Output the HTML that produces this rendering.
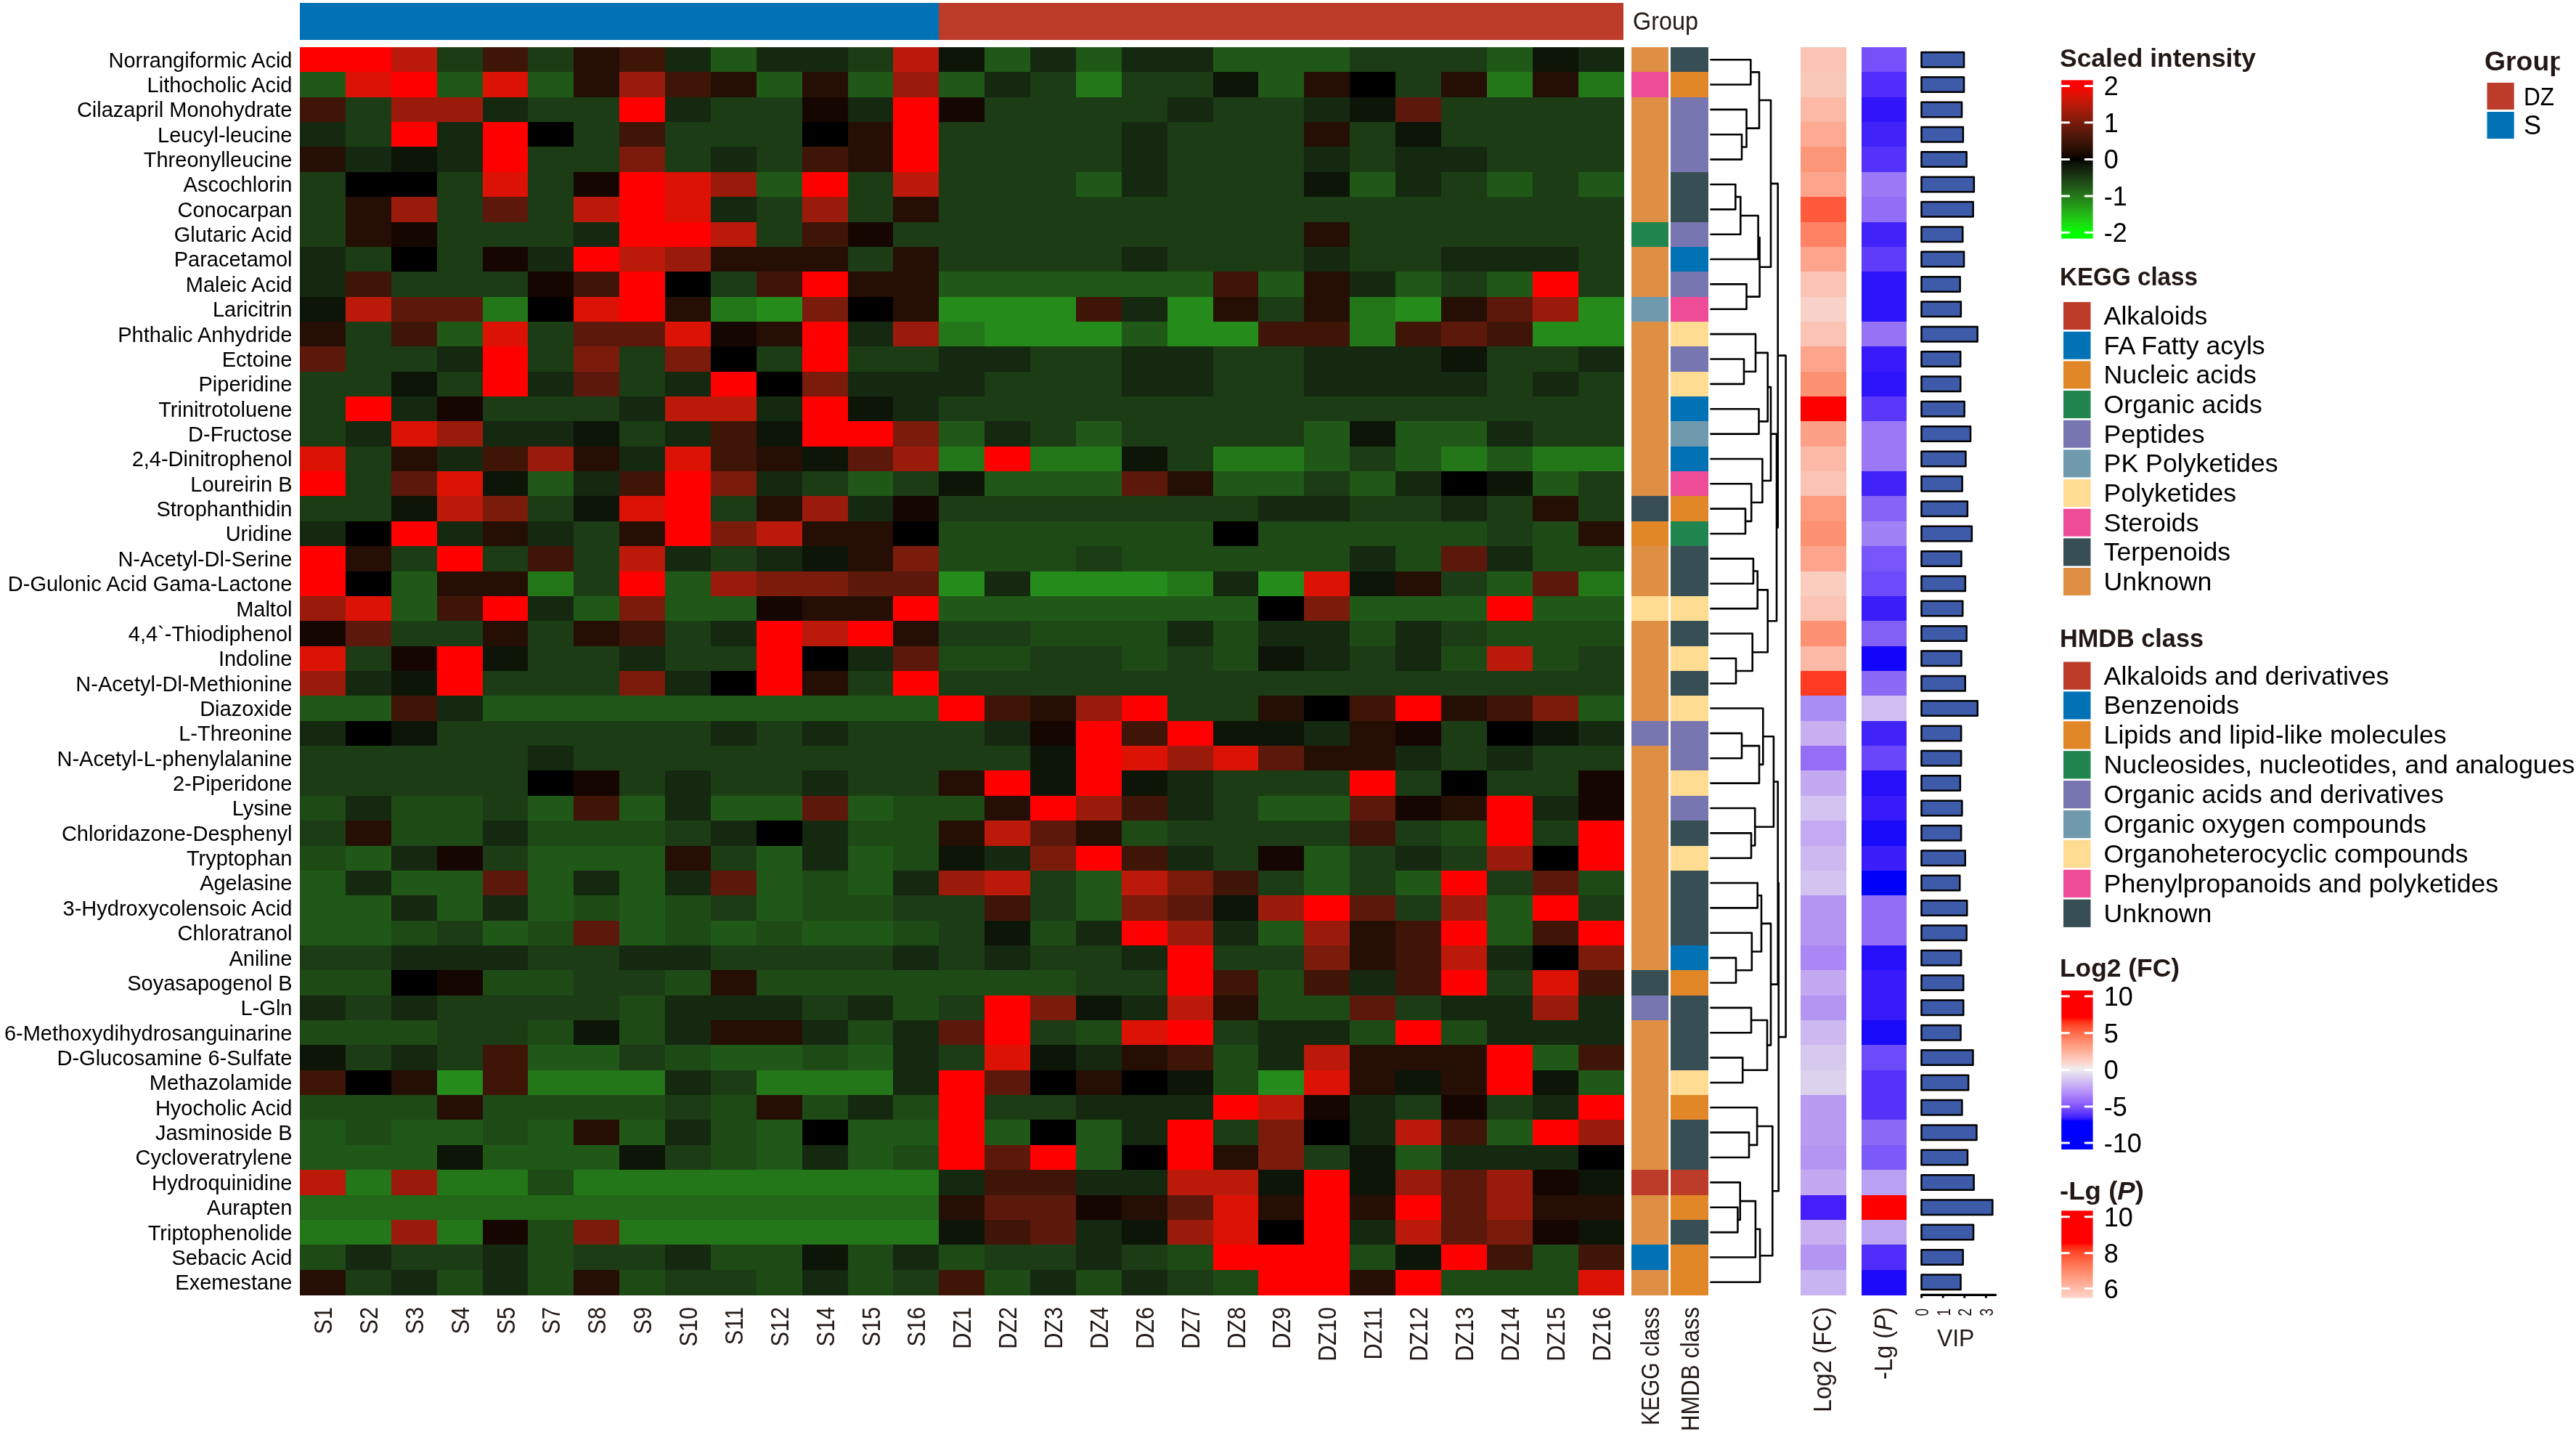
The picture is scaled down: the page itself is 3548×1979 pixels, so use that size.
<!DOCTYPE html>
<html><head><meta charset="utf-8"><style>
html,body{margin:0;padding:0;background:#fff;}
#wrap{position:relative;width:3548px;height:1979px;overflow:hidden;}
svg text{font-family:"Liberation Sans",sans-serif;}
</style></head><body><div id="wrap">
<svg width="3548" height="1979" viewBox="0 0 3548 1979" shape-rendering="crispEdges">
<rect x="0" y="0" width="3548" height="1979" fill="#ffffff"/>
<rect x="413.0" y="4" width="880.26" height="50.8" fill="#0072B5"/>
<rect x="1293.26" y="4" width="943.14" height="50.8" fill="#BC3C29"/>
<rect x="413.00" y="65.00" width="63.48" height="34.96" fill="#ff0000"/>
<rect x="475.88" y="65.00" width="63.48" height="34.96" fill="#ff0000"/>
<rect x="538.75" y="65.00" width="63.48" height="34.96" fill="#bb1909"/>
<rect x="601.63" y="65.00" width="63.48" height="34.96" fill="#1b3c14"/>
<rect x="664.50" y="65.00" width="63.48" height="34.96" fill="#3f1508"/>
<rect x="727.38" y="65.00" width="63.48" height="34.96" fill="#1b3c14"/>
<rect x="790.26" y="65.00" width="63.48" height="34.96" fill="#250f04"/>
<rect x="853.13" y="65.00" width="63.48" height="34.96" fill="#3f1508"/>
<rect x="916.01" y="65.00" width="63.48" height="34.96" fill="#152810"/>
<rect x="978.88" y="65.00" width="63.48" height="34.96" fill="#205917"/>
<rect x="1041.76" y="65.00" width="63.48" height="34.96" fill="#152810"/>
<rect x="1104.63" y="65.00" width="63.48" height="34.96" fill="#152810"/>
<rect x="1167.51" y="65.00" width="63.48" height="34.96" fill="#1b3c14"/>
<rect x="1230.39" y="65.00" width="63.48" height="34.96" fill="#bb1909"/>
<rect x="1293.26" y="65.00" width="63.48" height="34.96" fill="#0c1507"/>
<rect x="1356.14" y="65.00" width="63.48" height="34.96" fill="#205917"/>
<rect x="1419.01" y="65.00" width="63.48" height="34.96" fill="#152810"/>
<rect x="1481.89" y="65.00" width="63.48" height="34.96" fill="#205917"/>
<rect x="1544.77" y="65.00" width="63.48" height="34.96" fill="#152810"/>
<rect x="1607.64" y="65.00" width="63.48" height="34.96" fill="#152810"/>
<rect x="1670.52" y="65.00" width="63.48" height="34.96" fill="#205917"/>
<rect x="1733.39" y="65.00" width="63.48" height="34.96" fill="#205917"/>
<rect x="1796.27" y="65.00" width="63.48" height="34.96" fill="#205917"/>
<rect x="1859.14" y="65.00" width="63.48" height="34.96" fill="#1b3c14"/>
<rect x="1922.02" y="65.00" width="63.48" height="34.96" fill="#1b3c14"/>
<rect x="1984.90" y="65.00" width="63.48" height="34.96" fill="#1b3c14"/>
<rect x="2047.77" y="65.00" width="63.48" height="34.96" fill="#205917"/>
<rect x="2110.65" y="65.00" width="63.48" height="34.96" fill="#0c1507"/>
<rect x="2173.52" y="65.00" width="63.48" height="34.96" fill="#152810"/>
<rect x="413.00" y="99.36" width="63.48" height="34.96" fill="#205917"/>
<rect x="475.88" y="99.36" width="63.48" height="34.96" fill="#dc1205"/>
<rect x="538.75" y="99.36" width="63.48" height="34.96" fill="#ff0000"/>
<rect x="601.63" y="99.36" width="63.48" height="34.96" fill="#205917"/>
<rect x="664.50" y="99.36" width="63.48" height="34.96" fill="#dc1205"/>
<rect x="727.38" y="99.36" width="63.48" height="34.96" fill="#205917"/>
<rect x="790.26" y="99.36" width="63.48" height="34.96" fill="#250f04"/>
<rect x="853.13" y="99.36" width="63.48" height="34.96" fill="#9a1b0b"/>
<rect x="916.01" y="99.36" width="63.48" height="34.96" fill="#3f1508"/>
<rect x="978.88" y="99.36" width="63.48" height="34.96" fill="#250f04"/>
<rect x="1041.76" y="99.36" width="63.48" height="34.96" fill="#205917"/>
<rect x="1104.63" y="99.36" width="63.48" height="34.96" fill="#250f04"/>
<rect x="1167.51" y="99.36" width="63.48" height="34.96" fill="#205917"/>
<rect x="1230.39" y="99.36" width="63.48" height="34.96" fill="#9a1b0b"/>
<rect x="1293.26" y="99.36" width="63.48" height="34.96" fill="#205917"/>
<rect x="1356.14" y="99.36" width="63.48" height="34.96" fill="#152810"/>
<rect x="1419.01" y="99.36" width="63.48" height="34.96" fill="#1b3c14"/>
<rect x="1481.89" y="99.36" width="63.48" height="34.96" fill="#247719"/>
<rect x="1544.77" y="99.36" width="63.48" height="34.96" fill="#1b3c14"/>
<rect x="1607.64" y="99.36" width="63.48" height="34.96" fill="#1b3c14"/>
<rect x="1670.52" y="99.36" width="63.48" height="34.96" fill="#0c1507"/>
<rect x="1733.39" y="99.36" width="63.48" height="34.96" fill="#205917"/>
<rect x="1796.27" y="99.36" width="63.48" height="34.96" fill="#250f04"/>
<rect x="1859.14" y="99.36" width="63.48" height="34.96" fill="#000000"/>
<rect x="1922.02" y="99.36" width="63.48" height="34.96" fill="#1b3c14"/>
<rect x="1984.90" y="99.36" width="63.48" height="34.96" fill="#250f04"/>
<rect x="2047.77" y="99.36" width="63.48" height="34.96" fill="#247719"/>
<rect x="2110.65" y="99.36" width="63.48" height="34.96" fill="#250f04"/>
<rect x="2173.52" y="99.36" width="63.48" height="34.96" fill="#247719"/>
<rect x="413.00" y="133.72" width="63.48" height="34.96" fill="#3f1508"/>
<rect x="475.88" y="133.72" width="63.48" height="34.96" fill="#1b3c14"/>
<rect x="538.75" y="133.72" width="63.48" height="34.96" fill="#9a1b0b"/>
<rect x="601.63" y="133.72" width="63.48" height="34.96" fill="#9a1b0b"/>
<rect x="664.50" y="133.72" width="63.48" height="34.96" fill="#152810"/>
<rect x="727.38" y="133.72" width="63.48" height="34.96" fill="#1b3c14"/>
<rect x="790.26" y="133.72" width="63.48" height="34.96" fill="#1b3c14"/>
<rect x="853.13" y="133.72" width="63.48" height="34.96" fill="#ff0000"/>
<rect x="916.01" y="133.72" width="63.48" height="34.96" fill="#152810"/>
<rect x="978.88" y="133.72" width="63.48" height="34.96" fill="#1b3c14"/>
<rect x="1041.76" y="133.72" width="63.48" height="34.96" fill="#1b3c14"/>
<rect x="1104.63" y="133.72" width="63.48" height="34.96" fill="#150602"/>
<rect x="1167.51" y="133.72" width="63.48" height="34.96" fill="#152810"/>
<rect x="1230.39" y="133.72" width="63.48" height="34.96" fill="#ff0000"/>
<rect x="1293.26" y="133.72" width="63.48" height="34.96" fill="#150602"/>
<rect x="1356.14" y="133.72" width="63.48" height="34.96" fill="#1b3c14"/>
<rect x="1419.01" y="133.72" width="63.48" height="34.96" fill="#1b3c14"/>
<rect x="1481.89" y="133.72" width="63.48" height="34.96" fill="#1b3c14"/>
<rect x="1544.77" y="133.72" width="63.48" height="34.96" fill="#1b3c14"/>
<rect x="1607.64" y="133.72" width="63.48" height="34.96" fill="#152810"/>
<rect x="1670.52" y="133.72" width="63.48" height="34.96" fill="#1b3c14"/>
<rect x="1733.39" y="133.72" width="63.48" height="34.96" fill="#1b3c14"/>
<rect x="1796.27" y="133.72" width="63.48" height="34.96" fill="#152810"/>
<rect x="1859.14" y="133.72" width="63.48" height="34.96" fill="#0c1507"/>
<rect x="1922.02" y="133.72" width="63.48" height="34.96" fill="#5c190b"/>
<rect x="1984.90" y="133.72" width="63.48" height="34.96" fill="#1b3c14"/>
<rect x="2047.77" y="133.72" width="63.48" height="34.96" fill="#1b3c14"/>
<rect x="2110.65" y="133.72" width="63.48" height="34.96" fill="#1b3c14"/>
<rect x="2173.52" y="133.72" width="63.48" height="34.96" fill="#1b3c14"/>
<rect x="413.00" y="168.08" width="63.48" height="34.96" fill="#152810"/>
<rect x="475.88" y="168.08" width="63.48" height="34.96" fill="#1b3c14"/>
<rect x="538.75" y="168.08" width="63.48" height="34.96" fill="#ff0000"/>
<rect x="601.63" y="168.08" width="63.48" height="34.96" fill="#152810"/>
<rect x="664.50" y="168.08" width="63.48" height="34.96" fill="#ff0000"/>
<rect x="727.38" y="168.08" width="63.48" height="34.96" fill="#000000"/>
<rect x="790.26" y="168.08" width="63.48" height="34.96" fill="#1b3c14"/>
<rect x="853.13" y="168.08" width="63.48" height="34.96" fill="#3f1508"/>
<rect x="916.01" y="168.08" width="63.48" height="34.96" fill="#1b3c14"/>
<rect x="978.88" y="168.08" width="63.48" height="34.96" fill="#1b3c14"/>
<rect x="1041.76" y="168.08" width="63.48" height="34.96" fill="#1b3c14"/>
<rect x="1104.63" y="168.08" width="63.48" height="34.96" fill="#000000"/>
<rect x="1167.51" y="168.08" width="63.48" height="34.96" fill="#250f04"/>
<rect x="1230.39" y="168.08" width="63.48" height="34.96" fill="#ff0000"/>
<rect x="1293.26" y="168.08" width="63.48" height="34.96" fill="#1b3c14"/>
<rect x="1356.14" y="168.08" width="63.48" height="34.96" fill="#1b3c14"/>
<rect x="1419.01" y="168.08" width="63.48" height="34.96" fill="#1b3c14"/>
<rect x="1481.89" y="168.08" width="63.48" height="34.96" fill="#1b3c14"/>
<rect x="1544.77" y="168.08" width="63.48" height="34.96" fill="#152810"/>
<rect x="1607.64" y="168.08" width="63.48" height="34.96" fill="#1b3c14"/>
<rect x="1670.52" y="168.08" width="63.48" height="34.96" fill="#1b3c14"/>
<rect x="1733.39" y="168.08" width="63.48" height="34.96" fill="#1b3c14"/>
<rect x="1796.27" y="168.08" width="63.48" height="34.96" fill="#250f04"/>
<rect x="1859.14" y="168.08" width="63.48" height="34.96" fill="#1b3c14"/>
<rect x="1922.02" y="168.08" width="63.48" height="34.96" fill="#0c1507"/>
<rect x="1984.90" y="168.08" width="63.48" height="34.96" fill="#1b3c14"/>
<rect x="2047.77" y="168.08" width="63.48" height="34.96" fill="#1b3c14"/>
<rect x="2110.65" y="168.08" width="63.48" height="34.96" fill="#1b3c14"/>
<rect x="2173.52" y="168.08" width="63.48" height="34.96" fill="#1b3c14"/>
<rect x="413.00" y="202.44" width="63.48" height="34.96" fill="#250f04"/>
<rect x="475.88" y="202.44" width="63.48" height="34.96" fill="#152810"/>
<rect x="538.75" y="202.44" width="63.48" height="34.96" fill="#0c1507"/>
<rect x="601.63" y="202.44" width="63.48" height="34.96" fill="#152810"/>
<rect x="664.50" y="202.44" width="63.48" height="34.96" fill="#ff0000"/>
<rect x="727.38" y="202.44" width="63.48" height="34.96" fill="#1b3c14"/>
<rect x="790.26" y="202.44" width="63.48" height="34.96" fill="#1b3c14"/>
<rect x="853.13" y="202.44" width="63.48" height="34.96" fill="#7a1b0c"/>
<rect x="916.01" y="202.44" width="63.48" height="34.96" fill="#1b3c14"/>
<rect x="978.88" y="202.44" width="63.48" height="34.96" fill="#152810"/>
<rect x="1041.76" y="202.44" width="63.48" height="34.96" fill="#1b3c14"/>
<rect x="1104.63" y="202.44" width="63.48" height="34.96" fill="#3f1508"/>
<rect x="1167.51" y="202.44" width="63.48" height="34.96" fill="#250f04"/>
<rect x="1230.39" y="202.44" width="63.48" height="34.96" fill="#ff0000"/>
<rect x="1293.26" y="202.44" width="63.48" height="34.96" fill="#1b3c14"/>
<rect x="1356.14" y="202.44" width="63.48" height="34.96" fill="#1b3c14"/>
<rect x="1419.01" y="202.44" width="63.48" height="34.96" fill="#1b3c14"/>
<rect x="1481.89" y="202.44" width="63.48" height="34.96" fill="#1b3c14"/>
<rect x="1544.77" y="202.44" width="63.48" height="34.96" fill="#152810"/>
<rect x="1607.64" y="202.44" width="63.48" height="34.96" fill="#1b3c14"/>
<rect x="1670.52" y="202.44" width="63.48" height="34.96" fill="#1b3c14"/>
<rect x="1733.39" y="202.44" width="63.48" height="34.96" fill="#1b3c14"/>
<rect x="1796.27" y="202.44" width="63.48" height="34.96" fill="#152810"/>
<rect x="1859.14" y="202.44" width="63.48" height="34.96" fill="#1b3c14"/>
<rect x="1922.02" y="202.44" width="63.48" height="34.96" fill="#152810"/>
<rect x="1984.90" y="202.44" width="63.48" height="34.96" fill="#152810"/>
<rect x="2047.77" y="202.44" width="63.48" height="34.96" fill="#1b3c14"/>
<rect x="2110.65" y="202.44" width="63.48" height="34.96" fill="#1b3c14"/>
<rect x="2173.52" y="202.44" width="63.48" height="34.96" fill="#1b3c14"/>
<rect x="413.00" y="236.80" width="63.48" height="34.96" fill="#1b3c14"/>
<rect x="475.88" y="236.80" width="63.48" height="34.96" fill="#000000"/>
<rect x="538.75" y="236.80" width="63.48" height="34.96" fill="#000000"/>
<rect x="601.63" y="236.80" width="63.48" height="34.96" fill="#1b3c14"/>
<rect x="664.50" y="236.80" width="63.48" height="34.96" fill="#dc1205"/>
<rect x="727.38" y="236.80" width="63.48" height="34.96" fill="#1b3c14"/>
<rect x="790.26" y="236.80" width="63.48" height="34.96" fill="#150602"/>
<rect x="853.13" y="236.80" width="63.48" height="34.96" fill="#ff0000"/>
<rect x="916.01" y="236.80" width="63.48" height="34.96" fill="#dc1205"/>
<rect x="978.88" y="236.80" width="63.48" height="34.96" fill="#9a1b0b"/>
<rect x="1041.76" y="236.80" width="63.48" height="34.96" fill="#205917"/>
<rect x="1104.63" y="236.80" width="63.48" height="34.96" fill="#ff0000"/>
<rect x="1167.51" y="236.80" width="63.48" height="34.96" fill="#1b3c14"/>
<rect x="1230.39" y="236.80" width="63.48" height="34.96" fill="#bb1909"/>
<rect x="1293.26" y="236.80" width="63.48" height="34.96" fill="#1b3c14"/>
<rect x="1356.14" y="236.80" width="63.48" height="34.96" fill="#1b3c14"/>
<rect x="1419.01" y="236.80" width="63.48" height="34.96" fill="#1b3c14"/>
<rect x="1481.89" y="236.80" width="63.48" height="34.96" fill="#205917"/>
<rect x="1544.77" y="236.80" width="63.48" height="34.96" fill="#152810"/>
<rect x="1607.64" y="236.80" width="63.48" height="34.96" fill="#1b3c14"/>
<rect x="1670.52" y="236.80" width="63.48" height="34.96" fill="#1b3c14"/>
<rect x="1733.39" y="236.80" width="63.48" height="34.96" fill="#1b3c14"/>
<rect x="1796.27" y="236.80" width="63.48" height="34.96" fill="#0c1507"/>
<rect x="1859.14" y="236.80" width="63.48" height="34.96" fill="#205917"/>
<rect x="1922.02" y="236.80" width="63.48" height="34.96" fill="#152810"/>
<rect x="1984.90" y="236.80" width="63.48" height="34.96" fill="#1b3c14"/>
<rect x="2047.77" y="236.80" width="63.48" height="34.96" fill="#205917"/>
<rect x="2110.65" y="236.80" width="63.48" height="34.96" fill="#1b3c14"/>
<rect x="2173.52" y="236.80" width="63.48" height="34.96" fill="#205917"/>
<rect x="413.00" y="271.16" width="63.48" height="34.96" fill="#1b3c14"/>
<rect x="475.88" y="271.16" width="63.48" height="34.96" fill="#250f04"/>
<rect x="538.75" y="271.16" width="63.48" height="34.96" fill="#9a1b0b"/>
<rect x="601.63" y="271.16" width="63.48" height="34.96" fill="#1b3c14"/>
<rect x="664.50" y="271.16" width="63.48" height="34.96" fill="#5c190b"/>
<rect x="727.38" y="271.16" width="63.48" height="34.96" fill="#1b3c14"/>
<rect x="790.26" y="271.16" width="63.48" height="34.96" fill="#bb1909"/>
<rect x="853.13" y="271.16" width="63.48" height="34.96" fill="#ff0000"/>
<rect x="916.01" y="271.16" width="63.48" height="34.96" fill="#dc1205"/>
<rect x="978.88" y="271.16" width="63.48" height="34.96" fill="#152810"/>
<rect x="1041.76" y="271.16" width="63.48" height="34.96" fill="#1b3c14"/>
<rect x="1104.63" y="271.16" width="63.48" height="34.96" fill="#9a1b0b"/>
<rect x="1167.51" y="271.16" width="63.48" height="34.96" fill="#1b3c14"/>
<rect x="1230.39" y="271.16" width="63.48" height="34.96" fill="#250f04"/>
<rect x="1293.26" y="271.16" width="63.48" height="34.96" fill="#1b3c14"/>
<rect x="1356.14" y="271.16" width="63.48" height="34.96" fill="#1b3c14"/>
<rect x="1419.01" y="271.16" width="63.48" height="34.96" fill="#1b3c14"/>
<rect x="1481.89" y="271.16" width="63.48" height="34.96" fill="#1b3c14"/>
<rect x="1544.77" y="271.16" width="63.48" height="34.96" fill="#1b3c14"/>
<rect x="1607.64" y="271.16" width="63.48" height="34.96" fill="#1b3c14"/>
<rect x="1670.52" y="271.16" width="63.48" height="34.96" fill="#1b3c14"/>
<rect x="1733.39" y="271.16" width="63.48" height="34.96" fill="#1b3c14"/>
<rect x="1796.27" y="271.16" width="63.48" height="34.96" fill="#1b3c14"/>
<rect x="1859.14" y="271.16" width="63.48" height="34.96" fill="#1b3c14"/>
<rect x="1922.02" y="271.16" width="63.48" height="34.96" fill="#1b3c14"/>
<rect x="1984.90" y="271.16" width="63.48" height="34.96" fill="#1b3c14"/>
<rect x="2047.77" y="271.16" width="63.48" height="34.96" fill="#1b3c14"/>
<rect x="2110.65" y="271.16" width="63.48" height="34.96" fill="#1b3c14"/>
<rect x="2173.52" y="271.16" width="63.48" height="34.96" fill="#1b3c14"/>
<rect x="413.00" y="305.52" width="63.48" height="34.96" fill="#1b3c14"/>
<rect x="475.88" y="305.52" width="63.48" height="34.96" fill="#250f04"/>
<rect x="538.75" y="305.52" width="63.48" height="34.96" fill="#150602"/>
<rect x="601.63" y="305.52" width="63.48" height="34.96" fill="#1b3c14"/>
<rect x="664.50" y="305.52" width="63.48" height="34.96" fill="#1b3c14"/>
<rect x="727.38" y="305.52" width="63.48" height="34.96" fill="#1b3c14"/>
<rect x="790.26" y="305.52" width="63.48" height="34.96" fill="#152810"/>
<rect x="853.13" y="305.52" width="63.48" height="34.96" fill="#ff0000"/>
<rect x="916.01" y="305.52" width="63.48" height="34.96" fill="#ff0000"/>
<rect x="978.88" y="305.52" width="63.48" height="34.96" fill="#bb1909"/>
<rect x="1041.76" y="305.52" width="63.48" height="34.96" fill="#1b3c14"/>
<rect x="1104.63" y="305.52" width="63.48" height="34.96" fill="#3f1508"/>
<rect x="1167.51" y="305.52" width="63.48" height="34.96" fill="#150602"/>
<rect x="1230.39" y="305.52" width="63.48" height="34.96" fill="#1b3c14"/>
<rect x="1293.26" y="305.52" width="63.48" height="34.96" fill="#1b3c14"/>
<rect x="1356.14" y="305.52" width="63.48" height="34.96" fill="#1b3c14"/>
<rect x="1419.01" y="305.52" width="63.48" height="34.96" fill="#1b3c14"/>
<rect x="1481.89" y="305.52" width="63.48" height="34.96" fill="#1b3c14"/>
<rect x="1544.77" y="305.52" width="63.48" height="34.96" fill="#1b3c14"/>
<rect x="1607.64" y="305.52" width="63.48" height="34.96" fill="#1b3c14"/>
<rect x="1670.52" y="305.52" width="63.48" height="34.96" fill="#1b3c14"/>
<rect x="1733.39" y="305.52" width="63.48" height="34.96" fill="#1b3c14"/>
<rect x="1796.27" y="305.52" width="63.48" height="34.96" fill="#250f04"/>
<rect x="1859.14" y="305.52" width="63.48" height="34.96" fill="#1b3c14"/>
<rect x="1922.02" y="305.52" width="63.48" height="34.96" fill="#1b3c14"/>
<rect x="1984.90" y="305.52" width="63.48" height="34.96" fill="#1b3c14"/>
<rect x="2047.77" y="305.52" width="63.48" height="34.96" fill="#1b3c14"/>
<rect x="2110.65" y="305.52" width="63.48" height="34.96" fill="#1b3c14"/>
<rect x="2173.52" y="305.52" width="63.48" height="34.96" fill="#1b3c14"/>
<rect x="413.00" y="339.88" width="63.48" height="34.96" fill="#152810"/>
<rect x="475.88" y="339.88" width="63.48" height="34.96" fill="#1b3c14"/>
<rect x="538.75" y="339.88" width="63.48" height="34.96" fill="#000000"/>
<rect x="601.63" y="339.88" width="63.48" height="34.96" fill="#1b3c14"/>
<rect x="664.50" y="339.88" width="63.48" height="34.96" fill="#150602"/>
<rect x="727.38" y="339.88" width="63.48" height="34.96" fill="#152810"/>
<rect x="790.26" y="339.88" width="63.48" height="34.96" fill="#ff0000"/>
<rect x="853.13" y="339.88" width="63.48" height="34.96" fill="#bb1909"/>
<rect x="916.01" y="339.88" width="63.48" height="34.96" fill="#9a1b0b"/>
<rect x="978.88" y="339.88" width="63.48" height="34.96" fill="#250f04"/>
<rect x="1041.76" y="339.88" width="63.48" height="34.96" fill="#250f04"/>
<rect x="1104.63" y="339.88" width="63.48" height="34.96" fill="#250f04"/>
<rect x="1167.51" y="339.88" width="63.48" height="34.96" fill="#1b3c14"/>
<rect x="1230.39" y="339.88" width="63.48" height="34.96" fill="#250f04"/>
<rect x="1293.26" y="339.88" width="63.48" height="34.96" fill="#1b3c14"/>
<rect x="1356.14" y="339.88" width="63.48" height="34.96" fill="#1b3c14"/>
<rect x="1419.01" y="339.88" width="63.48" height="34.96" fill="#1b3c14"/>
<rect x="1481.89" y="339.88" width="63.48" height="34.96" fill="#1b3c14"/>
<rect x="1544.77" y="339.88" width="63.48" height="34.96" fill="#152810"/>
<rect x="1607.64" y="339.88" width="63.48" height="34.96" fill="#1b3c14"/>
<rect x="1670.52" y="339.88" width="63.48" height="34.96" fill="#1b3c14"/>
<rect x="1733.39" y="339.88" width="63.48" height="34.96" fill="#1b3c14"/>
<rect x="1796.27" y="339.88" width="63.48" height="34.96" fill="#152810"/>
<rect x="1859.14" y="339.88" width="63.48" height="34.96" fill="#1b3c14"/>
<rect x="1922.02" y="339.88" width="63.48" height="34.96" fill="#1b3c14"/>
<rect x="1984.90" y="339.88" width="63.48" height="34.96" fill="#152810"/>
<rect x="2047.77" y="339.88" width="63.48" height="34.96" fill="#152810"/>
<rect x="2110.65" y="339.88" width="63.48" height="34.96" fill="#152810"/>
<rect x="2173.52" y="339.88" width="63.48" height="34.96" fill="#1b3c14"/>
<rect x="413.00" y="374.24" width="63.48" height="34.96" fill="#152810"/>
<rect x="475.88" y="374.24" width="63.48" height="34.96" fill="#3f1508"/>
<rect x="538.75" y="374.24" width="63.48" height="34.96" fill="#1b3c14"/>
<rect x="601.63" y="374.24" width="63.48" height="34.96" fill="#1b3c14"/>
<rect x="664.50" y="374.24" width="63.48" height="34.96" fill="#1b3c14"/>
<rect x="727.38" y="374.24" width="63.48" height="34.96" fill="#150602"/>
<rect x="790.26" y="374.24" width="63.48" height="34.96" fill="#3f1508"/>
<rect x="853.13" y="374.24" width="63.48" height="34.96" fill="#ff0000"/>
<rect x="916.01" y="374.24" width="63.48" height="34.96" fill="#000000"/>
<rect x="978.88" y="374.24" width="63.48" height="34.96" fill="#1b3c14"/>
<rect x="1041.76" y="374.24" width="63.48" height="34.96" fill="#3f1508"/>
<rect x="1104.63" y="374.24" width="63.48" height="34.96" fill="#ff0000"/>
<rect x="1167.51" y="374.24" width="63.48" height="34.96" fill="#250f04"/>
<rect x="1230.39" y="374.24" width="63.48" height="34.96" fill="#250f04"/>
<rect x="1293.26" y="374.24" width="63.48" height="34.96" fill="#205917"/>
<rect x="1356.14" y="374.24" width="63.48" height="34.96" fill="#205917"/>
<rect x="1419.01" y="374.24" width="63.48" height="34.96" fill="#205917"/>
<rect x="1481.89" y="374.24" width="63.48" height="34.96" fill="#205917"/>
<rect x="1544.77" y="374.24" width="63.48" height="34.96" fill="#205917"/>
<rect x="1607.64" y="374.24" width="63.48" height="34.96" fill="#205917"/>
<rect x="1670.52" y="374.24" width="63.48" height="34.96" fill="#3f1508"/>
<rect x="1733.39" y="374.24" width="63.48" height="34.96" fill="#205917"/>
<rect x="1796.27" y="374.24" width="63.48" height="34.96" fill="#250f04"/>
<rect x="1859.14" y="374.24" width="63.48" height="34.96" fill="#152810"/>
<rect x="1922.02" y="374.24" width="63.48" height="34.96" fill="#205917"/>
<rect x="1984.90" y="374.24" width="63.48" height="34.96" fill="#1b3c14"/>
<rect x="2047.77" y="374.24" width="63.48" height="34.96" fill="#205917"/>
<rect x="2110.65" y="374.24" width="63.48" height="34.96" fill="#ff0000"/>
<rect x="2173.52" y="374.24" width="63.48" height="34.96" fill="#1b3c14"/>
<rect x="413.00" y="408.60" width="63.48" height="34.96" fill="#0c1507"/>
<rect x="475.88" y="408.60" width="63.48" height="34.96" fill="#bb1909"/>
<rect x="538.75" y="408.60" width="63.48" height="34.96" fill="#5c190b"/>
<rect x="601.63" y="408.60" width="63.48" height="34.96" fill="#5c190b"/>
<rect x="664.50" y="408.60" width="63.48" height="34.96" fill="#247719"/>
<rect x="727.38" y="408.60" width="63.48" height="34.96" fill="#000000"/>
<rect x="790.26" y="408.60" width="63.48" height="34.96" fill="#dc1205"/>
<rect x="853.13" y="408.60" width="63.48" height="34.96" fill="#ff0000"/>
<rect x="916.01" y="408.60" width="63.48" height="34.96" fill="#250f04"/>
<rect x="978.88" y="408.60" width="63.48" height="34.96" fill="#247719"/>
<rect x="1041.76" y="408.60" width="63.48" height="34.96" fill="#258b1a"/>
<rect x="1104.63" y="408.60" width="63.48" height="34.96" fill="#7a1b0c"/>
<rect x="1167.51" y="408.60" width="63.48" height="34.96" fill="#000000"/>
<rect x="1230.39" y="408.60" width="63.48" height="34.96" fill="#250f04"/>
<rect x="1293.26" y="408.60" width="63.48" height="34.96" fill="#258b1a"/>
<rect x="1356.14" y="408.60" width="63.48" height="34.96" fill="#258b1a"/>
<rect x="1419.01" y="408.60" width="63.48" height="34.96" fill="#258b1a"/>
<rect x="1481.89" y="408.60" width="63.48" height="34.96" fill="#3f1508"/>
<rect x="1544.77" y="408.60" width="63.48" height="34.96" fill="#152810"/>
<rect x="1607.64" y="408.60" width="63.48" height="34.96" fill="#258b1a"/>
<rect x="1670.52" y="408.60" width="63.48" height="34.96" fill="#250f04"/>
<rect x="1733.39" y="408.60" width="63.48" height="34.96" fill="#1b3c14"/>
<rect x="1796.27" y="408.60" width="63.48" height="34.96" fill="#250f04"/>
<rect x="1859.14" y="408.60" width="63.48" height="34.96" fill="#247719"/>
<rect x="1922.02" y="408.60" width="63.48" height="34.96" fill="#258b1a"/>
<rect x="1984.90" y="408.60" width="63.48" height="34.96" fill="#250f04"/>
<rect x="2047.77" y="408.60" width="63.48" height="34.96" fill="#5c190b"/>
<rect x="2110.65" y="408.60" width="63.48" height="34.96" fill="#9a1b0b"/>
<rect x="2173.52" y="408.60" width="63.48" height="34.96" fill="#258b1a"/>
<rect x="413.00" y="442.96" width="63.48" height="34.96" fill="#250f04"/>
<rect x="475.88" y="442.96" width="63.48" height="34.96" fill="#1b3c14"/>
<rect x="538.75" y="442.96" width="63.48" height="34.96" fill="#3f1508"/>
<rect x="601.63" y="442.96" width="63.48" height="34.96" fill="#205917"/>
<rect x="664.50" y="442.96" width="63.48" height="34.96" fill="#dc1205"/>
<rect x="727.38" y="442.96" width="63.48" height="34.96" fill="#1b3c14"/>
<rect x="790.26" y="442.96" width="63.48" height="34.96" fill="#5c190b"/>
<rect x="853.13" y="442.96" width="63.48" height="34.96" fill="#5c190b"/>
<rect x="916.01" y="442.96" width="63.48" height="34.96" fill="#dc1205"/>
<rect x="978.88" y="442.96" width="63.48" height="34.96" fill="#150602"/>
<rect x="1041.76" y="442.96" width="63.48" height="34.96" fill="#250f04"/>
<rect x="1104.63" y="442.96" width="63.48" height="34.96" fill="#ff0000"/>
<rect x="1167.51" y="442.96" width="63.48" height="34.96" fill="#152810"/>
<rect x="1230.39" y="442.96" width="63.48" height="34.96" fill="#9a1b0b"/>
<rect x="1293.26" y="442.96" width="63.48" height="34.96" fill="#247719"/>
<rect x="1356.14" y="442.96" width="63.48" height="34.96" fill="#258b1a"/>
<rect x="1419.01" y="442.96" width="63.48" height="34.96" fill="#258b1a"/>
<rect x="1481.89" y="442.96" width="63.48" height="34.96" fill="#258b1a"/>
<rect x="1544.77" y="442.96" width="63.48" height="34.96" fill="#205917"/>
<rect x="1607.64" y="442.96" width="63.48" height="34.96" fill="#258b1a"/>
<rect x="1670.52" y="442.96" width="63.48" height="34.96" fill="#258b1a"/>
<rect x="1733.39" y="442.96" width="63.48" height="34.96" fill="#3f1508"/>
<rect x="1796.27" y="442.96" width="63.48" height="34.96" fill="#3f1508"/>
<rect x="1859.14" y="442.96" width="63.48" height="34.96" fill="#247719"/>
<rect x="1922.02" y="442.96" width="63.48" height="34.96" fill="#3f1508"/>
<rect x="1984.90" y="442.96" width="63.48" height="34.96" fill="#5c190b"/>
<rect x="2047.77" y="442.96" width="63.48" height="34.96" fill="#3f1508"/>
<rect x="2110.65" y="442.96" width="63.48" height="34.96" fill="#258b1a"/>
<rect x="2173.52" y="442.96" width="63.48" height="34.96" fill="#258b1a"/>
<rect x="413.00" y="477.32" width="63.48" height="34.96" fill="#5c190b"/>
<rect x="475.88" y="477.32" width="63.48" height="34.96" fill="#1b3c14"/>
<rect x="538.75" y="477.32" width="63.48" height="34.96" fill="#1b3c14"/>
<rect x="601.63" y="477.32" width="63.48" height="34.96" fill="#152810"/>
<rect x="664.50" y="477.32" width="63.48" height="34.96" fill="#ff0000"/>
<rect x="727.38" y="477.32" width="63.48" height="34.96" fill="#1b3c14"/>
<rect x="790.26" y="477.32" width="63.48" height="34.96" fill="#7a1b0c"/>
<rect x="853.13" y="477.32" width="63.48" height="34.96" fill="#1b3c14"/>
<rect x="916.01" y="477.32" width="63.48" height="34.96" fill="#7a1b0c"/>
<rect x="978.88" y="477.32" width="63.48" height="34.96" fill="#000000"/>
<rect x="1041.76" y="477.32" width="63.48" height="34.96" fill="#1b3c14"/>
<rect x="1104.63" y="477.32" width="63.48" height="34.96" fill="#ff0000"/>
<rect x="1167.51" y="477.32" width="63.48" height="34.96" fill="#1b3c14"/>
<rect x="1230.39" y="477.32" width="63.48" height="34.96" fill="#1b3c14"/>
<rect x="1293.26" y="477.32" width="63.48" height="34.96" fill="#152810"/>
<rect x="1356.14" y="477.32" width="63.48" height="34.96" fill="#152810"/>
<rect x="1419.01" y="477.32" width="63.48" height="34.96" fill="#1b3c14"/>
<rect x="1481.89" y="477.32" width="63.48" height="34.96" fill="#1b3c14"/>
<rect x="1544.77" y="477.32" width="63.48" height="34.96" fill="#152810"/>
<rect x="1607.64" y="477.32" width="63.48" height="34.96" fill="#152810"/>
<rect x="1670.52" y="477.32" width="63.48" height="34.96" fill="#1b3c14"/>
<rect x="1733.39" y="477.32" width="63.48" height="34.96" fill="#1b3c14"/>
<rect x="1796.27" y="477.32" width="63.48" height="34.96" fill="#152810"/>
<rect x="1859.14" y="477.32" width="63.48" height="34.96" fill="#152810"/>
<rect x="1922.02" y="477.32" width="63.48" height="34.96" fill="#152810"/>
<rect x="1984.90" y="477.32" width="63.48" height="34.96" fill="#0c1507"/>
<rect x="2047.77" y="477.32" width="63.48" height="34.96" fill="#1b3c14"/>
<rect x="2110.65" y="477.32" width="63.48" height="34.96" fill="#1b3c14"/>
<rect x="2173.52" y="477.32" width="63.48" height="34.96" fill="#152810"/>
<rect x="413.00" y="511.68" width="63.48" height="34.96" fill="#1b3c14"/>
<rect x="475.88" y="511.68" width="63.48" height="34.96" fill="#1b3c14"/>
<rect x="538.75" y="511.68" width="63.48" height="34.96" fill="#0c1507"/>
<rect x="601.63" y="511.68" width="63.48" height="34.96" fill="#1b3c14"/>
<rect x="664.50" y="511.68" width="63.48" height="34.96" fill="#ff0000"/>
<rect x="727.38" y="511.68" width="63.48" height="34.96" fill="#152810"/>
<rect x="790.26" y="511.68" width="63.48" height="34.96" fill="#5c190b"/>
<rect x="853.13" y="511.68" width="63.48" height="34.96" fill="#1b3c14"/>
<rect x="916.01" y="511.68" width="63.48" height="34.96" fill="#152810"/>
<rect x="978.88" y="511.68" width="63.48" height="34.96" fill="#ff0000"/>
<rect x="1041.76" y="511.68" width="63.48" height="34.96" fill="#000000"/>
<rect x="1104.63" y="511.68" width="63.48" height="34.96" fill="#7a1b0c"/>
<rect x="1167.51" y="511.68" width="63.48" height="34.96" fill="#152810"/>
<rect x="1230.39" y="511.68" width="63.48" height="34.96" fill="#152810"/>
<rect x="1293.26" y="511.68" width="63.48" height="34.96" fill="#152810"/>
<rect x="1356.14" y="511.68" width="63.48" height="34.96" fill="#1b3c14"/>
<rect x="1419.01" y="511.68" width="63.48" height="34.96" fill="#1b3c14"/>
<rect x="1481.89" y="511.68" width="63.48" height="34.96" fill="#1b3c14"/>
<rect x="1544.77" y="511.68" width="63.48" height="34.96" fill="#152810"/>
<rect x="1607.64" y="511.68" width="63.48" height="34.96" fill="#152810"/>
<rect x="1670.52" y="511.68" width="63.48" height="34.96" fill="#1b3c14"/>
<rect x="1733.39" y="511.68" width="63.48" height="34.96" fill="#1b3c14"/>
<rect x="1796.27" y="511.68" width="63.48" height="34.96" fill="#152810"/>
<rect x="1859.14" y="511.68" width="63.48" height="34.96" fill="#152810"/>
<rect x="1922.02" y="511.68" width="63.48" height="34.96" fill="#152810"/>
<rect x="1984.90" y="511.68" width="63.48" height="34.96" fill="#152810"/>
<rect x="2047.77" y="511.68" width="63.48" height="34.96" fill="#1b3c14"/>
<rect x="2110.65" y="511.68" width="63.48" height="34.96" fill="#152810"/>
<rect x="2173.52" y="511.68" width="63.48" height="34.96" fill="#1b3c14"/>
<rect x="413.00" y="546.04" width="63.48" height="34.96" fill="#1b3c14"/>
<rect x="475.88" y="546.04" width="63.48" height="34.96" fill="#ff0000"/>
<rect x="538.75" y="546.04" width="63.48" height="34.96" fill="#152810"/>
<rect x="601.63" y="546.04" width="63.48" height="34.96" fill="#150602"/>
<rect x="664.50" y="546.04" width="63.48" height="34.96" fill="#1b3c14"/>
<rect x="727.38" y="546.04" width="63.48" height="34.96" fill="#1b3c14"/>
<rect x="790.26" y="546.04" width="63.48" height="34.96" fill="#1b3c14"/>
<rect x="853.13" y="546.04" width="63.48" height="34.96" fill="#152810"/>
<rect x="916.01" y="546.04" width="63.48" height="34.96" fill="#bb1909"/>
<rect x="978.88" y="546.04" width="63.48" height="34.96" fill="#bb1909"/>
<rect x="1041.76" y="546.04" width="63.48" height="34.96" fill="#152810"/>
<rect x="1104.63" y="546.04" width="63.48" height="34.96" fill="#ff0000"/>
<rect x="1167.51" y="546.04" width="63.48" height="34.96" fill="#0c1507"/>
<rect x="1230.39" y="546.04" width="63.48" height="34.96" fill="#152810"/>
<rect x="1293.26" y="546.04" width="63.48" height="34.96" fill="#1b3c14"/>
<rect x="1356.14" y="546.04" width="63.48" height="34.96" fill="#1b3c14"/>
<rect x="1419.01" y="546.04" width="63.48" height="34.96" fill="#1b3c14"/>
<rect x="1481.89" y="546.04" width="63.48" height="34.96" fill="#1b3c14"/>
<rect x="1544.77" y="546.04" width="63.48" height="34.96" fill="#1b3c14"/>
<rect x="1607.64" y="546.04" width="63.48" height="34.96" fill="#1b3c14"/>
<rect x="1670.52" y="546.04" width="63.48" height="34.96" fill="#1b3c14"/>
<rect x="1733.39" y="546.04" width="63.48" height="34.96" fill="#1b3c14"/>
<rect x="1796.27" y="546.04" width="63.48" height="34.96" fill="#1b3c14"/>
<rect x="1859.14" y="546.04" width="63.48" height="34.96" fill="#1b3c14"/>
<rect x="1922.02" y="546.04" width="63.48" height="34.96" fill="#1b3c14"/>
<rect x="1984.90" y="546.04" width="63.48" height="34.96" fill="#1b3c14"/>
<rect x="2047.77" y="546.04" width="63.48" height="34.96" fill="#1b3c14"/>
<rect x="2110.65" y="546.04" width="63.48" height="34.96" fill="#1b3c14"/>
<rect x="2173.52" y="546.04" width="63.48" height="34.96" fill="#1b3c14"/>
<rect x="413.00" y="580.40" width="63.48" height="34.96" fill="#1b3c14"/>
<rect x="475.88" y="580.40" width="63.48" height="34.96" fill="#152810"/>
<rect x="538.75" y="580.40" width="63.48" height="34.96" fill="#dc1205"/>
<rect x="601.63" y="580.40" width="63.48" height="34.96" fill="#9a1b0b"/>
<rect x="664.50" y="580.40" width="63.48" height="34.96" fill="#152810"/>
<rect x="727.38" y="580.40" width="63.48" height="34.96" fill="#152810"/>
<rect x="790.26" y="580.40" width="63.48" height="34.96" fill="#0c1507"/>
<rect x="853.13" y="580.40" width="63.48" height="34.96" fill="#1b3c14"/>
<rect x="916.01" y="580.40" width="63.48" height="34.96" fill="#152810"/>
<rect x="978.88" y="580.40" width="63.48" height="34.96" fill="#3f1508"/>
<rect x="1041.76" y="580.40" width="63.48" height="34.96" fill="#0c1507"/>
<rect x="1104.63" y="580.40" width="63.48" height="34.96" fill="#ff0000"/>
<rect x="1167.51" y="580.40" width="63.48" height="34.96" fill="#ff0000"/>
<rect x="1230.39" y="580.40" width="63.48" height="34.96" fill="#7a1b0c"/>
<rect x="1293.26" y="580.40" width="63.48" height="34.96" fill="#205917"/>
<rect x="1356.14" y="580.40" width="63.48" height="34.96" fill="#152810"/>
<rect x="1419.01" y="580.40" width="63.48" height="34.96" fill="#1b3c14"/>
<rect x="1481.89" y="580.40" width="63.48" height="34.96" fill="#205917"/>
<rect x="1544.77" y="580.40" width="63.48" height="34.96" fill="#1b3c14"/>
<rect x="1607.64" y="580.40" width="63.48" height="34.96" fill="#1b3c14"/>
<rect x="1670.52" y="580.40" width="63.48" height="34.96" fill="#1b3c14"/>
<rect x="1733.39" y="580.40" width="63.48" height="34.96" fill="#1b3c14"/>
<rect x="1796.27" y="580.40" width="63.48" height="34.96" fill="#205917"/>
<rect x="1859.14" y="580.40" width="63.48" height="34.96" fill="#0c1507"/>
<rect x="1922.02" y="580.40" width="63.48" height="34.96" fill="#205917"/>
<rect x="1984.90" y="580.40" width="63.48" height="34.96" fill="#205917"/>
<rect x="2047.77" y="580.40" width="63.48" height="34.96" fill="#152810"/>
<rect x="2110.65" y="580.40" width="63.48" height="34.96" fill="#1b3c14"/>
<rect x="2173.52" y="580.40" width="63.48" height="34.96" fill="#1b3c14"/>
<rect x="413.00" y="614.76" width="63.48" height="34.96" fill="#dc1205"/>
<rect x="475.88" y="614.76" width="63.48" height="34.96" fill="#1b3c14"/>
<rect x="538.75" y="614.76" width="63.48" height="34.96" fill="#250f04"/>
<rect x="601.63" y="614.76" width="63.48" height="34.96" fill="#152810"/>
<rect x="664.50" y="614.76" width="63.48" height="34.96" fill="#3f1508"/>
<rect x="727.38" y="614.76" width="63.48" height="34.96" fill="#9a1b0b"/>
<rect x="790.26" y="614.76" width="63.48" height="34.96" fill="#250f04"/>
<rect x="853.13" y="614.76" width="63.48" height="34.96" fill="#152810"/>
<rect x="916.01" y="614.76" width="63.48" height="34.96" fill="#dc1205"/>
<rect x="978.88" y="614.76" width="63.48" height="34.96" fill="#3f1508"/>
<rect x="1041.76" y="614.76" width="63.48" height="34.96" fill="#250f04"/>
<rect x="1104.63" y="614.76" width="63.48" height="34.96" fill="#0c1507"/>
<rect x="1167.51" y="614.76" width="63.48" height="34.96" fill="#5c190b"/>
<rect x="1230.39" y="614.76" width="63.48" height="34.96" fill="#9a1b0b"/>
<rect x="1293.26" y="614.76" width="63.48" height="34.96" fill="#247719"/>
<rect x="1356.14" y="614.76" width="63.48" height="34.96" fill="#ff0000"/>
<rect x="1419.01" y="614.76" width="63.48" height="34.96" fill="#247719"/>
<rect x="1481.89" y="614.76" width="63.48" height="34.96" fill="#247719"/>
<rect x="1544.77" y="614.76" width="63.48" height="34.96" fill="#0c1507"/>
<rect x="1607.64" y="614.76" width="63.48" height="34.96" fill="#1b3c14"/>
<rect x="1670.52" y="614.76" width="63.48" height="34.96" fill="#247719"/>
<rect x="1733.39" y="614.76" width="63.48" height="34.96" fill="#247719"/>
<rect x="1796.27" y="614.76" width="63.48" height="34.96" fill="#205917"/>
<rect x="1859.14" y="614.76" width="63.48" height="34.96" fill="#1b3c14"/>
<rect x="1922.02" y="614.76" width="63.48" height="34.96" fill="#205917"/>
<rect x="1984.90" y="614.76" width="63.48" height="34.96" fill="#247719"/>
<rect x="2047.77" y="614.76" width="63.48" height="34.96" fill="#205917"/>
<rect x="2110.65" y="614.76" width="63.48" height="34.96" fill="#247719"/>
<rect x="2173.52" y="614.76" width="63.48" height="34.96" fill="#247719"/>
<rect x="413.00" y="649.12" width="63.48" height="34.96" fill="#ff0000"/>
<rect x="475.88" y="649.12" width="63.48" height="34.96" fill="#1b3c14"/>
<rect x="538.75" y="649.12" width="63.48" height="34.96" fill="#5c190b"/>
<rect x="601.63" y="649.12" width="63.48" height="34.96" fill="#dc1205"/>
<rect x="664.50" y="649.12" width="63.48" height="34.96" fill="#0c1507"/>
<rect x="727.38" y="649.12" width="63.48" height="34.96" fill="#205917"/>
<rect x="790.26" y="649.12" width="63.48" height="34.96" fill="#152810"/>
<rect x="853.13" y="649.12" width="63.48" height="34.96" fill="#3f1508"/>
<rect x="916.01" y="649.12" width="63.48" height="34.96" fill="#ff0000"/>
<rect x="978.88" y="649.12" width="63.48" height="34.96" fill="#7a1b0c"/>
<rect x="1041.76" y="649.12" width="63.48" height="34.96" fill="#152810"/>
<rect x="1104.63" y="649.12" width="63.48" height="34.96" fill="#1b3c14"/>
<rect x="1167.51" y="649.12" width="63.48" height="34.96" fill="#205917"/>
<rect x="1230.39" y="649.12" width="63.48" height="34.96" fill="#1b3c14"/>
<rect x="1293.26" y="649.12" width="63.48" height="34.96" fill="#0c1507"/>
<rect x="1356.14" y="649.12" width="63.48" height="34.96" fill="#205917"/>
<rect x="1419.01" y="649.12" width="63.48" height="34.96" fill="#205917"/>
<rect x="1481.89" y="649.12" width="63.48" height="34.96" fill="#205917"/>
<rect x="1544.77" y="649.12" width="63.48" height="34.96" fill="#5c190b"/>
<rect x="1607.64" y="649.12" width="63.48" height="34.96" fill="#250f04"/>
<rect x="1670.52" y="649.12" width="63.48" height="34.96" fill="#205917"/>
<rect x="1733.39" y="649.12" width="63.48" height="34.96" fill="#205917"/>
<rect x="1796.27" y="649.12" width="63.48" height="34.96" fill="#1b3c14"/>
<rect x="1859.14" y="649.12" width="63.48" height="34.96" fill="#205917"/>
<rect x="1922.02" y="649.12" width="63.48" height="34.96" fill="#152810"/>
<rect x="1984.90" y="649.12" width="63.48" height="34.96" fill="#000000"/>
<rect x="2047.77" y="649.12" width="63.48" height="34.96" fill="#0c1507"/>
<rect x="2110.65" y="649.12" width="63.48" height="34.96" fill="#205917"/>
<rect x="2173.52" y="649.12" width="63.48" height="34.96" fill="#1b3c14"/>
<rect x="413.00" y="683.48" width="63.48" height="34.96" fill="#1b3c14"/>
<rect x="475.88" y="683.48" width="63.48" height="34.96" fill="#1b3c14"/>
<rect x="538.75" y="683.48" width="63.48" height="34.96" fill="#0c1507"/>
<rect x="601.63" y="683.48" width="63.48" height="34.96" fill="#bb1909"/>
<rect x="664.50" y="683.48" width="63.48" height="34.96" fill="#7a1b0c"/>
<rect x="727.38" y="683.48" width="63.48" height="34.96" fill="#1b3c14"/>
<rect x="790.26" y="683.48" width="63.48" height="34.96" fill="#0c1507"/>
<rect x="853.13" y="683.48" width="63.48" height="34.96" fill="#dc1205"/>
<rect x="916.01" y="683.48" width="63.48" height="34.96" fill="#ff0000"/>
<rect x="978.88" y="683.48" width="63.48" height="34.96" fill="#1b3c14"/>
<rect x="1041.76" y="683.48" width="63.48" height="34.96" fill="#250f04"/>
<rect x="1104.63" y="683.48" width="63.48" height="34.96" fill="#9a1b0b"/>
<rect x="1167.51" y="683.48" width="63.48" height="34.96" fill="#152810"/>
<rect x="1230.39" y="683.48" width="63.48" height="34.96" fill="#150602"/>
<rect x="1293.26" y="683.48" width="63.48" height="34.96" fill="#1b3c14"/>
<rect x="1356.14" y="683.48" width="63.48" height="34.96" fill="#1b3c14"/>
<rect x="1419.01" y="683.48" width="63.48" height="34.96" fill="#1b3c14"/>
<rect x="1481.89" y="683.48" width="63.48" height="34.96" fill="#1b3c14"/>
<rect x="1544.77" y="683.48" width="63.48" height="34.96" fill="#1b3c14"/>
<rect x="1607.64" y="683.48" width="63.48" height="34.96" fill="#1b3c14"/>
<rect x="1670.52" y="683.48" width="63.48" height="34.96" fill="#1b3c14"/>
<rect x="1733.39" y="683.48" width="63.48" height="34.96" fill="#152810"/>
<rect x="1796.27" y="683.48" width="63.48" height="34.96" fill="#152810"/>
<rect x="1859.14" y="683.48" width="63.48" height="34.96" fill="#1b3c14"/>
<rect x="1922.02" y="683.48" width="63.48" height="34.96" fill="#1b3c14"/>
<rect x="1984.90" y="683.48" width="63.48" height="34.96" fill="#152810"/>
<rect x="2047.77" y="683.48" width="63.48" height="34.96" fill="#1b3c14"/>
<rect x="2110.65" y="683.48" width="63.48" height="34.96" fill="#250f04"/>
<rect x="2173.52" y="683.48" width="63.48" height="34.96" fill="#1b3c14"/>
<rect x="413.00" y="717.84" width="63.48" height="34.96" fill="#152810"/>
<rect x="475.88" y="717.84" width="63.48" height="34.96" fill="#000000"/>
<rect x="538.75" y="717.84" width="63.48" height="34.96" fill="#ff0000"/>
<rect x="601.63" y="717.84" width="63.48" height="34.96" fill="#152810"/>
<rect x="664.50" y="717.84" width="63.48" height="34.96" fill="#250f04"/>
<rect x="727.38" y="717.84" width="63.48" height="34.96" fill="#152810"/>
<rect x="790.26" y="717.84" width="63.48" height="34.96" fill="#1b3c14"/>
<rect x="853.13" y="717.84" width="63.48" height="34.96" fill="#250f04"/>
<rect x="916.01" y="717.84" width="63.48" height="34.96" fill="#ff0000"/>
<rect x="978.88" y="717.84" width="63.48" height="34.96" fill="#7a1b0c"/>
<rect x="1041.76" y="717.84" width="63.48" height="34.96" fill="#bb1909"/>
<rect x="1104.63" y="717.84" width="63.48" height="34.96" fill="#250f04"/>
<rect x="1167.51" y="717.84" width="63.48" height="34.96" fill="#250f04"/>
<rect x="1230.39" y="717.84" width="63.48" height="34.96" fill="#000000"/>
<rect x="1293.26" y="717.84" width="63.48" height="34.96" fill="#1e4a16"/>
<rect x="1356.14" y="717.84" width="63.48" height="34.96" fill="#1e4a16"/>
<rect x="1419.01" y="717.84" width="63.48" height="34.96" fill="#1e4a16"/>
<rect x="1481.89" y="717.84" width="63.48" height="34.96" fill="#1e4a16"/>
<rect x="1544.77" y="717.84" width="63.48" height="34.96" fill="#1e4a16"/>
<rect x="1607.64" y="717.84" width="63.48" height="34.96" fill="#1e4a16"/>
<rect x="1670.52" y="717.84" width="63.48" height="34.96" fill="#000000"/>
<rect x="1733.39" y="717.84" width="63.48" height="34.96" fill="#1e4a16"/>
<rect x="1796.27" y="717.84" width="63.48" height="34.96" fill="#1e4a16"/>
<rect x="1859.14" y="717.84" width="63.48" height="34.96" fill="#1e4a16"/>
<rect x="1922.02" y="717.84" width="63.48" height="34.96" fill="#1e4a16"/>
<rect x="1984.90" y="717.84" width="63.48" height="34.96" fill="#1e4a16"/>
<rect x="2047.77" y="717.84" width="63.48" height="34.96" fill="#1b3c14"/>
<rect x="2110.65" y="717.84" width="63.48" height="34.96" fill="#1e4a16"/>
<rect x="2173.52" y="717.84" width="63.48" height="34.96" fill="#250f04"/>
<rect x="413.00" y="752.20" width="63.48" height="34.96" fill="#ff0000"/>
<rect x="475.88" y="752.20" width="63.48" height="34.96" fill="#250f04"/>
<rect x="538.75" y="752.20" width="63.48" height="34.96" fill="#1b3c14"/>
<rect x="601.63" y="752.20" width="63.48" height="34.96" fill="#ff0000"/>
<rect x="664.50" y="752.20" width="63.48" height="34.96" fill="#1b3c14"/>
<rect x="727.38" y="752.20" width="63.48" height="34.96" fill="#3f1508"/>
<rect x="790.26" y="752.20" width="63.48" height="34.96" fill="#1b3c14"/>
<rect x="853.13" y="752.20" width="63.48" height="34.96" fill="#bb1909"/>
<rect x="916.01" y="752.20" width="63.48" height="34.96" fill="#152810"/>
<rect x="978.88" y="752.20" width="63.48" height="34.96" fill="#1b3c14"/>
<rect x="1041.76" y="752.20" width="63.48" height="34.96" fill="#152810"/>
<rect x="1104.63" y="752.20" width="63.48" height="34.96" fill="#0c1507"/>
<rect x="1167.51" y="752.20" width="63.48" height="34.96" fill="#250f04"/>
<rect x="1230.39" y="752.20" width="63.48" height="34.96" fill="#7a1b0c"/>
<rect x="1293.26" y="752.20" width="63.48" height="34.96" fill="#1e4a16"/>
<rect x="1356.14" y="752.20" width="63.48" height="34.96" fill="#1e4a16"/>
<rect x="1419.01" y="752.20" width="63.48" height="34.96" fill="#1e4a16"/>
<rect x="1481.89" y="752.20" width="63.48" height="34.96" fill="#1b3c14"/>
<rect x="1544.77" y="752.20" width="63.48" height="34.96" fill="#1e4a16"/>
<rect x="1607.64" y="752.20" width="63.48" height="34.96" fill="#1e4a16"/>
<rect x="1670.52" y="752.20" width="63.48" height="34.96" fill="#1e4a16"/>
<rect x="1733.39" y="752.20" width="63.48" height="34.96" fill="#1e4a16"/>
<rect x="1796.27" y="752.20" width="63.48" height="34.96" fill="#1e4a16"/>
<rect x="1859.14" y="752.20" width="63.48" height="34.96" fill="#152810"/>
<rect x="1922.02" y="752.20" width="63.48" height="34.96" fill="#1e4a16"/>
<rect x="1984.90" y="752.20" width="63.48" height="34.96" fill="#5c190b"/>
<rect x="2047.77" y="752.20" width="63.48" height="34.96" fill="#152810"/>
<rect x="2110.65" y="752.20" width="63.48" height="34.96" fill="#1e4a16"/>
<rect x="2173.52" y="752.20" width="63.48" height="34.96" fill="#1e4a16"/>
<rect x="413.00" y="786.56" width="63.48" height="34.96" fill="#ff0000"/>
<rect x="475.88" y="786.56" width="63.48" height="34.96" fill="#000000"/>
<rect x="538.75" y="786.56" width="63.48" height="34.96" fill="#205917"/>
<rect x="601.63" y="786.56" width="63.48" height="34.96" fill="#250f04"/>
<rect x="664.50" y="786.56" width="63.48" height="34.96" fill="#250f04"/>
<rect x="727.38" y="786.56" width="63.48" height="34.96" fill="#247719"/>
<rect x="790.26" y="786.56" width="63.48" height="34.96" fill="#1b3c14"/>
<rect x="853.13" y="786.56" width="63.48" height="34.96" fill="#ff0000"/>
<rect x="916.01" y="786.56" width="63.48" height="34.96" fill="#205917"/>
<rect x="978.88" y="786.56" width="63.48" height="34.96" fill="#9a1b0b"/>
<rect x="1041.76" y="786.56" width="63.48" height="34.96" fill="#7a1b0c"/>
<rect x="1104.63" y="786.56" width="63.48" height="34.96" fill="#7a1b0c"/>
<rect x="1167.51" y="786.56" width="63.48" height="34.96" fill="#5c190b"/>
<rect x="1230.39" y="786.56" width="63.48" height="34.96" fill="#5c190b"/>
<rect x="1293.26" y="786.56" width="63.48" height="34.96" fill="#258b1a"/>
<rect x="1356.14" y="786.56" width="63.48" height="34.96" fill="#152810"/>
<rect x="1419.01" y="786.56" width="63.48" height="34.96" fill="#258b1a"/>
<rect x="1481.89" y="786.56" width="63.48" height="34.96" fill="#258b1a"/>
<rect x="1544.77" y="786.56" width="63.48" height="34.96" fill="#258b1a"/>
<rect x="1607.64" y="786.56" width="63.48" height="34.96" fill="#247719"/>
<rect x="1670.52" y="786.56" width="63.48" height="34.96" fill="#152810"/>
<rect x="1733.39" y="786.56" width="63.48" height="34.96" fill="#258b1a"/>
<rect x="1796.27" y="786.56" width="63.48" height="34.96" fill="#dc1205"/>
<rect x="1859.14" y="786.56" width="63.48" height="34.96" fill="#0c1507"/>
<rect x="1922.02" y="786.56" width="63.48" height="34.96" fill="#250f04"/>
<rect x="1984.90" y="786.56" width="63.48" height="34.96" fill="#1b3c14"/>
<rect x="2047.77" y="786.56" width="63.48" height="34.96" fill="#205917"/>
<rect x="2110.65" y="786.56" width="63.48" height="34.96" fill="#5c190b"/>
<rect x="2173.52" y="786.56" width="63.48" height="34.96" fill="#247719"/>
<rect x="413.00" y="820.92" width="63.48" height="34.96" fill="#9a1b0b"/>
<rect x="475.88" y="820.92" width="63.48" height="34.96" fill="#dc1205"/>
<rect x="538.75" y="820.92" width="63.48" height="34.96" fill="#205917"/>
<rect x="601.63" y="820.92" width="63.48" height="34.96" fill="#3f1508"/>
<rect x="664.50" y="820.92" width="63.48" height="34.96" fill="#ff0000"/>
<rect x="727.38" y="820.92" width="63.48" height="34.96" fill="#152810"/>
<rect x="790.26" y="820.92" width="63.48" height="34.96" fill="#205917"/>
<rect x="853.13" y="820.92" width="63.48" height="34.96" fill="#7a1b0c"/>
<rect x="916.01" y="820.92" width="63.48" height="34.96" fill="#205917"/>
<rect x="978.88" y="820.92" width="63.48" height="34.96" fill="#205917"/>
<rect x="1041.76" y="820.92" width="63.48" height="34.96" fill="#150602"/>
<rect x="1104.63" y="820.92" width="63.48" height="34.96" fill="#250f04"/>
<rect x="1167.51" y="820.92" width="63.48" height="34.96" fill="#250f04"/>
<rect x="1230.39" y="820.92" width="63.48" height="34.96" fill="#ff0000"/>
<rect x="1293.26" y="820.92" width="63.48" height="34.96" fill="#205917"/>
<rect x="1356.14" y="820.92" width="63.48" height="34.96" fill="#205917"/>
<rect x="1419.01" y="820.92" width="63.48" height="34.96" fill="#205917"/>
<rect x="1481.89" y="820.92" width="63.48" height="34.96" fill="#205917"/>
<rect x="1544.77" y="820.92" width="63.48" height="34.96" fill="#205917"/>
<rect x="1607.64" y="820.92" width="63.48" height="34.96" fill="#205917"/>
<rect x="1670.52" y="820.92" width="63.48" height="34.96" fill="#205917"/>
<rect x="1733.39" y="820.92" width="63.48" height="34.96" fill="#000000"/>
<rect x="1796.27" y="820.92" width="63.48" height="34.96" fill="#7a1b0c"/>
<rect x="1859.14" y="820.92" width="63.48" height="34.96" fill="#205917"/>
<rect x="1922.02" y="820.92" width="63.48" height="34.96" fill="#205917"/>
<rect x="1984.90" y="820.92" width="63.48" height="34.96" fill="#205917"/>
<rect x="2047.77" y="820.92" width="63.48" height="34.96" fill="#ff0000"/>
<rect x="2110.65" y="820.92" width="63.48" height="34.96" fill="#205917"/>
<rect x="2173.52" y="820.92" width="63.48" height="34.96" fill="#205917"/>
<rect x="413.00" y="855.28" width="63.48" height="34.96" fill="#150602"/>
<rect x="475.88" y="855.28" width="63.48" height="34.96" fill="#5c190b"/>
<rect x="538.75" y="855.28" width="63.48" height="34.96" fill="#1b3c14"/>
<rect x="601.63" y="855.28" width="63.48" height="34.96" fill="#1b3c14"/>
<rect x="664.50" y="855.28" width="63.48" height="34.96" fill="#250f04"/>
<rect x="727.38" y="855.28" width="63.48" height="34.96" fill="#1b3c14"/>
<rect x="790.26" y="855.28" width="63.48" height="34.96" fill="#250f04"/>
<rect x="853.13" y="855.28" width="63.48" height="34.96" fill="#3f1508"/>
<rect x="916.01" y="855.28" width="63.48" height="34.96" fill="#1b3c14"/>
<rect x="978.88" y="855.28" width="63.48" height="34.96" fill="#152810"/>
<rect x="1041.76" y="855.28" width="63.48" height="34.96" fill="#ff0000"/>
<rect x="1104.63" y="855.28" width="63.48" height="34.96" fill="#bb1909"/>
<rect x="1167.51" y="855.28" width="63.48" height="34.96" fill="#ff0000"/>
<rect x="1230.39" y="855.28" width="63.48" height="34.96" fill="#250f04"/>
<rect x="1293.26" y="855.28" width="63.48" height="34.96" fill="#1b3c14"/>
<rect x="1356.14" y="855.28" width="63.48" height="34.96" fill="#1b3c14"/>
<rect x="1419.01" y="855.28" width="63.48" height="34.96" fill="#1e4a16"/>
<rect x="1481.89" y="855.28" width="63.48" height="34.96" fill="#1e4a16"/>
<rect x="1544.77" y="855.28" width="63.48" height="34.96" fill="#1e4a16"/>
<rect x="1607.64" y="855.28" width="63.48" height="34.96" fill="#152810"/>
<rect x="1670.52" y="855.28" width="63.48" height="34.96" fill="#1e4a16"/>
<rect x="1733.39" y="855.28" width="63.48" height="34.96" fill="#152810"/>
<rect x="1796.27" y="855.28" width="63.48" height="34.96" fill="#152810"/>
<rect x="1859.14" y="855.28" width="63.48" height="34.96" fill="#1e4a16"/>
<rect x="1922.02" y="855.28" width="63.48" height="34.96" fill="#152810"/>
<rect x="1984.90" y="855.28" width="63.48" height="34.96" fill="#1b3c14"/>
<rect x="2047.77" y="855.28" width="63.48" height="34.96" fill="#1e4a16"/>
<rect x="2110.65" y="855.28" width="63.48" height="34.96" fill="#1e4a16"/>
<rect x="2173.52" y="855.28" width="63.48" height="34.96" fill="#1e4a16"/>
<rect x="413.00" y="889.64" width="63.48" height="34.96" fill="#dc1205"/>
<rect x="475.88" y="889.64" width="63.48" height="34.96" fill="#1b3c14"/>
<rect x="538.75" y="889.64" width="63.48" height="34.96" fill="#150602"/>
<rect x="601.63" y="889.64" width="63.48" height="34.96" fill="#ff0000"/>
<rect x="664.50" y="889.64" width="63.48" height="34.96" fill="#0c1507"/>
<rect x="727.38" y="889.64" width="63.48" height="34.96" fill="#1b3c14"/>
<rect x="790.26" y="889.64" width="63.48" height="34.96" fill="#1b3c14"/>
<rect x="853.13" y="889.64" width="63.48" height="34.96" fill="#152810"/>
<rect x="916.01" y="889.64" width="63.48" height="34.96" fill="#1b3c14"/>
<rect x="978.88" y="889.64" width="63.48" height="34.96" fill="#1b3c14"/>
<rect x="1041.76" y="889.64" width="63.48" height="34.96" fill="#ff0000"/>
<rect x="1104.63" y="889.64" width="63.48" height="34.96" fill="#000000"/>
<rect x="1167.51" y="889.64" width="63.48" height="34.96" fill="#152810"/>
<rect x="1230.39" y="889.64" width="63.48" height="34.96" fill="#5c190b"/>
<rect x="1293.26" y="889.64" width="63.48" height="34.96" fill="#1e4a16"/>
<rect x="1356.14" y="889.64" width="63.48" height="34.96" fill="#1e4a16"/>
<rect x="1419.01" y="889.64" width="63.48" height="34.96" fill="#1b3c14"/>
<rect x="1481.89" y="889.64" width="63.48" height="34.96" fill="#1b3c14"/>
<rect x="1544.77" y="889.64" width="63.48" height="34.96" fill="#1e4a16"/>
<rect x="1607.64" y="889.64" width="63.48" height="34.96" fill="#1b3c14"/>
<rect x="1670.52" y="889.64" width="63.48" height="34.96" fill="#1e4a16"/>
<rect x="1733.39" y="889.64" width="63.48" height="34.96" fill="#0c1507"/>
<rect x="1796.27" y="889.64" width="63.48" height="34.96" fill="#152810"/>
<rect x="1859.14" y="889.64" width="63.48" height="34.96" fill="#1b3c14"/>
<rect x="1922.02" y="889.64" width="63.48" height="34.96" fill="#152810"/>
<rect x="1984.90" y="889.64" width="63.48" height="34.96" fill="#1e4a16"/>
<rect x="2047.77" y="889.64" width="63.48" height="34.96" fill="#bb1909"/>
<rect x="2110.65" y="889.64" width="63.48" height="34.96" fill="#1e4a16"/>
<rect x="2173.52" y="889.64" width="63.48" height="34.96" fill="#1b3c14"/>
<rect x="413.00" y="924.00" width="63.48" height="34.96" fill="#9a1b0b"/>
<rect x="475.88" y="924.00" width="63.48" height="34.96" fill="#152810"/>
<rect x="538.75" y="924.00" width="63.48" height="34.96" fill="#0c1507"/>
<rect x="601.63" y="924.00" width="63.48" height="34.96" fill="#ff0000"/>
<rect x="664.50" y="924.00" width="63.48" height="34.96" fill="#1b3c14"/>
<rect x="727.38" y="924.00" width="63.48" height="34.96" fill="#1b3c14"/>
<rect x="790.26" y="924.00" width="63.48" height="34.96" fill="#1b3c14"/>
<rect x="853.13" y="924.00" width="63.48" height="34.96" fill="#7a1b0c"/>
<rect x="916.01" y="924.00" width="63.48" height="34.96" fill="#152810"/>
<rect x="978.88" y="924.00" width="63.48" height="34.96" fill="#000000"/>
<rect x="1041.76" y="924.00" width="63.48" height="34.96" fill="#ff0000"/>
<rect x="1104.63" y="924.00" width="63.48" height="34.96" fill="#250f04"/>
<rect x="1167.51" y="924.00" width="63.48" height="34.96" fill="#1b3c14"/>
<rect x="1230.39" y="924.00" width="63.48" height="34.96" fill="#ff0000"/>
<rect x="1293.26" y="924.00" width="63.48" height="34.96" fill="#1b3c14"/>
<rect x="1356.14" y="924.00" width="63.48" height="34.96" fill="#1b3c14"/>
<rect x="1419.01" y="924.00" width="63.48" height="34.96" fill="#1b3c14"/>
<rect x="1481.89" y="924.00" width="63.48" height="34.96" fill="#1b3c14"/>
<rect x="1544.77" y="924.00" width="63.48" height="34.96" fill="#1b3c14"/>
<rect x="1607.64" y="924.00" width="63.48" height="34.96" fill="#1b3c14"/>
<rect x="1670.52" y="924.00" width="63.48" height="34.96" fill="#1b3c14"/>
<rect x="1733.39" y="924.00" width="63.48" height="34.96" fill="#1b3c14"/>
<rect x="1796.27" y="924.00" width="63.48" height="34.96" fill="#1b3c14"/>
<rect x="1859.14" y="924.00" width="63.48" height="34.96" fill="#1b3c14"/>
<rect x="1922.02" y="924.00" width="63.48" height="34.96" fill="#1b3c14"/>
<rect x="1984.90" y="924.00" width="63.48" height="34.96" fill="#1b3c14"/>
<rect x="2047.77" y="924.00" width="63.48" height="34.96" fill="#1b3c14"/>
<rect x="2110.65" y="924.00" width="63.48" height="34.96" fill="#1b3c14"/>
<rect x="2173.52" y="924.00" width="63.48" height="34.96" fill="#1b3c14"/>
<rect x="413.00" y="958.36" width="63.48" height="34.96" fill="#205917"/>
<rect x="475.88" y="958.36" width="63.48" height="34.96" fill="#205917"/>
<rect x="538.75" y="958.36" width="63.48" height="34.96" fill="#3f1508"/>
<rect x="601.63" y="958.36" width="63.48" height="34.96" fill="#152810"/>
<rect x="664.50" y="958.36" width="63.48" height="34.96" fill="#205917"/>
<rect x="727.38" y="958.36" width="63.48" height="34.96" fill="#205917"/>
<rect x="790.26" y="958.36" width="63.48" height="34.96" fill="#205917"/>
<rect x="853.13" y="958.36" width="63.48" height="34.96" fill="#205917"/>
<rect x="916.01" y="958.36" width="63.48" height="34.96" fill="#205917"/>
<rect x="978.88" y="958.36" width="63.48" height="34.96" fill="#205917"/>
<rect x="1041.76" y="958.36" width="63.48" height="34.96" fill="#205917"/>
<rect x="1104.63" y="958.36" width="63.48" height="34.96" fill="#205917"/>
<rect x="1167.51" y="958.36" width="63.48" height="34.96" fill="#205917"/>
<rect x="1230.39" y="958.36" width="63.48" height="34.96" fill="#205917"/>
<rect x="1293.26" y="958.36" width="63.48" height="34.96" fill="#ff0000"/>
<rect x="1356.14" y="958.36" width="63.48" height="34.96" fill="#3f1508"/>
<rect x="1419.01" y="958.36" width="63.48" height="34.96" fill="#250f04"/>
<rect x="1481.89" y="958.36" width="63.48" height="34.96" fill="#9a1b0b"/>
<rect x="1544.77" y="958.36" width="63.48" height="34.96" fill="#ff0000"/>
<rect x="1607.64" y="958.36" width="63.48" height="34.96" fill="#1b3c14"/>
<rect x="1670.52" y="958.36" width="63.48" height="34.96" fill="#1b3c14"/>
<rect x="1733.39" y="958.36" width="63.48" height="34.96" fill="#250f04"/>
<rect x="1796.27" y="958.36" width="63.48" height="34.96" fill="#000000"/>
<rect x="1859.14" y="958.36" width="63.48" height="34.96" fill="#3f1508"/>
<rect x="1922.02" y="958.36" width="63.48" height="34.96" fill="#ff0000"/>
<rect x="1984.90" y="958.36" width="63.48" height="34.96" fill="#250f04"/>
<rect x="2047.77" y="958.36" width="63.48" height="34.96" fill="#3f1508"/>
<rect x="2110.65" y="958.36" width="63.48" height="34.96" fill="#7a1b0c"/>
<rect x="2173.52" y="958.36" width="63.48" height="34.96" fill="#205917"/>
<rect x="413.00" y="992.72" width="63.48" height="34.96" fill="#152810"/>
<rect x="475.88" y="992.72" width="63.48" height="34.96" fill="#000000"/>
<rect x="538.75" y="992.72" width="63.48" height="34.96" fill="#0c1507"/>
<rect x="601.63" y="992.72" width="63.48" height="34.96" fill="#1b3c14"/>
<rect x="664.50" y="992.72" width="63.48" height="34.96" fill="#1b3c14"/>
<rect x="727.38" y="992.72" width="63.48" height="34.96" fill="#1b3c14"/>
<rect x="790.26" y="992.72" width="63.48" height="34.96" fill="#1b3c14"/>
<rect x="853.13" y="992.72" width="63.48" height="34.96" fill="#1b3c14"/>
<rect x="916.01" y="992.72" width="63.48" height="34.96" fill="#1b3c14"/>
<rect x="978.88" y="992.72" width="63.48" height="34.96" fill="#152810"/>
<rect x="1041.76" y="992.72" width="63.48" height="34.96" fill="#1b3c14"/>
<rect x="1104.63" y="992.72" width="63.48" height="34.96" fill="#152810"/>
<rect x="1167.51" y="992.72" width="63.48" height="34.96" fill="#1b3c14"/>
<rect x="1230.39" y="992.72" width="63.48" height="34.96" fill="#1b3c14"/>
<rect x="1293.26" y="992.72" width="63.48" height="34.96" fill="#1b3c14"/>
<rect x="1356.14" y="992.72" width="63.48" height="34.96" fill="#152810"/>
<rect x="1419.01" y="992.72" width="63.48" height="34.96" fill="#150602"/>
<rect x="1481.89" y="992.72" width="63.48" height="34.96" fill="#ff0000"/>
<rect x="1544.77" y="992.72" width="63.48" height="34.96" fill="#3f1508"/>
<rect x="1607.64" y="992.72" width="63.48" height="34.96" fill="#ff0000"/>
<rect x="1670.52" y="992.72" width="63.48" height="34.96" fill="#0c1507"/>
<rect x="1733.39" y="992.72" width="63.48" height="34.96" fill="#0c1507"/>
<rect x="1796.27" y="992.72" width="63.48" height="34.96" fill="#152810"/>
<rect x="1859.14" y="992.72" width="63.48" height="34.96" fill="#250f04"/>
<rect x="1922.02" y="992.72" width="63.48" height="34.96" fill="#150602"/>
<rect x="1984.90" y="992.72" width="63.48" height="34.96" fill="#1b3c14"/>
<rect x="2047.77" y="992.72" width="63.48" height="34.96" fill="#000000"/>
<rect x="2110.65" y="992.72" width="63.48" height="34.96" fill="#0c1507"/>
<rect x="2173.52" y="992.72" width="63.48" height="34.96" fill="#152810"/>
<rect x="413.00" y="1027.08" width="63.48" height="34.96" fill="#1b3c14"/>
<rect x="475.88" y="1027.08" width="63.48" height="34.96" fill="#1b3c14"/>
<rect x="538.75" y="1027.08" width="63.48" height="34.96" fill="#1b3c14"/>
<rect x="601.63" y="1027.08" width="63.48" height="34.96" fill="#1b3c14"/>
<rect x="664.50" y="1027.08" width="63.48" height="34.96" fill="#1b3c14"/>
<rect x="727.38" y="1027.08" width="63.48" height="34.96" fill="#152810"/>
<rect x="790.26" y="1027.08" width="63.48" height="34.96" fill="#1b3c14"/>
<rect x="853.13" y="1027.08" width="63.48" height="34.96" fill="#1b3c14"/>
<rect x="916.01" y="1027.08" width="63.48" height="34.96" fill="#1b3c14"/>
<rect x="978.88" y="1027.08" width="63.48" height="34.96" fill="#1b3c14"/>
<rect x="1041.76" y="1027.08" width="63.48" height="34.96" fill="#1b3c14"/>
<rect x="1104.63" y="1027.08" width="63.48" height="34.96" fill="#1b3c14"/>
<rect x="1167.51" y="1027.08" width="63.48" height="34.96" fill="#1b3c14"/>
<rect x="1230.39" y="1027.08" width="63.48" height="34.96" fill="#1b3c14"/>
<rect x="1293.26" y="1027.08" width="63.48" height="34.96" fill="#1b3c14"/>
<rect x="1356.14" y="1027.08" width="63.48" height="34.96" fill="#1b3c14"/>
<rect x="1419.01" y="1027.08" width="63.48" height="34.96" fill="#0c1507"/>
<rect x="1481.89" y="1027.08" width="63.48" height="34.96" fill="#ff0000"/>
<rect x="1544.77" y="1027.08" width="63.48" height="34.96" fill="#dc1205"/>
<rect x="1607.64" y="1027.08" width="63.48" height="34.96" fill="#9a1b0b"/>
<rect x="1670.52" y="1027.08" width="63.48" height="34.96" fill="#dc1205"/>
<rect x="1733.39" y="1027.08" width="63.48" height="34.96" fill="#5c190b"/>
<rect x="1796.27" y="1027.08" width="63.48" height="34.96" fill="#250f04"/>
<rect x="1859.14" y="1027.08" width="63.48" height="34.96" fill="#250f04"/>
<rect x="1922.02" y="1027.08" width="63.48" height="34.96" fill="#152810"/>
<rect x="1984.90" y="1027.08" width="63.48" height="34.96" fill="#1b3c14"/>
<rect x="2047.77" y="1027.08" width="63.48" height="34.96" fill="#152810"/>
<rect x="2110.65" y="1027.08" width="63.48" height="34.96" fill="#1b3c14"/>
<rect x="2173.52" y="1027.08" width="63.48" height="34.96" fill="#1b3c14"/>
<rect x="413.00" y="1061.44" width="63.48" height="34.96" fill="#1b3c14"/>
<rect x="475.88" y="1061.44" width="63.48" height="34.96" fill="#1b3c14"/>
<rect x="538.75" y="1061.44" width="63.48" height="34.96" fill="#1b3c14"/>
<rect x="601.63" y="1061.44" width="63.48" height="34.96" fill="#1b3c14"/>
<rect x="664.50" y="1061.44" width="63.48" height="34.96" fill="#1b3c14"/>
<rect x="727.38" y="1061.44" width="63.48" height="34.96" fill="#000000"/>
<rect x="790.26" y="1061.44" width="63.48" height="34.96" fill="#150602"/>
<rect x="853.13" y="1061.44" width="63.48" height="34.96" fill="#1b3c14"/>
<rect x="916.01" y="1061.44" width="63.48" height="34.96" fill="#152810"/>
<rect x="978.88" y="1061.44" width="63.48" height="34.96" fill="#1b3c14"/>
<rect x="1041.76" y="1061.44" width="63.48" height="34.96" fill="#1b3c14"/>
<rect x="1104.63" y="1061.44" width="63.48" height="34.96" fill="#152810"/>
<rect x="1167.51" y="1061.44" width="63.48" height="34.96" fill="#1b3c14"/>
<rect x="1230.39" y="1061.44" width="63.48" height="34.96" fill="#1b3c14"/>
<rect x="1293.26" y="1061.44" width="63.48" height="34.96" fill="#250f04"/>
<rect x="1356.14" y="1061.44" width="63.48" height="34.96" fill="#ff0000"/>
<rect x="1419.01" y="1061.44" width="63.48" height="34.96" fill="#0c1507"/>
<rect x="1481.89" y="1061.44" width="63.48" height="34.96" fill="#ff0000"/>
<rect x="1544.77" y="1061.44" width="63.48" height="34.96" fill="#0c1507"/>
<rect x="1607.64" y="1061.44" width="63.48" height="34.96" fill="#152810"/>
<rect x="1670.52" y="1061.44" width="63.48" height="34.96" fill="#1b3c14"/>
<rect x="1733.39" y="1061.44" width="63.48" height="34.96" fill="#1b3c14"/>
<rect x="1796.27" y="1061.44" width="63.48" height="34.96" fill="#1b3c14"/>
<rect x="1859.14" y="1061.44" width="63.48" height="34.96" fill="#ff0000"/>
<rect x="1922.02" y="1061.44" width="63.48" height="34.96" fill="#1b3c14"/>
<rect x="1984.90" y="1061.44" width="63.48" height="34.96" fill="#000000"/>
<rect x="2047.77" y="1061.44" width="63.48" height="34.96" fill="#1b3c14"/>
<rect x="2110.65" y="1061.44" width="63.48" height="34.96" fill="#1b3c14"/>
<rect x="2173.52" y="1061.44" width="63.48" height="34.96" fill="#150602"/>
<rect x="413.00" y="1095.80" width="63.48" height="34.96" fill="#1e4a16"/>
<rect x="475.88" y="1095.80" width="63.48" height="34.96" fill="#152810"/>
<rect x="538.75" y="1095.80" width="63.48" height="34.96" fill="#1e4a16"/>
<rect x="601.63" y="1095.80" width="63.48" height="34.96" fill="#1e4a16"/>
<rect x="664.50" y="1095.80" width="63.48" height="34.96" fill="#1b3c14"/>
<rect x="727.38" y="1095.80" width="63.48" height="34.96" fill="#205917"/>
<rect x="790.26" y="1095.80" width="63.48" height="34.96" fill="#3f1508"/>
<rect x="853.13" y="1095.80" width="63.48" height="34.96" fill="#205917"/>
<rect x="916.01" y="1095.80" width="63.48" height="34.96" fill="#152810"/>
<rect x="978.88" y="1095.80" width="63.48" height="34.96" fill="#205917"/>
<rect x="1041.76" y="1095.80" width="63.48" height="34.96" fill="#205917"/>
<rect x="1104.63" y="1095.80" width="63.48" height="34.96" fill="#5c190b"/>
<rect x="1167.51" y="1095.80" width="63.48" height="34.96" fill="#205917"/>
<rect x="1230.39" y="1095.80" width="63.48" height="34.96" fill="#1e4a16"/>
<rect x="1293.26" y="1095.80" width="63.48" height="34.96" fill="#1e4a16"/>
<rect x="1356.14" y="1095.80" width="63.48" height="34.96" fill="#250f04"/>
<rect x="1419.01" y="1095.80" width="63.48" height="34.96" fill="#ff0000"/>
<rect x="1481.89" y="1095.80" width="63.48" height="34.96" fill="#9a1b0b"/>
<rect x="1544.77" y="1095.80" width="63.48" height="34.96" fill="#3f1508"/>
<rect x="1607.64" y="1095.80" width="63.48" height="34.96" fill="#152810"/>
<rect x="1670.52" y="1095.80" width="63.48" height="34.96" fill="#1b3c14"/>
<rect x="1733.39" y="1095.80" width="63.48" height="34.96" fill="#205917"/>
<rect x="1796.27" y="1095.80" width="63.48" height="34.96" fill="#205917"/>
<rect x="1859.14" y="1095.80" width="63.48" height="34.96" fill="#5c190b"/>
<rect x="1922.02" y="1095.80" width="63.48" height="34.96" fill="#150602"/>
<rect x="1984.90" y="1095.80" width="63.48" height="34.96" fill="#250f04"/>
<rect x="2047.77" y="1095.80" width="63.48" height="34.96" fill="#ff0000"/>
<rect x="2110.65" y="1095.80" width="63.48" height="34.96" fill="#152810"/>
<rect x="2173.52" y="1095.80" width="63.48" height="34.96" fill="#150602"/>
<rect x="413.00" y="1130.16" width="63.48" height="34.96" fill="#1b3c14"/>
<rect x="475.88" y="1130.16" width="63.48" height="34.96" fill="#250f04"/>
<rect x="538.75" y="1130.16" width="63.48" height="34.96" fill="#1e4a16"/>
<rect x="601.63" y="1130.16" width="63.48" height="34.96" fill="#1e4a16"/>
<rect x="664.50" y="1130.16" width="63.48" height="34.96" fill="#152810"/>
<rect x="727.38" y="1130.16" width="63.48" height="34.96" fill="#1e4a16"/>
<rect x="790.26" y="1130.16" width="63.48" height="34.96" fill="#1e4a16"/>
<rect x="853.13" y="1130.16" width="63.48" height="34.96" fill="#1e4a16"/>
<rect x="916.01" y="1130.16" width="63.48" height="34.96" fill="#1b3c14"/>
<rect x="978.88" y="1130.16" width="63.48" height="34.96" fill="#152810"/>
<rect x="1041.76" y="1130.16" width="63.48" height="34.96" fill="#000000"/>
<rect x="1104.63" y="1130.16" width="63.48" height="34.96" fill="#152810"/>
<rect x="1167.51" y="1130.16" width="63.48" height="34.96" fill="#1e4a16"/>
<rect x="1230.39" y="1130.16" width="63.48" height="34.96" fill="#1e4a16"/>
<rect x="1293.26" y="1130.16" width="63.48" height="34.96" fill="#250f04"/>
<rect x="1356.14" y="1130.16" width="63.48" height="34.96" fill="#bb1909"/>
<rect x="1419.01" y="1130.16" width="63.48" height="34.96" fill="#5c190b"/>
<rect x="1481.89" y="1130.16" width="63.48" height="34.96" fill="#250f04"/>
<rect x="1544.77" y="1130.16" width="63.48" height="34.96" fill="#1e4a16"/>
<rect x="1607.64" y="1130.16" width="63.48" height="34.96" fill="#1b3c14"/>
<rect x="1670.52" y="1130.16" width="63.48" height="34.96" fill="#1b3c14"/>
<rect x="1733.39" y="1130.16" width="63.48" height="34.96" fill="#1b3c14"/>
<rect x="1796.27" y="1130.16" width="63.48" height="34.96" fill="#1b3c14"/>
<rect x="1859.14" y="1130.16" width="63.48" height="34.96" fill="#3f1508"/>
<rect x="1922.02" y="1130.16" width="63.48" height="34.96" fill="#1b3c14"/>
<rect x="1984.90" y="1130.16" width="63.48" height="34.96" fill="#1e4a16"/>
<rect x="2047.77" y="1130.16" width="63.48" height="34.96" fill="#ff0000"/>
<rect x="2110.65" y="1130.16" width="63.48" height="34.96" fill="#1b3c14"/>
<rect x="2173.52" y="1130.16" width="63.48" height="34.96" fill="#ff0000"/>
<rect x="413.00" y="1164.52" width="63.48" height="34.96" fill="#1e4a16"/>
<rect x="475.88" y="1164.52" width="63.48" height="34.96" fill="#205917"/>
<rect x="538.75" y="1164.52" width="63.48" height="34.96" fill="#152810"/>
<rect x="601.63" y="1164.52" width="63.48" height="34.96" fill="#150602"/>
<rect x="664.50" y="1164.52" width="63.48" height="34.96" fill="#1b3c14"/>
<rect x="727.38" y="1164.52" width="63.48" height="34.96" fill="#205917"/>
<rect x="790.26" y="1164.52" width="63.48" height="34.96" fill="#205917"/>
<rect x="853.13" y="1164.52" width="63.48" height="34.96" fill="#205917"/>
<rect x="916.01" y="1164.52" width="63.48" height="34.96" fill="#250f04"/>
<rect x="978.88" y="1164.52" width="63.48" height="34.96" fill="#1b3c14"/>
<rect x="1041.76" y="1164.52" width="63.48" height="34.96" fill="#205917"/>
<rect x="1104.63" y="1164.52" width="63.48" height="34.96" fill="#152810"/>
<rect x="1167.51" y="1164.52" width="63.48" height="34.96" fill="#205917"/>
<rect x="1230.39" y="1164.52" width="63.48" height="34.96" fill="#1e4a16"/>
<rect x="1293.26" y="1164.52" width="63.48" height="34.96" fill="#0c1507"/>
<rect x="1356.14" y="1164.52" width="63.48" height="34.96" fill="#152810"/>
<rect x="1419.01" y="1164.52" width="63.48" height="34.96" fill="#7a1b0c"/>
<rect x="1481.89" y="1164.52" width="63.48" height="34.96" fill="#ff0000"/>
<rect x="1544.77" y="1164.52" width="63.48" height="34.96" fill="#3f1508"/>
<rect x="1607.64" y="1164.52" width="63.48" height="34.96" fill="#152810"/>
<rect x="1670.52" y="1164.52" width="63.48" height="34.96" fill="#1b3c14"/>
<rect x="1733.39" y="1164.52" width="63.48" height="34.96" fill="#150602"/>
<rect x="1796.27" y="1164.52" width="63.48" height="34.96" fill="#205917"/>
<rect x="1859.14" y="1164.52" width="63.48" height="34.96" fill="#1b3c14"/>
<rect x="1922.02" y="1164.52" width="63.48" height="34.96" fill="#152810"/>
<rect x="1984.90" y="1164.52" width="63.48" height="34.96" fill="#1b3c14"/>
<rect x="2047.77" y="1164.52" width="63.48" height="34.96" fill="#9a1b0b"/>
<rect x="2110.65" y="1164.52" width="63.48" height="34.96" fill="#000000"/>
<rect x="2173.52" y="1164.52" width="63.48" height="34.96" fill="#ff0000"/>
<rect x="413.00" y="1198.88" width="63.48" height="34.96" fill="#205917"/>
<rect x="475.88" y="1198.88" width="63.48" height="34.96" fill="#152810"/>
<rect x="538.75" y="1198.88" width="63.48" height="34.96" fill="#205917"/>
<rect x="601.63" y="1198.88" width="63.48" height="34.96" fill="#205917"/>
<rect x="664.50" y="1198.88" width="63.48" height="34.96" fill="#5c190b"/>
<rect x="727.38" y="1198.88" width="63.48" height="34.96" fill="#205917"/>
<rect x="790.26" y="1198.88" width="63.48" height="34.96" fill="#152810"/>
<rect x="853.13" y="1198.88" width="63.48" height="34.96" fill="#205917"/>
<rect x="916.01" y="1198.88" width="63.48" height="34.96" fill="#152810"/>
<rect x="978.88" y="1198.88" width="63.48" height="34.96" fill="#5c190b"/>
<rect x="1041.76" y="1198.88" width="63.48" height="34.96" fill="#205917"/>
<rect x="1104.63" y="1198.88" width="63.48" height="34.96" fill="#1e4a16"/>
<rect x="1167.51" y="1198.88" width="63.48" height="34.96" fill="#205917"/>
<rect x="1230.39" y="1198.88" width="63.48" height="34.96" fill="#152810"/>
<rect x="1293.26" y="1198.88" width="63.48" height="34.96" fill="#9a1b0b"/>
<rect x="1356.14" y="1198.88" width="63.48" height="34.96" fill="#bb1909"/>
<rect x="1419.01" y="1198.88" width="63.48" height="34.96" fill="#1b3c14"/>
<rect x="1481.89" y="1198.88" width="63.48" height="34.96" fill="#205917"/>
<rect x="1544.77" y="1198.88" width="63.48" height="34.96" fill="#bb1909"/>
<rect x="1607.64" y="1198.88" width="63.48" height="34.96" fill="#7a1b0c"/>
<rect x="1670.52" y="1198.88" width="63.48" height="34.96" fill="#3f1508"/>
<rect x="1733.39" y="1198.88" width="63.48" height="34.96" fill="#1b3c14"/>
<rect x="1796.27" y="1198.88" width="63.48" height="34.96" fill="#205917"/>
<rect x="1859.14" y="1198.88" width="63.48" height="34.96" fill="#1b3c14"/>
<rect x="1922.02" y="1198.88" width="63.48" height="34.96" fill="#205917"/>
<rect x="1984.90" y="1198.88" width="63.48" height="34.96" fill="#ff0000"/>
<rect x="2047.77" y="1198.88" width="63.48" height="34.96" fill="#1b3c14"/>
<rect x="2110.65" y="1198.88" width="63.48" height="34.96" fill="#5c190b"/>
<rect x="2173.52" y="1198.88" width="63.48" height="34.96" fill="#1e4a16"/>
<rect x="413.00" y="1233.24" width="63.48" height="34.96" fill="#205917"/>
<rect x="475.88" y="1233.24" width="63.48" height="34.96" fill="#205917"/>
<rect x="538.75" y="1233.24" width="63.48" height="34.96" fill="#152810"/>
<rect x="601.63" y="1233.24" width="63.48" height="34.96" fill="#205917"/>
<rect x="664.50" y="1233.24" width="63.48" height="34.96" fill="#152810"/>
<rect x="727.38" y="1233.24" width="63.48" height="34.96" fill="#205917"/>
<rect x="790.26" y="1233.24" width="63.48" height="34.96" fill="#1e4a16"/>
<rect x="853.13" y="1233.24" width="63.48" height="34.96" fill="#205917"/>
<rect x="916.01" y="1233.24" width="63.48" height="34.96" fill="#1e4a16"/>
<rect x="978.88" y="1233.24" width="63.48" height="34.96" fill="#1b3c14"/>
<rect x="1041.76" y="1233.24" width="63.48" height="34.96" fill="#205917"/>
<rect x="1104.63" y="1233.24" width="63.48" height="34.96" fill="#1e4a16"/>
<rect x="1167.51" y="1233.24" width="63.48" height="34.96" fill="#1e4a16"/>
<rect x="1230.39" y="1233.24" width="63.48" height="34.96" fill="#1b3c14"/>
<rect x="1293.26" y="1233.24" width="63.48" height="34.96" fill="#1b3c14"/>
<rect x="1356.14" y="1233.24" width="63.48" height="34.96" fill="#3f1508"/>
<rect x="1419.01" y="1233.24" width="63.48" height="34.96" fill="#1b3c14"/>
<rect x="1481.89" y="1233.24" width="63.48" height="34.96" fill="#205917"/>
<rect x="1544.77" y="1233.24" width="63.48" height="34.96" fill="#7a1b0c"/>
<rect x="1607.64" y="1233.24" width="63.48" height="34.96" fill="#5c190b"/>
<rect x="1670.52" y="1233.24" width="63.48" height="34.96" fill="#0c1507"/>
<rect x="1733.39" y="1233.24" width="63.48" height="34.96" fill="#9a1b0b"/>
<rect x="1796.27" y="1233.24" width="63.48" height="34.96" fill="#ff0000"/>
<rect x="1859.14" y="1233.24" width="63.48" height="34.96" fill="#5c190b"/>
<rect x="1922.02" y="1233.24" width="63.48" height="34.96" fill="#1b3c14"/>
<rect x="1984.90" y="1233.24" width="63.48" height="34.96" fill="#9a1b0b"/>
<rect x="2047.77" y="1233.24" width="63.48" height="34.96" fill="#205917"/>
<rect x="2110.65" y="1233.24" width="63.48" height="34.96" fill="#ff0000"/>
<rect x="2173.52" y="1233.24" width="63.48" height="34.96" fill="#1b3c14"/>
<rect x="413.00" y="1267.60" width="63.48" height="34.96" fill="#205917"/>
<rect x="475.88" y="1267.60" width="63.48" height="34.96" fill="#205917"/>
<rect x="538.75" y="1267.60" width="63.48" height="34.96" fill="#1e4a16"/>
<rect x="601.63" y="1267.60" width="63.48" height="34.96" fill="#1b3c14"/>
<rect x="664.50" y="1267.60" width="63.48" height="34.96" fill="#205917"/>
<rect x="727.38" y="1267.60" width="63.48" height="34.96" fill="#1e4a16"/>
<rect x="790.26" y="1267.60" width="63.48" height="34.96" fill="#5c190b"/>
<rect x="853.13" y="1267.60" width="63.48" height="34.96" fill="#205917"/>
<rect x="916.01" y="1267.60" width="63.48" height="34.96" fill="#1e4a16"/>
<rect x="978.88" y="1267.60" width="63.48" height="34.96" fill="#205917"/>
<rect x="1041.76" y="1267.60" width="63.48" height="34.96" fill="#1e4a16"/>
<rect x="1104.63" y="1267.60" width="63.48" height="34.96" fill="#205917"/>
<rect x="1167.51" y="1267.60" width="63.48" height="34.96" fill="#205917"/>
<rect x="1230.39" y="1267.60" width="63.48" height="34.96" fill="#1e4a16"/>
<rect x="1293.26" y="1267.60" width="63.48" height="34.96" fill="#1b3c14"/>
<rect x="1356.14" y="1267.60" width="63.48" height="34.96" fill="#0c1507"/>
<rect x="1419.01" y="1267.60" width="63.48" height="34.96" fill="#1e4a16"/>
<rect x="1481.89" y="1267.60" width="63.48" height="34.96" fill="#152810"/>
<rect x="1544.77" y="1267.60" width="63.48" height="34.96" fill="#ff0000"/>
<rect x="1607.64" y="1267.60" width="63.48" height="34.96" fill="#9a1b0b"/>
<rect x="1670.52" y="1267.60" width="63.48" height="34.96" fill="#152810"/>
<rect x="1733.39" y="1267.60" width="63.48" height="34.96" fill="#205917"/>
<rect x="1796.27" y="1267.60" width="63.48" height="34.96" fill="#9a1b0b"/>
<rect x="1859.14" y="1267.60" width="63.48" height="34.96" fill="#250f04"/>
<rect x="1922.02" y="1267.60" width="63.48" height="34.96" fill="#3f1508"/>
<rect x="1984.90" y="1267.60" width="63.48" height="34.96" fill="#ff0000"/>
<rect x="2047.77" y="1267.60" width="63.48" height="34.96" fill="#205917"/>
<rect x="2110.65" y="1267.60" width="63.48" height="34.96" fill="#3f1508"/>
<rect x="2173.52" y="1267.60" width="63.48" height="34.96" fill="#ff0000"/>
<rect x="413.00" y="1301.96" width="63.48" height="34.96" fill="#1b3c14"/>
<rect x="475.88" y="1301.96" width="63.48" height="34.96" fill="#1b3c14"/>
<rect x="538.75" y="1301.96" width="63.48" height="34.96" fill="#152810"/>
<rect x="601.63" y="1301.96" width="63.48" height="34.96" fill="#152810"/>
<rect x="664.50" y="1301.96" width="63.48" height="34.96" fill="#152810"/>
<rect x="727.38" y="1301.96" width="63.48" height="34.96" fill="#1b3c14"/>
<rect x="790.26" y="1301.96" width="63.48" height="34.96" fill="#1b3c14"/>
<rect x="853.13" y="1301.96" width="63.48" height="34.96" fill="#152810"/>
<rect x="916.01" y="1301.96" width="63.48" height="34.96" fill="#152810"/>
<rect x="978.88" y="1301.96" width="63.48" height="34.96" fill="#1b3c14"/>
<rect x="1041.76" y="1301.96" width="63.48" height="34.96" fill="#1b3c14"/>
<rect x="1104.63" y="1301.96" width="63.48" height="34.96" fill="#1b3c14"/>
<rect x="1167.51" y="1301.96" width="63.48" height="34.96" fill="#1b3c14"/>
<rect x="1230.39" y="1301.96" width="63.48" height="34.96" fill="#152810"/>
<rect x="1293.26" y="1301.96" width="63.48" height="34.96" fill="#1b3c14"/>
<rect x="1356.14" y="1301.96" width="63.48" height="34.96" fill="#152810"/>
<rect x="1419.01" y="1301.96" width="63.48" height="34.96" fill="#1b3c14"/>
<rect x="1481.89" y="1301.96" width="63.48" height="34.96" fill="#1b3c14"/>
<rect x="1544.77" y="1301.96" width="63.48" height="34.96" fill="#152810"/>
<rect x="1607.64" y="1301.96" width="63.48" height="34.96" fill="#ff0000"/>
<rect x="1670.52" y="1301.96" width="63.48" height="34.96" fill="#1b3c14"/>
<rect x="1733.39" y="1301.96" width="63.48" height="34.96" fill="#1b3c14"/>
<rect x="1796.27" y="1301.96" width="63.48" height="34.96" fill="#7a1b0c"/>
<rect x="1859.14" y="1301.96" width="63.48" height="34.96" fill="#250f04"/>
<rect x="1922.02" y="1301.96" width="63.48" height="34.96" fill="#3f1508"/>
<rect x="1984.90" y="1301.96" width="63.48" height="34.96" fill="#bb1909"/>
<rect x="2047.77" y="1301.96" width="63.48" height="34.96" fill="#152810"/>
<rect x="2110.65" y="1301.96" width="63.48" height="34.96" fill="#000000"/>
<rect x="2173.52" y="1301.96" width="63.48" height="34.96" fill="#7a1b0c"/>
<rect x="413.00" y="1336.32" width="63.48" height="34.96" fill="#1e4a16"/>
<rect x="475.88" y="1336.32" width="63.48" height="34.96" fill="#1e4a16"/>
<rect x="538.75" y="1336.32" width="63.48" height="34.96" fill="#000000"/>
<rect x="601.63" y="1336.32" width="63.48" height="34.96" fill="#150602"/>
<rect x="664.50" y="1336.32" width="63.48" height="34.96" fill="#1e4a16"/>
<rect x="727.38" y="1336.32" width="63.48" height="34.96" fill="#1e4a16"/>
<rect x="790.26" y="1336.32" width="63.48" height="34.96" fill="#1b3c14"/>
<rect x="853.13" y="1336.32" width="63.48" height="34.96" fill="#1b3c14"/>
<rect x="916.01" y="1336.32" width="63.48" height="34.96" fill="#1e4a16"/>
<rect x="978.88" y="1336.32" width="63.48" height="34.96" fill="#250f04"/>
<rect x="1041.76" y="1336.32" width="63.48" height="34.96" fill="#1e4a16"/>
<rect x="1104.63" y="1336.32" width="63.48" height="34.96" fill="#1e4a16"/>
<rect x="1167.51" y="1336.32" width="63.48" height="34.96" fill="#1e4a16"/>
<rect x="1230.39" y="1336.32" width="63.48" height="34.96" fill="#1e4a16"/>
<rect x="1293.26" y="1336.32" width="63.48" height="34.96" fill="#1e4a16"/>
<rect x="1356.14" y="1336.32" width="63.48" height="34.96" fill="#1e4a16"/>
<rect x="1419.01" y="1336.32" width="63.48" height="34.96" fill="#1e4a16"/>
<rect x="1481.89" y="1336.32" width="63.48" height="34.96" fill="#1b3c14"/>
<rect x="1544.77" y="1336.32" width="63.48" height="34.96" fill="#1b3c14"/>
<rect x="1607.64" y="1336.32" width="63.48" height="34.96" fill="#ff0000"/>
<rect x="1670.52" y="1336.32" width="63.48" height="34.96" fill="#3f1508"/>
<rect x="1733.39" y="1336.32" width="63.48" height="34.96" fill="#1e4a16"/>
<rect x="1796.27" y="1336.32" width="63.48" height="34.96" fill="#3f1508"/>
<rect x="1859.14" y="1336.32" width="63.48" height="34.96" fill="#152810"/>
<rect x="1922.02" y="1336.32" width="63.48" height="34.96" fill="#3f1508"/>
<rect x="1984.90" y="1336.32" width="63.48" height="34.96" fill="#ff0000"/>
<rect x="2047.77" y="1336.32" width="63.48" height="34.96" fill="#1b3c14"/>
<rect x="2110.65" y="1336.32" width="63.48" height="34.96" fill="#dc1205"/>
<rect x="2173.52" y="1336.32" width="63.48" height="34.96" fill="#3f1508"/>
<rect x="413.00" y="1370.68" width="63.48" height="34.96" fill="#152810"/>
<rect x="475.88" y="1370.68" width="63.48" height="34.96" fill="#1b3c14"/>
<rect x="538.75" y="1370.68" width="63.48" height="34.96" fill="#152810"/>
<rect x="601.63" y="1370.68" width="63.48" height="34.96" fill="#1b3c14"/>
<rect x="664.50" y="1370.68" width="63.48" height="34.96" fill="#1b3c14"/>
<rect x="727.38" y="1370.68" width="63.48" height="34.96" fill="#1b3c14"/>
<rect x="790.26" y="1370.68" width="63.48" height="34.96" fill="#1b3c14"/>
<rect x="853.13" y="1370.68" width="63.48" height="34.96" fill="#1e4a16"/>
<rect x="916.01" y="1370.68" width="63.48" height="34.96" fill="#152810"/>
<rect x="978.88" y="1370.68" width="63.48" height="34.96" fill="#152810"/>
<rect x="1041.76" y="1370.68" width="63.48" height="34.96" fill="#152810"/>
<rect x="1104.63" y="1370.68" width="63.48" height="34.96" fill="#1b3c14"/>
<rect x="1167.51" y="1370.68" width="63.48" height="34.96" fill="#152810"/>
<rect x="1230.39" y="1370.68" width="63.48" height="34.96" fill="#1e4a16"/>
<rect x="1293.26" y="1370.68" width="63.48" height="34.96" fill="#1b3c14"/>
<rect x="1356.14" y="1370.68" width="63.48" height="34.96" fill="#ff0000"/>
<rect x="1419.01" y="1370.68" width="63.48" height="34.96" fill="#7a1b0c"/>
<rect x="1481.89" y="1370.68" width="63.48" height="34.96" fill="#0c1507"/>
<rect x="1544.77" y="1370.68" width="63.48" height="34.96" fill="#152810"/>
<rect x="1607.64" y="1370.68" width="63.48" height="34.96" fill="#bb1909"/>
<rect x="1670.52" y="1370.68" width="63.48" height="34.96" fill="#250f04"/>
<rect x="1733.39" y="1370.68" width="63.48" height="34.96" fill="#1e4a16"/>
<rect x="1796.27" y="1370.68" width="63.48" height="34.96" fill="#1e4a16"/>
<rect x="1859.14" y="1370.68" width="63.48" height="34.96" fill="#5c190b"/>
<rect x="1922.02" y="1370.68" width="63.48" height="34.96" fill="#1b3c14"/>
<rect x="1984.90" y="1370.68" width="63.48" height="34.96" fill="#152810"/>
<rect x="2047.77" y="1370.68" width="63.48" height="34.96" fill="#152810"/>
<rect x="2110.65" y="1370.68" width="63.48" height="34.96" fill="#9a1b0b"/>
<rect x="2173.52" y="1370.68" width="63.48" height="34.96" fill="#152810"/>
<rect x="413.00" y="1405.04" width="63.48" height="34.96" fill="#1e4a16"/>
<rect x="475.88" y="1405.04" width="63.48" height="34.96" fill="#1e4a16"/>
<rect x="538.75" y="1405.04" width="63.48" height="34.96" fill="#1e4a16"/>
<rect x="601.63" y="1405.04" width="63.48" height="34.96" fill="#1b3c14"/>
<rect x="664.50" y="1405.04" width="63.48" height="34.96" fill="#1b3c14"/>
<rect x="727.38" y="1405.04" width="63.48" height="34.96" fill="#1e4a16"/>
<rect x="790.26" y="1405.04" width="63.48" height="34.96" fill="#0c1507"/>
<rect x="853.13" y="1405.04" width="63.48" height="34.96" fill="#1e4a16"/>
<rect x="916.01" y="1405.04" width="63.48" height="34.96" fill="#152810"/>
<rect x="978.88" y="1405.04" width="63.48" height="34.96" fill="#250f04"/>
<rect x="1041.76" y="1405.04" width="63.48" height="34.96" fill="#250f04"/>
<rect x="1104.63" y="1405.04" width="63.48" height="34.96" fill="#152810"/>
<rect x="1167.51" y="1405.04" width="63.48" height="34.96" fill="#1e4a16"/>
<rect x="1230.39" y="1405.04" width="63.48" height="34.96" fill="#152810"/>
<rect x="1293.26" y="1405.04" width="63.48" height="34.96" fill="#5c190b"/>
<rect x="1356.14" y="1405.04" width="63.48" height="34.96" fill="#ff0000"/>
<rect x="1419.01" y="1405.04" width="63.48" height="34.96" fill="#1b3c14"/>
<rect x="1481.89" y="1405.04" width="63.48" height="34.96" fill="#1e4a16"/>
<rect x="1544.77" y="1405.04" width="63.48" height="34.96" fill="#dc1205"/>
<rect x="1607.64" y="1405.04" width="63.48" height="34.96" fill="#ff0000"/>
<rect x="1670.52" y="1405.04" width="63.48" height="34.96" fill="#1b3c14"/>
<rect x="1733.39" y="1405.04" width="63.48" height="34.96" fill="#152810"/>
<rect x="1796.27" y="1405.04" width="63.48" height="34.96" fill="#152810"/>
<rect x="1859.14" y="1405.04" width="63.48" height="34.96" fill="#1e4a16"/>
<rect x="1922.02" y="1405.04" width="63.48" height="34.96" fill="#ff0000"/>
<rect x="1984.90" y="1405.04" width="63.48" height="34.96" fill="#1e4a16"/>
<rect x="2047.77" y="1405.04" width="63.48" height="34.96" fill="#152810"/>
<rect x="2110.65" y="1405.04" width="63.48" height="34.96" fill="#152810"/>
<rect x="2173.52" y="1405.04" width="63.48" height="34.96" fill="#152810"/>
<rect x="413.00" y="1439.40" width="63.48" height="34.96" fill="#0c1507"/>
<rect x="475.88" y="1439.40" width="63.48" height="34.96" fill="#1b3c14"/>
<rect x="538.75" y="1439.40" width="63.48" height="34.96" fill="#152810"/>
<rect x="601.63" y="1439.40" width="63.48" height="34.96" fill="#1b3c14"/>
<rect x="664.50" y="1439.40" width="63.48" height="34.96" fill="#3f1508"/>
<rect x="727.38" y="1439.40" width="63.48" height="34.96" fill="#205917"/>
<rect x="790.26" y="1439.40" width="63.48" height="34.96" fill="#205917"/>
<rect x="853.13" y="1439.40" width="63.48" height="34.96" fill="#1b3c14"/>
<rect x="916.01" y="1439.40" width="63.48" height="34.96" fill="#1e4a16"/>
<rect x="978.88" y="1439.40" width="63.48" height="34.96" fill="#205917"/>
<rect x="1041.76" y="1439.40" width="63.48" height="34.96" fill="#205917"/>
<rect x="1104.63" y="1439.40" width="63.48" height="34.96" fill="#1e4a16"/>
<rect x="1167.51" y="1439.40" width="63.48" height="34.96" fill="#205917"/>
<rect x="1230.39" y="1439.40" width="63.48" height="34.96" fill="#152810"/>
<rect x="1293.26" y="1439.40" width="63.48" height="34.96" fill="#1b3c14"/>
<rect x="1356.14" y="1439.40" width="63.48" height="34.96" fill="#dc1205"/>
<rect x="1419.01" y="1439.40" width="63.48" height="34.96" fill="#0c1507"/>
<rect x="1481.89" y="1439.40" width="63.48" height="34.96" fill="#152810"/>
<rect x="1544.77" y="1439.40" width="63.48" height="34.96" fill="#250f04"/>
<rect x="1607.64" y="1439.40" width="63.48" height="34.96" fill="#3f1508"/>
<rect x="1670.52" y="1439.40" width="63.48" height="34.96" fill="#1e4a16"/>
<rect x="1733.39" y="1439.40" width="63.48" height="34.96" fill="#152810"/>
<rect x="1796.27" y="1439.40" width="63.48" height="34.96" fill="#bb1909"/>
<rect x="1859.14" y="1439.40" width="63.48" height="34.96" fill="#250f04"/>
<rect x="1922.02" y="1439.40" width="63.48" height="34.96" fill="#250f04"/>
<rect x="1984.90" y="1439.40" width="63.48" height="34.96" fill="#250f04"/>
<rect x="2047.77" y="1439.40" width="63.48" height="34.96" fill="#ff0000"/>
<rect x="2110.65" y="1439.40" width="63.48" height="34.96" fill="#205917"/>
<rect x="2173.52" y="1439.40" width="63.48" height="34.96" fill="#3f1508"/>
<rect x="413.00" y="1473.76" width="63.48" height="34.96" fill="#3f1508"/>
<rect x="475.88" y="1473.76" width="63.48" height="34.96" fill="#000000"/>
<rect x="538.75" y="1473.76" width="63.48" height="34.96" fill="#250f04"/>
<rect x="601.63" y="1473.76" width="63.48" height="34.96" fill="#258b1a"/>
<rect x="664.50" y="1473.76" width="63.48" height="34.96" fill="#3f1508"/>
<rect x="727.38" y="1473.76" width="63.48" height="34.96" fill="#247719"/>
<rect x="790.26" y="1473.76" width="63.48" height="34.96" fill="#247719"/>
<rect x="853.13" y="1473.76" width="63.48" height="34.96" fill="#247719"/>
<rect x="916.01" y="1473.76" width="63.48" height="34.96" fill="#152810"/>
<rect x="978.88" y="1473.76" width="63.48" height="34.96" fill="#1b3c14"/>
<rect x="1041.76" y="1473.76" width="63.48" height="34.96" fill="#247719"/>
<rect x="1104.63" y="1473.76" width="63.48" height="34.96" fill="#247719"/>
<rect x="1167.51" y="1473.76" width="63.48" height="34.96" fill="#247719"/>
<rect x="1230.39" y="1473.76" width="63.48" height="34.96" fill="#152810"/>
<rect x="1293.26" y="1473.76" width="63.48" height="34.96" fill="#ff0000"/>
<rect x="1356.14" y="1473.76" width="63.48" height="34.96" fill="#5c190b"/>
<rect x="1419.01" y="1473.76" width="63.48" height="34.96" fill="#000000"/>
<rect x="1481.89" y="1473.76" width="63.48" height="34.96" fill="#250f04"/>
<rect x="1544.77" y="1473.76" width="63.48" height="34.96" fill="#000000"/>
<rect x="1607.64" y="1473.76" width="63.48" height="34.96" fill="#0c1507"/>
<rect x="1670.52" y="1473.76" width="63.48" height="34.96" fill="#1e4a16"/>
<rect x="1733.39" y="1473.76" width="63.48" height="34.96" fill="#258b1a"/>
<rect x="1796.27" y="1473.76" width="63.48" height="34.96" fill="#dc1205"/>
<rect x="1859.14" y="1473.76" width="63.48" height="34.96" fill="#250f04"/>
<rect x="1922.02" y="1473.76" width="63.48" height="34.96" fill="#0c1507"/>
<rect x="1984.90" y="1473.76" width="63.48" height="34.96" fill="#250f04"/>
<rect x="2047.77" y="1473.76" width="63.48" height="34.96" fill="#ff0000"/>
<rect x="2110.65" y="1473.76" width="63.48" height="34.96" fill="#0c1507"/>
<rect x="2173.52" y="1473.76" width="63.48" height="34.96" fill="#205917"/>
<rect x="413.00" y="1508.12" width="63.48" height="34.96" fill="#1e4a16"/>
<rect x="475.88" y="1508.12" width="63.48" height="34.96" fill="#1e4a16"/>
<rect x="538.75" y="1508.12" width="63.48" height="34.96" fill="#1e4a16"/>
<rect x="601.63" y="1508.12" width="63.48" height="34.96" fill="#250f04"/>
<rect x="664.50" y="1508.12" width="63.48" height="34.96" fill="#1e4a16"/>
<rect x="727.38" y="1508.12" width="63.48" height="34.96" fill="#1e4a16"/>
<rect x="790.26" y="1508.12" width="63.48" height="34.96" fill="#1e4a16"/>
<rect x="853.13" y="1508.12" width="63.48" height="34.96" fill="#1e4a16"/>
<rect x="916.01" y="1508.12" width="63.48" height="34.96" fill="#1b3c14"/>
<rect x="978.88" y="1508.12" width="63.48" height="34.96" fill="#1e4a16"/>
<rect x="1041.76" y="1508.12" width="63.48" height="34.96" fill="#250f04"/>
<rect x="1104.63" y="1508.12" width="63.48" height="34.96" fill="#1e4a16"/>
<rect x="1167.51" y="1508.12" width="63.48" height="34.96" fill="#152810"/>
<rect x="1230.39" y="1508.12" width="63.48" height="34.96" fill="#1e4a16"/>
<rect x="1293.26" y="1508.12" width="63.48" height="34.96" fill="#ff0000"/>
<rect x="1356.14" y="1508.12" width="63.48" height="34.96" fill="#1b3c14"/>
<rect x="1419.01" y="1508.12" width="63.48" height="34.96" fill="#1b3c14"/>
<rect x="1481.89" y="1508.12" width="63.48" height="34.96" fill="#152810"/>
<rect x="1544.77" y="1508.12" width="63.48" height="34.96" fill="#152810"/>
<rect x="1607.64" y="1508.12" width="63.48" height="34.96" fill="#152810"/>
<rect x="1670.52" y="1508.12" width="63.48" height="34.96" fill="#ff0000"/>
<rect x="1733.39" y="1508.12" width="63.48" height="34.96" fill="#bb1909"/>
<rect x="1796.27" y="1508.12" width="63.48" height="34.96" fill="#150602"/>
<rect x="1859.14" y="1508.12" width="63.48" height="34.96" fill="#152810"/>
<rect x="1922.02" y="1508.12" width="63.48" height="34.96" fill="#1b3c14"/>
<rect x="1984.90" y="1508.12" width="63.48" height="34.96" fill="#150602"/>
<rect x="2047.77" y="1508.12" width="63.48" height="34.96" fill="#1b3c14"/>
<rect x="2110.65" y="1508.12" width="63.48" height="34.96" fill="#152810"/>
<rect x="2173.52" y="1508.12" width="63.48" height="34.96" fill="#ff0000"/>
<rect x="413.00" y="1542.48" width="63.48" height="34.96" fill="#205917"/>
<rect x="475.88" y="1542.48" width="63.48" height="34.96" fill="#1e4a16"/>
<rect x="538.75" y="1542.48" width="63.48" height="34.96" fill="#205917"/>
<rect x="601.63" y="1542.48" width="63.48" height="34.96" fill="#205917"/>
<rect x="664.50" y="1542.48" width="63.48" height="34.96" fill="#1e4a16"/>
<rect x="727.38" y="1542.48" width="63.48" height="34.96" fill="#205917"/>
<rect x="790.26" y="1542.48" width="63.48" height="34.96" fill="#250f04"/>
<rect x="853.13" y="1542.48" width="63.48" height="34.96" fill="#205917"/>
<rect x="916.01" y="1542.48" width="63.48" height="34.96" fill="#152810"/>
<rect x="978.88" y="1542.48" width="63.48" height="34.96" fill="#1e4a16"/>
<rect x="1041.76" y="1542.48" width="63.48" height="34.96" fill="#205917"/>
<rect x="1104.63" y="1542.48" width="63.48" height="34.96" fill="#000000"/>
<rect x="1167.51" y="1542.48" width="63.48" height="34.96" fill="#205917"/>
<rect x="1230.39" y="1542.48" width="63.48" height="34.96" fill="#205917"/>
<rect x="1293.26" y="1542.48" width="63.48" height="34.96" fill="#ff0000"/>
<rect x="1356.14" y="1542.48" width="63.48" height="34.96" fill="#205917"/>
<rect x="1419.01" y="1542.48" width="63.48" height="34.96" fill="#000000"/>
<rect x="1481.89" y="1542.48" width="63.48" height="34.96" fill="#205917"/>
<rect x="1544.77" y="1542.48" width="63.48" height="34.96" fill="#152810"/>
<rect x="1607.64" y="1542.48" width="63.48" height="34.96" fill="#ff0000"/>
<rect x="1670.52" y="1542.48" width="63.48" height="34.96" fill="#1b3c14"/>
<rect x="1733.39" y="1542.48" width="63.48" height="34.96" fill="#7a1b0c"/>
<rect x="1796.27" y="1542.48" width="63.48" height="34.96" fill="#000000"/>
<rect x="1859.14" y="1542.48" width="63.48" height="34.96" fill="#152810"/>
<rect x="1922.02" y="1542.48" width="63.48" height="34.96" fill="#bb1909"/>
<rect x="1984.90" y="1542.48" width="63.48" height="34.96" fill="#3f1508"/>
<rect x="2047.77" y="1542.48" width="63.48" height="34.96" fill="#205917"/>
<rect x="2110.65" y="1542.48" width="63.48" height="34.96" fill="#ff0000"/>
<rect x="2173.52" y="1542.48" width="63.48" height="34.96" fill="#9a1b0b"/>
<rect x="413.00" y="1576.84" width="63.48" height="34.96" fill="#205917"/>
<rect x="475.88" y="1576.84" width="63.48" height="34.96" fill="#205917"/>
<rect x="538.75" y="1576.84" width="63.48" height="34.96" fill="#205917"/>
<rect x="601.63" y="1576.84" width="63.48" height="34.96" fill="#0c1507"/>
<rect x="664.50" y="1576.84" width="63.48" height="34.96" fill="#205917"/>
<rect x="727.38" y="1576.84" width="63.48" height="34.96" fill="#205917"/>
<rect x="790.26" y="1576.84" width="63.48" height="34.96" fill="#205917"/>
<rect x="853.13" y="1576.84" width="63.48" height="34.96" fill="#0c1507"/>
<rect x="916.01" y="1576.84" width="63.48" height="34.96" fill="#1b3c14"/>
<rect x="978.88" y="1576.84" width="63.48" height="34.96" fill="#1e4a16"/>
<rect x="1041.76" y="1576.84" width="63.48" height="34.96" fill="#205917"/>
<rect x="1104.63" y="1576.84" width="63.48" height="34.96" fill="#152810"/>
<rect x="1167.51" y="1576.84" width="63.48" height="34.96" fill="#205917"/>
<rect x="1230.39" y="1576.84" width="63.48" height="34.96" fill="#1e4a16"/>
<rect x="1293.26" y="1576.84" width="63.48" height="34.96" fill="#ff0000"/>
<rect x="1356.14" y="1576.84" width="63.48" height="34.96" fill="#5c190b"/>
<rect x="1419.01" y="1576.84" width="63.48" height="34.96" fill="#ff0000"/>
<rect x="1481.89" y="1576.84" width="63.48" height="34.96" fill="#205917"/>
<rect x="1544.77" y="1576.84" width="63.48" height="34.96" fill="#000000"/>
<rect x="1607.64" y="1576.84" width="63.48" height="34.96" fill="#ff0000"/>
<rect x="1670.52" y="1576.84" width="63.48" height="34.96" fill="#250f04"/>
<rect x="1733.39" y="1576.84" width="63.48" height="34.96" fill="#7a1b0c"/>
<rect x="1796.27" y="1576.84" width="63.48" height="34.96" fill="#1b3c14"/>
<rect x="1859.14" y="1576.84" width="63.48" height="34.96" fill="#0c1507"/>
<rect x="1922.02" y="1576.84" width="63.48" height="34.96" fill="#205917"/>
<rect x="1984.90" y="1576.84" width="63.48" height="34.96" fill="#152810"/>
<rect x="2047.77" y="1576.84" width="63.48" height="34.96" fill="#152810"/>
<rect x="2110.65" y="1576.84" width="63.48" height="34.96" fill="#152810"/>
<rect x="2173.52" y="1576.84" width="63.48" height="34.96" fill="#000000"/>
<rect x="413.00" y="1611.20" width="63.48" height="34.96" fill="#bb1909"/>
<rect x="475.88" y="1611.20" width="63.48" height="34.96" fill="#247719"/>
<rect x="538.75" y="1611.20" width="63.48" height="34.96" fill="#9a1b0b"/>
<rect x="601.63" y="1611.20" width="63.48" height="34.96" fill="#247719"/>
<rect x="664.50" y="1611.20" width="63.48" height="34.96" fill="#247719"/>
<rect x="727.38" y="1611.20" width="63.48" height="34.96" fill="#1e4a16"/>
<rect x="790.26" y="1611.20" width="63.48" height="34.96" fill="#247719"/>
<rect x="853.13" y="1611.20" width="63.48" height="34.96" fill="#247719"/>
<rect x="916.01" y="1611.20" width="63.48" height="34.96" fill="#247719"/>
<rect x="978.88" y="1611.20" width="63.48" height="34.96" fill="#247719"/>
<rect x="1041.76" y="1611.20" width="63.48" height="34.96" fill="#247719"/>
<rect x="1104.63" y="1611.20" width="63.48" height="34.96" fill="#247719"/>
<rect x="1167.51" y="1611.20" width="63.48" height="34.96" fill="#247719"/>
<rect x="1230.39" y="1611.20" width="63.48" height="34.96" fill="#247719"/>
<rect x="1293.26" y="1611.20" width="63.48" height="34.96" fill="#152810"/>
<rect x="1356.14" y="1611.20" width="63.48" height="34.96" fill="#3f1508"/>
<rect x="1419.01" y="1611.20" width="63.48" height="34.96" fill="#3f1508"/>
<rect x="1481.89" y="1611.20" width="63.48" height="34.96" fill="#152810"/>
<rect x="1544.77" y="1611.20" width="63.48" height="34.96" fill="#152810"/>
<rect x="1607.64" y="1611.20" width="63.48" height="34.96" fill="#bb1909"/>
<rect x="1670.52" y="1611.20" width="63.48" height="34.96" fill="#bb1909"/>
<rect x="1733.39" y="1611.20" width="63.48" height="34.96" fill="#0c1507"/>
<rect x="1796.27" y="1611.20" width="63.48" height="34.96" fill="#ff0000"/>
<rect x="1859.14" y="1611.20" width="63.48" height="34.96" fill="#0c1507"/>
<rect x="1922.02" y="1611.20" width="63.48" height="34.96" fill="#9a1b0b"/>
<rect x="1984.90" y="1611.20" width="63.48" height="34.96" fill="#5c190b"/>
<rect x="2047.77" y="1611.20" width="63.48" height="34.96" fill="#9a1b0b"/>
<rect x="2110.65" y="1611.20" width="63.48" height="34.96" fill="#150602"/>
<rect x="2173.52" y="1611.20" width="63.48" height="34.96" fill="#0c1507"/>
<rect x="413.00" y="1645.56" width="63.48" height="34.96" fill="#226818"/>
<rect x="475.88" y="1645.56" width="63.48" height="34.96" fill="#226818"/>
<rect x="538.75" y="1645.56" width="63.48" height="34.96" fill="#226818"/>
<rect x="601.63" y="1645.56" width="63.48" height="34.96" fill="#226818"/>
<rect x="664.50" y="1645.56" width="63.48" height="34.96" fill="#226818"/>
<rect x="727.38" y="1645.56" width="63.48" height="34.96" fill="#226818"/>
<rect x="790.26" y="1645.56" width="63.48" height="34.96" fill="#226818"/>
<rect x="853.13" y="1645.56" width="63.48" height="34.96" fill="#226818"/>
<rect x="916.01" y="1645.56" width="63.48" height="34.96" fill="#226818"/>
<rect x="978.88" y="1645.56" width="63.48" height="34.96" fill="#226818"/>
<rect x="1041.76" y="1645.56" width="63.48" height="34.96" fill="#226818"/>
<rect x="1104.63" y="1645.56" width="63.48" height="34.96" fill="#226818"/>
<rect x="1167.51" y="1645.56" width="63.48" height="34.96" fill="#226818"/>
<rect x="1230.39" y="1645.56" width="63.48" height="34.96" fill="#226818"/>
<rect x="1293.26" y="1645.56" width="63.48" height="34.96" fill="#250f04"/>
<rect x="1356.14" y="1645.56" width="63.48" height="34.96" fill="#5c190b"/>
<rect x="1419.01" y="1645.56" width="63.48" height="34.96" fill="#5c190b"/>
<rect x="1481.89" y="1645.56" width="63.48" height="34.96" fill="#150602"/>
<rect x="1544.77" y="1645.56" width="63.48" height="34.96" fill="#250f04"/>
<rect x="1607.64" y="1645.56" width="63.48" height="34.96" fill="#5c190b"/>
<rect x="1670.52" y="1645.56" width="63.48" height="34.96" fill="#dc1205"/>
<rect x="1733.39" y="1645.56" width="63.48" height="34.96" fill="#250f04"/>
<rect x="1796.27" y="1645.56" width="63.48" height="34.96" fill="#ff0000"/>
<rect x="1859.14" y="1645.56" width="63.48" height="34.96" fill="#250f04"/>
<rect x="1922.02" y="1645.56" width="63.48" height="34.96" fill="#ff0000"/>
<rect x="1984.90" y="1645.56" width="63.48" height="34.96" fill="#5c190b"/>
<rect x="2047.77" y="1645.56" width="63.48" height="34.96" fill="#9a1b0b"/>
<rect x="2110.65" y="1645.56" width="63.48" height="34.96" fill="#250f04"/>
<rect x="2173.52" y="1645.56" width="63.48" height="34.96" fill="#250f04"/>
<rect x="413.00" y="1679.92" width="63.48" height="34.96" fill="#247719"/>
<rect x="475.88" y="1679.92" width="63.48" height="34.96" fill="#247719"/>
<rect x="538.75" y="1679.92" width="63.48" height="34.96" fill="#9a1b0b"/>
<rect x="601.63" y="1679.92" width="63.48" height="34.96" fill="#247719"/>
<rect x="664.50" y="1679.92" width="63.48" height="34.96" fill="#150602"/>
<rect x="727.38" y="1679.92" width="63.48" height="34.96" fill="#1e4a16"/>
<rect x="790.26" y="1679.92" width="63.48" height="34.96" fill="#7a1b0c"/>
<rect x="853.13" y="1679.92" width="63.48" height="34.96" fill="#247719"/>
<rect x="916.01" y="1679.92" width="63.48" height="34.96" fill="#247719"/>
<rect x="978.88" y="1679.92" width="63.48" height="34.96" fill="#247719"/>
<rect x="1041.76" y="1679.92" width="63.48" height="34.96" fill="#247719"/>
<rect x="1104.63" y="1679.92" width="63.48" height="34.96" fill="#247719"/>
<rect x="1167.51" y="1679.92" width="63.48" height="34.96" fill="#247719"/>
<rect x="1230.39" y="1679.92" width="63.48" height="34.96" fill="#247719"/>
<rect x="1293.26" y="1679.92" width="63.48" height="34.96" fill="#0c1507"/>
<rect x="1356.14" y="1679.92" width="63.48" height="34.96" fill="#3f1508"/>
<rect x="1419.01" y="1679.92" width="63.48" height="34.96" fill="#5c190b"/>
<rect x="1481.89" y="1679.92" width="63.48" height="34.96" fill="#152810"/>
<rect x="1544.77" y="1679.92" width="63.48" height="34.96" fill="#0c1507"/>
<rect x="1607.64" y="1679.92" width="63.48" height="34.96" fill="#9a1b0b"/>
<rect x="1670.52" y="1679.92" width="63.48" height="34.96" fill="#dc1205"/>
<rect x="1733.39" y="1679.92" width="63.48" height="34.96" fill="#000000"/>
<rect x="1796.27" y="1679.92" width="63.48" height="34.96" fill="#ff0000"/>
<rect x="1859.14" y="1679.92" width="63.48" height="34.96" fill="#152810"/>
<rect x="1922.02" y="1679.92" width="63.48" height="34.96" fill="#bb1909"/>
<rect x="1984.90" y="1679.92" width="63.48" height="34.96" fill="#5c190b"/>
<rect x="2047.77" y="1679.92" width="63.48" height="34.96" fill="#7a1b0c"/>
<rect x="2110.65" y="1679.92" width="63.48" height="34.96" fill="#150602"/>
<rect x="2173.52" y="1679.92" width="63.48" height="34.96" fill="#0c1507"/>
<rect x="413.00" y="1714.28" width="63.48" height="34.96" fill="#1e4a16"/>
<rect x="475.88" y="1714.28" width="63.48" height="34.96" fill="#152810"/>
<rect x="538.75" y="1714.28" width="63.48" height="34.96" fill="#1b3c14"/>
<rect x="601.63" y="1714.28" width="63.48" height="34.96" fill="#1b3c14"/>
<rect x="664.50" y="1714.28" width="63.48" height="34.96" fill="#152810"/>
<rect x="727.38" y="1714.28" width="63.48" height="34.96" fill="#1e4a16"/>
<rect x="790.26" y="1714.28" width="63.48" height="34.96" fill="#1b3c14"/>
<rect x="853.13" y="1714.28" width="63.48" height="34.96" fill="#1b3c14"/>
<rect x="916.01" y="1714.28" width="63.48" height="34.96" fill="#152810"/>
<rect x="978.88" y="1714.28" width="63.48" height="34.96" fill="#1e4a16"/>
<rect x="1041.76" y="1714.28" width="63.48" height="34.96" fill="#1e4a16"/>
<rect x="1104.63" y="1714.28" width="63.48" height="34.96" fill="#0c1507"/>
<rect x="1167.51" y="1714.28" width="63.48" height="34.96" fill="#1e4a16"/>
<rect x="1230.39" y="1714.28" width="63.48" height="34.96" fill="#152810"/>
<rect x="1293.26" y="1714.28" width="63.48" height="34.96" fill="#1e4a16"/>
<rect x="1356.14" y="1714.28" width="63.48" height="34.96" fill="#1b3c14"/>
<rect x="1419.01" y="1714.28" width="63.48" height="34.96" fill="#1b3c14"/>
<rect x="1481.89" y="1714.28" width="63.48" height="34.96" fill="#152810"/>
<rect x="1544.77" y="1714.28" width="63.48" height="34.96" fill="#1b3c14"/>
<rect x="1607.64" y="1714.28" width="63.48" height="34.96" fill="#1e4a16"/>
<rect x="1670.52" y="1714.28" width="63.48" height="34.96" fill="#ff0000"/>
<rect x="1733.39" y="1714.28" width="63.48" height="34.96" fill="#ff0000"/>
<rect x="1796.27" y="1714.28" width="63.48" height="34.96" fill="#ff0000"/>
<rect x="1859.14" y="1714.28" width="63.48" height="34.96" fill="#1e4a16"/>
<rect x="1922.02" y="1714.28" width="63.48" height="34.96" fill="#0c1507"/>
<rect x="1984.90" y="1714.28" width="63.48" height="34.96" fill="#ff0000"/>
<rect x="2047.77" y="1714.28" width="63.48" height="34.96" fill="#3f1508"/>
<rect x="2110.65" y="1714.28" width="63.48" height="34.96" fill="#1e4a16"/>
<rect x="2173.52" y="1714.28" width="63.48" height="34.96" fill="#3f1508"/>
<rect x="413.00" y="1748.64" width="63.48" height="34.96" fill="#250f04"/>
<rect x="475.88" y="1748.64" width="63.48" height="34.96" fill="#1b3c14"/>
<rect x="538.75" y="1748.64" width="63.48" height="34.96" fill="#152810"/>
<rect x="601.63" y="1748.64" width="63.48" height="34.96" fill="#1e4a16"/>
<rect x="664.50" y="1748.64" width="63.48" height="34.96" fill="#152810"/>
<rect x="727.38" y="1748.64" width="63.48" height="34.96" fill="#1e4a16"/>
<rect x="790.26" y="1748.64" width="63.48" height="34.96" fill="#250f04"/>
<rect x="853.13" y="1748.64" width="63.48" height="34.96" fill="#1e4a16"/>
<rect x="916.01" y="1748.64" width="63.48" height="34.96" fill="#1b3c14"/>
<rect x="978.88" y="1748.64" width="63.48" height="34.96" fill="#1b3c14"/>
<rect x="1041.76" y="1748.64" width="63.48" height="34.96" fill="#1e4a16"/>
<rect x="1104.63" y="1748.64" width="63.48" height="34.96" fill="#152810"/>
<rect x="1167.51" y="1748.64" width="63.48" height="34.96" fill="#1e4a16"/>
<rect x="1230.39" y="1748.64" width="63.48" height="34.96" fill="#1b3c14"/>
<rect x="1293.26" y="1748.64" width="63.48" height="34.96" fill="#3f1508"/>
<rect x="1356.14" y="1748.64" width="63.48" height="34.96" fill="#1e4a16"/>
<rect x="1419.01" y="1748.64" width="63.48" height="34.96" fill="#152810"/>
<rect x="1481.89" y="1748.64" width="63.48" height="34.96" fill="#1e4a16"/>
<rect x="1544.77" y="1748.64" width="63.48" height="34.96" fill="#152810"/>
<rect x="1607.64" y="1748.64" width="63.48" height="34.96" fill="#1b3c14"/>
<rect x="1670.52" y="1748.64" width="63.48" height="34.96" fill="#1e4a16"/>
<rect x="1733.39" y="1748.64" width="63.48" height="34.96" fill="#ff0000"/>
<rect x="1796.27" y="1748.64" width="63.48" height="34.96" fill="#ff0000"/>
<rect x="1859.14" y="1748.64" width="63.48" height="34.96" fill="#250f04"/>
<rect x="1922.02" y="1748.64" width="63.48" height="34.96" fill="#ff0000"/>
<rect x="1984.90" y="1748.64" width="63.48" height="34.96" fill="#1e4a16"/>
<rect x="2047.77" y="1748.64" width="63.48" height="34.96" fill="#1e4a16"/>
<rect x="2110.65" y="1748.64" width="63.48" height="34.96" fill="#1e4a16"/>
<rect x="2173.52" y="1748.64" width="63.48" height="34.96" fill="#dc1205"/>
<rect x="2247.1" y="65.00" width="50.8" height="34.96" fill="#DF8F44"/>
<rect x="2301.3" y="65.00" width="51.2" height="34.96" fill="#374E55"/>
<rect x="2480" y="65.00" width="63" height="34.96" fill="#fac3b4"/>
<rect x="2564" y="65.00" width="62" height="34.96" fill="#7850fa"/>
<rect x="2247.1" y="99.36" width="50.8" height="34.96" fill="#EE4C97"/>
<rect x="2301.3" y="99.36" width="51.2" height="34.96" fill="#E18727"/>
<rect x="2480" y="99.36" width="63" height="34.96" fill="#fac8b9"/>
<rect x="2564" y="99.36" width="62" height="34.96" fill="#502dfa"/>
<rect x="2247.1" y="133.72" width="50.8" height="34.96" fill="#DF8F44"/>
<rect x="2301.3" y="133.72" width="51.2" height="34.96" fill="#7876B1"/>
<rect x="2480" y="133.72" width="63" height="34.96" fill="#fcb9a5"/>
<rect x="2564" y="133.72" width="62" height="34.96" fill="#3214fa"/>
<rect x="2247.1" y="168.08" width="50.8" height="34.96" fill="#DF8F44"/>
<rect x="2301.3" y="168.08" width="51.2" height="34.96" fill="#7876B1"/>
<rect x="2480" y="168.08" width="63" height="34.96" fill="#fcaa91"/>
<rect x="2564" y="168.08" width="62" height="34.96" fill="#4123fa"/>
<rect x="2247.1" y="202.44" width="50.8" height="34.96" fill="#DF8F44"/>
<rect x="2301.3" y="202.44" width="51.2" height="34.96" fill="#7876B1"/>
<rect x="2480" y="202.44" width="63" height="34.96" fill="#fc9678"/>
<rect x="2564" y="202.44" width="62" height="34.96" fill="#5532fa"/>
<rect x="2247.1" y="236.80" width="50.8" height="34.96" fill="#DF8F44"/>
<rect x="2301.3" y="236.80" width="51.2" height="34.96" fill="#374E55"/>
<rect x="2480" y="236.80" width="63" height="34.96" fill="#fca58c"/>
<rect x="2564" y="236.80" width="62" height="34.96" fill="#9b78f5"/>
<rect x="2247.1" y="271.16" width="50.8" height="34.96" fill="#DF8F44"/>
<rect x="2301.3" y="271.16" width="51.2" height="34.96" fill="#374E55"/>
<rect x="2480" y="271.16" width="63" height="34.96" fill="#ff5a3c"/>
<rect x="2564" y="271.16" width="62" height="34.96" fill="#916ef5"/>
<rect x="2247.1" y="305.52" width="50.8" height="34.96" fill="#20854E"/>
<rect x="2301.3" y="305.52" width="51.2" height="34.96" fill="#7876B1"/>
<rect x="2480" y="305.52" width="63" height="34.96" fill="#ff8264"/>
<rect x="2564" y="305.52" width="62" height="34.96" fill="#4123fa"/>
<rect x="2247.1" y="339.88" width="50.8" height="34.96" fill="#DF8F44"/>
<rect x="2301.3" y="339.88" width="51.2" height="34.96" fill="#0072B5"/>
<rect x="2480" y="339.88" width="63" height="34.96" fill="#fca58c"/>
<rect x="2564" y="339.88" width="62" height="34.96" fill="#5f3cfa"/>
<rect x="2247.1" y="374.24" width="50.8" height="34.96" fill="#DF8F44"/>
<rect x="2301.3" y="374.24" width="51.2" height="34.96" fill="#7876B1"/>
<rect x="2480" y="374.24" width="63" height="34.96" fill="#fac3b4"/>
<rect x="2564" y="374.24" width="62" height="34.96" fill="#2d14fa"/>
<rect x="2247.1" y="408.60" width="50.8" height="34.96" fill="#6F99AD"/>
<rect x="2301.3" y="408.60" width="51.2" height="34.96" fill="#EE4C97"/>
<rect x="2480" y="408.60" width="63" height="34.96" fill="#f8d2c8"/>
<rect x="2564" y="408.60" width="62" height="34.96" fill="#2d14fa"/>
<rect x="2247.1" y="442.96" width="50.8" height="34.96" fill="#DF8F44"/>
<rect x="2301.3" y="442.96" width="51.2" height="34.96" fill="#FFDC91"/>
<rect x="2480" y="442.96" width="63" height="34.96" fill="#fac3b4"/>
<rect x="2564" y="442.96" width="62" height="34.96" fill="#9673f5"/>
<rect x="2247.1" y="477.32" width="50.8" height="34.96" fill="#DF8F44"/>
<rect x="2301.3" y="477.32" width="51.2" height="34.96" fill="#7876B1"/>
<rect x="2480" y="477.32" width="63" height="34.96" fill="#fca58c"/>
<rect x="2564" y="477.32" width="62" height="34.96" fill="#3719fa"/>
<rect x="2247.1" y="511.68" width="50.8" height="34.96" fill="#DF8F44"/>
<rect x="2301.3" y="511.68" width="51.2" height="34.96" fill="#FFDC91"/>
<rect x="2480" y="511.68" width="63" height="34.96" fill="#fc9173"/>
<rect x="2564" y="511.68" width="62" height="34.96" fill="#2d14fa"/>
<rect x="2247.1" y="546.04" width="50.8" height="34.96" fill="#DF8F44"/>
<rect x="2301.3" y="546.04" width="51.2" height="34.96" fill="#0072B5"/>
<rect x="2480" y="546.04" width="63" height="34.96" fill="#ff0000"/>
<rect x="2564" y="546.04" width="62" height="34.96" fill="#5a37fa"/>
<rect x="2247.1" y="580.40" width="50.8" height="34.96" fill="#DF8F44"/>
<rect x="2301.3" y="580.40" width="51.2" height="34.96" fill="#6F99AD"/>
<rect x="2480" y="580.40" width="63" height="34.96" fill="#fca087"/>
<rect x="2564" y="580.40" width="62" height="34.96" fill="#9b78f5"/>
<rect x="2247.1" y="614.76" width="50.8" height="34.96" fill="#DF8F44"/>
<rect x="2301.3" y="614.76" width="51.2" height="34.96" fill="#0072B5"/>
<rect x="2480" y="614.76" width="63" height="34.96" fill="#fcb9a5"/>
<rect x="2564" y="614.76" width="62" height="34.96" fill="#9b78f5"/>
<rect x="2247.1" y="649.12" width="50.8" height="34.96" fill="#DF8F44"/>
<rect x="2301.3" y="649.12" width="51.2" height="34.96" fill="#EE4C97"/>
<rect x="2480" y="649.12" width="63" height="34.96" fill="#fac3b4"/>
<rect x="2564" y="649.12" width="62" height="34.96" fill="#4123fa"/>
<rect x="2247.1" y="683.48" width="50.8" height="34.96" fill="#374E55"/>
<rect x="2301.3" y="683.48" width="51.2" height="34.96" fill="#E18727"/>
<rect x="2480" y="683.48" width="63" height="34.96" fill="#fc9b7d"/>
<rect x="2564" y="683.48" width="62" height="34.96" fill="#8764f5"/>
<rect x="2247.1" y="717.84" width="50.8" height="34.96" fill="#E18727"/>
<rect x="2301.3" y="717.84" width="51.2" height="34.96" fill="#20854E"/>
<rect x="2480" y="717.84" width="63" height="34.96" fill="#fc9173"/>
<rect x="2564" y="717.84" width="62" height="34.96" fill="#a082f5"/>
<rect x="2247.1" y="752.20" width="50.8" height="34.96" fill="#DF8F44"/>
<rect x="2301.3" y="752.20" width="51.2" height="34.96" fill="#374E55"/>
<rect x="2480" y="752.20" width="63" height="34.96" fill="#fca58c"/>
<rect x="2564" y="752.20" width="62" height="34.96" fill="#7855fa"/>
<rect x="2247.1" y="786.56" width="50.8" height="34.96" fill="#DF8F44"/>
<rect x="2301.3" y="786.56" width="51.2" height="34.96" fill="#374E55"/>
<rect x="2480" y="786.56" width="63" height="34.96" fill="#facdbe"/>
<rect x="2564" y="786.56" width="62" height="34.96" fill="#6e4bfa"/>
<rect x="2247.1" y="820.92" width="50.8" height="34.96" fill="#FFDC91"/>
<rect x="2301.3" y="820.92" width="51.2" height="34.96" fill="#FFDC91"/>
<rect x="2480" y="820.92" width="63" height="34.96" fill="#fac3b4"/>
<rect x="2564" y="820.92" width="62" height="34.96" fill="#3c1efa"/>
<rect x="2247.1" y="855.28" width="50.8" height="34.96" fill="#DF8F44"/>
<rect x="2301.3" y="855.28" width="51.2" height="34.96" fill="#374E55"/>
<rect x="2480" y="855.28" width="63" height="34.96" fill="#fc9173"/>
<rect x="2564" y="855.28" width="62" height="34.96" fill="#825ff5"/>
<rect x="2247.1" y="889.64" width="50.8" height="34.96" fill="#DF8F44"/>
<rect x="2301.3" y="889.64" width="51.2" height="34.96" fill="#FFDC91"/>
<rect x="2480" y="889.64" width="63" height="34.96" fill="#fcb9a5"/>
<rect x="2564" y="889.64" width="62" height="34.96" fill="#1405fa"/>
<rect x="2247.1" y="924.00" width="50.8" height="34.96" fill="#DF8F44"/>
<rect x="2301.3" y="924.00" width="51.2" height="34.96" fill="#374E55"/>
<rect x="2480" y="924.00" width="63" height="34.96" fill="#ff3c23"/>
<rect x="2564" y="924.00" width="62" height="34.96" fill="#8c69f5"/>
<rect x="2247.1" y="958.36" width="50.8" height="34.96" fill="#DF8F44"/>
<rect x="2301.3" y="958.36" width="51.2" height="34.96" fill="#FFDC91"/>
<rect x="2480" y="958.36" width="63" height="34.96" fill="#aa8cf5"/>
<rect x="2564" y="958.36" width="62" height="34.96" fill="#d2bef0"/>
<rect x="2247.1" y="992.72" width="50.8" height="34.96" fill="#7876B1"/>
<rect x="2301.3" y="992.72" width="51.2" height="34.96" fill="#7876B1"/>
<rect x="2480" y="992.72" width="63" height="34.96" fill="#c8aff0"/>
<rect x="2564" y="992.72" width="62" height="34.96" fill="#4123fa"/>
<rect x="2247.1" y="1027.08" width="50.8" height="34.96" fill="#DF8F44"/>
<rect x="2301.3" y="1027.08" width="51.2" height="34.96" fill="#7876B1"/>
<rect x="2480" y="1027.08" width="63" height="34.96" fill="#966ef5"/>
<rect x="2564" y="1027.08" width="62" height="34.96" fill="#6946fa"/>
<rect x="2247.1" y="1061.44" width="50.8" height="34.96" fill="#DF8F44"/>
<rect x="2301.3" y="1061.44" width="51.2" height="34.96" fill="#FFDC91"/>
<rect x="2480" y="1061.44" width="63" height="34.96" fill="#c3aaf0"/>
<rect x="2564" y="1061.44" width="62" height="34.96" fill="#280ffa"/>
<rect x="2247.1" y="1095.80" width="50.8" height="34.96" fill="#DF8F44"/>
<rect x="2301.3" y="1095.80" width="51.2" height="34.96" fill="#7876B1"/>
<rect x="2480" y="1095.80" width="63" height="34.96" fill="#d2c3f0"/>
<rect x="2564" y="1095.80" width="62" height="34.96" fill="#3719fa"/>
<rect x="2247.1" y="1130.16" width="50.8" height="34.96" fill="#DF8F44"/>
<rect x="2301.3" y="1130.16" width="51.2" height="34.96" fill="#374E55"/>
<rect x="2480" y="1130.16" width="63" height="34.96" fill="#c3aaf2"/>
<rect x="2564" y="1130.16" width="62" height="34.96" fill="#190afa"/>
<rect x="2247.1" y="1164.52" width="50.8" height="34.96" fill="#DF8F44"/>
<rect x="2301.3" y="1164.52" width="51.2" height="34.96" fill="#FFDC91"/>
<rect x="2480" y="1164.52" width="63" height="34.96" fill="#cdb9f0"/>
<rect x="2564" y="1164.52" width="62" height="34.96" fill="#3c1efa"/>
<rect x="2247.1" y="1198.88" width="50.8" height="34.96" fill="#DF8F44"/>
<rect x="2301.3" y="1198.88" width="51.2" height="34.96" fill="#374E55"/>
<rect x="2480" y="1198.88" width="63" height="34.96" fill="#d2c3f0"/>
<rect x="2564" y="1198.88" width="62" height="34.96" fill="#0000fa"/>
<rect x="2247.1" y="1233.24" width="50.8" height="34.96" fill="#DF8F44"/>
<rect x="2301.3" y="1233.24" width="51.2" height="34.96" fill="#374E55"/>
<rect x="2480" y="1233.24" width="63" height="34.96" fill="#b496f2"/>
<rect x="2564" y="1233.24" width="62" height="34.96" fill="#916ef5"/>
<rect x="2247.1" y="1267.60" width="50.8" height="34.96" fill="#DF8F44"/>
<rect x="2301.3" y="1267.60" width="51.2" height="34.96" fill="#374E55"/>
<rect x="2480" y="1267.60" width="63" height="34.96" fill="#b496f2"/>
<rect x="2564" y="1267.60" width="62" height="34.96" fill="#916ef5"/>
<rect x="2247.1" y="1301.96" width="50.8" height="34.96" fill="#DF8F44"/>
<rect x="2301.3" y="1301.96" width="51.2" height="34.96" fill="#0072B5"/>
<rect x="2480" y="1301.96" width="63" height="34.96" fill="#aa87f5"/>
<rect x="2564" y="1301.96" width="62" height="34.96" fill="#280ffa"/>
<rect x="2247.1" y="1336.32" width="50.8" height="34.96" fill="#374E55"/>
<rect x="2301.3" y="1336.32" width="51.2" height="34.96" fill="#E18727"/>
<rect x="2480" y="1336.32" width="63" height="34.96" fill="#c3aaf0"/>
<rect x="2564" y="1336.32" width="62" height="34.96" fill="#3719fa"/>
<rect x="2247.1" y="1370.68" width="50.8" height="34.96" fill="#7876B1"/>
<rect x="2301.3" y="1370.68" width="51.2" height="34.96" fill="#374E55"/>
<rect x="2480" y="1370.68" width="63" height="34.96" fill="#b496f2"/>
<rect x="2564" y="1370.68" width="62" height="34.96" fill="#3719fa"/>
<rect x="2247.1" y="1405.04" width="50.8" height="34.96" fill="#DF8F44"/>
<rect x="2301.3" y="1405.04" width="51.2" height="34.96" fill="#374E55"/>
<rect x="2480" y="1405.04" width="63" height="34.96" fill="#cdb9f0"/>
<rect x="2564" y="1405.04" width="62" height="34.96" fill="#190afa"/>
<rect x="2247.1" y="1439.40" width="50.8" height="34.96" fill="#DF8F44"/>
<rect x="2301.3" y="1439.40" width="51.2" height="34.96" fill="#374E55"/>
<rect x="2480" y="1439.40" width="63" height="34.96" fill="#d7c8ee"/>
<rect x="2564" y="1439.40" width="62" height="34.96" fill="#6e4bfa"/>
<rect x="2247.1" y="1473.76" width="50.8" height="34.96" fill="#DF8F44"/>
<rect x="2301.3" y="1473.76" width="51.2" height="34.96" fill="#FFDC91"/>
<rect x="2480" y="1473.76" width="63" height="34.96" fill="#dcd2ee"/>
<rect x="2564" y="1473.76" width="62" height="34.96" fill="#5532fa"/>
<rect x="2247.1" y="1508.12" width="50.8" height="34.96" fill="#DF8F44"/>
<rect x="2301.3" y="1508.12" width="51.2" height="34.96" fill="#E18727"/>
<rect x="2480" y="1508.12" width="63" height="34.96" fill="#b99bf2"/>
<rect x="2564" y="1508.12" width="62" height="34.96" fill="#5532fa"/>
<rect x="2247.1" y="1542.48" width="50.8" height="34.96" fill="#DF8F44"/>
<rect x="2301.3" y="1542.48" width="51.2" height="34.96" fill="#374E55"/>
<rect x="2480" y="1542.48" width="63" height="34.96" fill="#b99bf2"/>
<rect x="2564" y="1542.48" width="62" height="34.96" fill="#8c69f5"/>
<rect x="2247.1" y="1576.84" width="50.8" height="34.96" fill="#DF8F44"/>
<rect x="2301.3" y="1576.84" width="51.2" height="34.96" fill="#374E55"/>
<rect x="2480" y="1576.84" width="63" height="34.96" fill="#b496f2"/>
<rect x="2564" y="1576.84" width="62" height="34.96" fill="#7d5afa"/>
<rect x="2247.1" y="1611.20" width="50.8" height="34.96" fill="#BC3C29"/>
<rect x="2301.3" y="1611.20" width="51.2" height="34.96" fill="#BC3C29"/>
<rect x="2480" y="1611.20" width="63" height="34.96" fill="#c3aaf0"/>
<rect x="2564" y="1611.20" width="62" height="34.96" fill="#b9a0f2"/>
<rect x="2247.1" y="1645.56" width="50.8" height="34.96" fill="#DF8F44"/>
<rect x="2301.3" y="1645.56" width="51.2" height="34.96" fill="#E18727"/>
<rect x="2480" y="1645.56" width="63" height="34.96" fill="#461efa"/>
<rect x="2564" y="1645.56" width="62" height="34.96" fill="#ff0000"/>
<rect x="2247.1" y="1679.92" width="50.8" height="34.96" fill="#DF8F44"/>
<rect x="2301.3" y="1679.92" width="51.2" height="34.96" fill="#374E55"/>
<rect x="2480" y="1679.92" width="63" height="34.96" fill="#c8aff0"/>
<rect x="2564" y="1679.92" width="62" height="34.96" fill="#bea5f2"/>
<rect x="2247.1" y="1714.28" width="50.8" height="34.96" fill="#0072B5"/>
<rect x="2301.3" y="1714.28" width="51.2" height="34.96" fill="#E18727"/>
<rect x="2480" y="1714.28" width="63" height="34.96" fill="#b496f2"/>
<rect x="2564" y="1714.28" width="62" height="34.96" fill="#502dfa"/>
<rect x="2247.1" y="1748.64" width="50.8" height="34.96" fill="#DF8F44"/>
<rect x="2301.3" y="1748.64" width="51.2" height="34.96" fill="#E18727"/>
<rect x="2480" y="1748.64" width="63" height="34.96" fill="#c8b4f0"/>
<rect x="2564" y="1748.64" width="62" height="34.96" fill="#1e0afa"/>
</svg>
<svg width="3548" height="1979" viewBox="0 0 3548 1979" style="position:absolute;left:0;top:0;will-change:transform">
<text x="402.5" y="92.58" text-anchor="end" font-size="29" fill="#000">Norrangiformic Acid</text>
<text x="402.5" y="126.94" text-anchor="end" font-size="29" fill="#000">Lithocholic Acid</text>
<text x="402.5" y="161.30" text-anchor="end" font-size="29" fill="#000">Cilazapril Monohydrate</text>
<text x="402.5" y="195.66" text-anchor="end" font-size="29" fill="#000">Leucyl-leucine</text>
<text x="402.5" y="230.02" text-anchor="end" font-size="29" fill="#000">Threonylleucine</text>
<text x="402.5" y="264.38" text-anchor="end" font-size="29" fill="#000">Ascochlorin</text>
<text x="402.5" y="298.74" text-anchor="end" font-size="29" fill="#000">Conocarpan</text>
<text x="402.5" y="333.10" text-anchor="end" font-size="29" fill="#000">Glutaric Acid</text>
<text x="402.5" y="367.46" text-anchor="end" font-size="29" fill="#000">Paracetamol</text>
<text x="402.5" y="401.82" text-anchor="end" font-size="29" fill="#000">Maleic Acid</text>
<text x="402.5" y="436.18" text-anchor="end" font-size="29" fill="#000">Laricitrin</text>
<text x="402.5" y="470.54" text-anchor="end" font-size="29" fill="#000">Phthalic Anhydride</text>
<text x="402.5" y="504.90" text-anchor="end" font-size="29" fill="#000">Ectoine</text>
<text x="402.5" y="539.26" text-anchor="end" font-size="29" fill="#000">Piperidine</text>
<text x="402.5" y="573.62" text-anchor="end" font-size="29" fill="#000">Trinitrotoluene</text>
<text x="402.5" y="607.98" text-anchor="end" font-size="29" fill="#000">D-Fructose</text>
<text x="402.5" y="642.34" text-anchor="end" font-size="29" fill="#000">2,4-Dinitrophenol</text>
<text x="402.5" y="676.70" text-anchor="end" font-size="29" fill="#000">Loureirin B</text>
<text x="402.5" y="711.06" text-anchor="end" font-size="29" fill="#000">Strophanthidin</text>
<text x="402.5" y="745.42" text-anchor="end" font-size="29" fill="#000">Uridine</text>
<text x="402.5" y="779.78" text-anchor="end" font-size="29" fill="#000">N-Acetyl-Dl-Serine</text>
<text x="402.5" y="814.14" text-anchor="end" font-size="29" fill="#000">D-Gulonic Acid Gama-Lactone</text>
<text x="402.5" y="848.50" text-anchor="end" font-size="29" fill="#000">Maltol</text>
<text x="402.5" y="882.86" text-anchor="end" font-size="29" fill="#000">4,4`-Thiodiphenol</text>
<text x="402.5" y="917.22" text-anchor="end" font-size="29" fill="#000">Indoline</text>
<text x="402.5" y="951.58" text-anchor="end" font-size="29" fill="#000">N-Acetyl-Dl-Methionine</text>
<text x="402.5" y="985.94" text-anchor="end" font-size="29" fill="#000">Diazoxide</text>
<text x="402.5" y="1020.30" text-anchor="end" font-size="29" fill="#000">L-Threonine</text>
<text x="402.5" y="1054.66" text-anchor="end" font-size="29" fill="#000">N-Acetyl-L-phenylalanine</text>
<text x="402.5" y="1089.02" text-anchor="end" font-size="29" fill="#000">2-Piperidone</text>
<text x="402.5" y="1123.38" text-anchor="end" font-size="29" fill="#000">Lysine</text>
<text x="402.5" y="1157.74" text-anchor="end" font-size="29" fill="#000">Chloridazone-Desphenyl</text>
<text x="402.5" y="1192.10" text-anchor="end" font-size="29" fill="#000">Tryptophan</text>
<text x="402.5" y="1226.46" text-anchor="end" font-size="29" fill="#000">Agelasine</text>
<text x="402.5" y="1260.82" text-anchor="end" font-size="29" fill="#000">3-Hydroxycolensoic Acid</text>
<text x="402.5" y="1295.18" text-anchor="end" font-size="29" fill="#000">Chloratranol</text>
<text x="402.5" y="1329.54" text-anchor="end" font-size="29" fill="#000">Aniline</text>
<text x="402.5" y="1363.90" text-anchor="end" font-size="29" fill="#000">Soyasapogenol B</text>
<text x="402.5" y="1398.26" text-anchor="end" font-size="29" fill="#000">L-Gln</text>
<text x="402.5" y="1432.62" text-anchor="end" font-size="29" fill="#000">6-Methoxydihydrosanguinarine</text>
<text x="402.5" y="1466.98" text-anchor="end" font-size="29" fill="#000">D-Glucosamine 6-Sulfate</text>
<text x="402.5" y="1501.34" text-anchor="end" font-size="29" fill="#000">Methazolamide</text>
<text x="402.5" y="1535.70" text-anchor="end" font-size="29" fill="#000">Hyocholic Acid</text>
<text x="402.5" y="1570.06" text-anchor="end" font-size="29" fill="#000">Jasminoside B</text>
<text x="402.5" y="1604.42" text-anchor="end" font-size="29" fill="#000">Cycloveratrylene</text>
<text x="402.5" y="1638.78" text-anchor="end" font-size="29" fill="#000">Hydroquinidine</text>
<text x="402.5" y="1673.14" text-anchor="end" font-size="29" fill="#000">Aurapten</text>
<text x="402.5" y="1707.50" text-anchor="end" font-size="29" fill="#000">Triptophenolide</text>
<text x="402.5" y="1741.86" text-anchor="end" font-size="29" fill="#000">Sebacic Acid</text>
<text x="402.5" y="1776.22" text-anchor="end" font-size="29" fill="#000">Exemestane</text>
<text transform="translate(457.04,1800) rotate(-90) scale(0.875,1)" x="0" y="0" text-anchor="end" font-size="35" fill="#231815">S1</text>
<text transform="translate(519.91,1800) rotate(-90) scale(0.875,1)" x="0" y="0" text-anchor="end" font-size="35" fill="#231815">S2</text>
<text transform="translate(582.79,1800) rotate(-90) scale(0.875,1)" x="0" y="0" text-anchor="end" font-size="35" fill="#231815">S3</text>
<text transform="translate(645.67,1800) rotate(-90) scale(0.875,1)" x="0" y="0" text-anchor="end" font-size="35" fill="#231815">S4</text>
<text transform="translate(708.54,1800) rotate(-90) scale(0.875,1)" x="0" y="0" text-anchor="end" font-size="35" fill="#231815">S5</text>
<text transform="translate(771.42,1800) rotate(-90) scale(0.875,1)" x="0" y="0" text-anchor="end" font-size="35" fill="#231815">S7</text>
<text transform="translate(834.29,1800) rotate(-90) scale(0.875,1)" x="0" y="0" text-anchor="end" font-size="35" fill="#231815">S8</text>
<text transform="translate(897.17,1800) rotate(-90) scale(0.875,1)" x="0" y="0" text-anchor="end" font-size="35" fill="#231815">S9</text>
<text transform="translate(960.04,1800) rotate(-90) scale(0.875,1)" x="0" y="0" text-anchor="end" font-size="35" fill="#231815">S10</text>
<text transform="translate(1022.92,1800) rotate(-90) scale(0.875,1)" x="0" y="0" text-anchor="end" font-size="35" fill="#231815">S11</text>
<text transform="translate(1085.80,1800) rotate(-90) scale(0.875,1)" x="0" y="0" text-anchor="end" font-size="35" fill="#231815">S12</text>
<text transform="translate(1148.67,1800) rotate(-90) scale(0.875,1)" x="0" y="0" text-anchor="end" font-size="35" fill="#231815">S14</text>
<text transform="translate(1211.55,1800) rotate(-90) scale(0.875,1)" x="0" y="0" text-anchor="end" font-size="35" fill="#231815">S15</text>
<text transform="translate(1274.42,1800) rotate(-90) scale(0.875,1)" x="0" y="0" text-anchor="end" font-size="35" fill="#231815">S16</text>
<text transform="translate(1337.30,1800) rotate(-90) scale(0.875,1)" x="0" y="0" text-anchor="end" font-size="35" fill="#231815">DZ1</text>
<text transform="translate(1400.18,1800) rotate(-90) scale(0.875,1)" x="0" y="0" text-anchor="end" font-size="35" fill="#231815">DZ2</text>
<text transform="translate(1463.05,1800) rotate(-90) scale(0.875,1)" x="0" y="0" text-anchor="end" font-size="35" fill="#231815">DZ3</text>
<text transform="translate(1525.93,1800) rotate(-90) scale(0.875,1)" x="0" y="0" text-anchor="end" font-size="35" fill="#231815">DZ4</text>
<text transform="translate(1588.80,1800) rotate(-90) scale(0.875,1)" x="0" y="0" text-anchor="end" font-size="35" fill="#231815">DZ6</text>
<text transform="translate(1651.68,1800) rotate(-90) scale(0.875,1)" x="0" y="0" text-anchor="end" font-size="35" fill="#231815">DZ7</text>
<text transform="translate(1714.56,1800) rotate(-90) scale(0.875,1)" x="0" y="0" text-anchor="end" font-size="35" fill="#231815">DZ8</text>
<text transform="translate(1777.43,1800) rotate(-90) scale(0.875,1)" x="0" y="0" text-anchor="end" font-size="35" fill="#231815">DZ9</text>
<text transform="translate(1840.31,1800) rotate(-90) scale(0.875,1)" x="0" y="0" text-anchor="end" font-size="35" fill="#231815">DZ10</text>
<text transform="translate(1903.18,1800) rotate(-90) scale(0.875,1)" x="0" y="0" text-anchor="end" font-size="35" fill="#231815">DZ11</text>
<text transform="translate(1966.06,1800) rotate(-90) scale(0.875,1)" x="0" y="0" text-anchor="end" font-size="35" fill="#231815">DZ12</text>
<text transform="translate(2028.93,1800) rotate(-90) scale(0.875,1)" x="0" y="0" text-anchor="end" font-size="35" fill="#231815">DZ13</text>
<text transform="translate(2091.81,1800) rotate(-90) scale(0.875,1)" x="0" y="0" text-anchor="end" font-size="35" fill="#231815">DZ14</text>
<text transform="translate(2154.69,1800) rotate(-90) scale(0.875,1)" x="0" y="0" text-anchor="end" font-size="35" fill="#231815">DZ15</text>
<text transform="translate(2217.56,1800) rotate(-90) scale(0.875,1)" x="0" y="0" text-anchor="end" font-size="35" fill="#231815">DZ16</text>
<text transform="translate(2285.00,1800) rotate(-90)" x="0" y="0" text-anchor="end" font-size="35" fill="#231815" textLength="163" lengthAdjust="spacingAndGlyphs">KEGG class</text>
<text transform="translate(2340.10,1800) rotate(-90)" x="0" y="0" text-anchor="end" font-size="35" fill="#231815" textLength="171" lengthAdjust="spacingAndGlyphs">HMDB class</text>
<text transform="translate(2522.10,1800) rotate(-90)" x="0" y="0" text-anchor="end" font-size="35" fill="#231815" textLength="145" lengthAdjust="spacingAndGlyphs">Log2 (FC)</text>
<text transform="translate(2606,1800) rotate(-90)" x="0" y="0" text-anchor="end" font-size="35" fill="#231815" textLength="100" lengthAdjust="spacingAndGlyphs">-Lg (<tspan font-style="italic">P</tspan>)</text>
<text x="2249" y="40.5" font-size="35.5" fill="#231815" textLength="90" lengthAdjust="spacingAndGlyphs">Group</text>
<path d="M2356.40 82.18L2411.30 82.18M2356.40 116.54L2411.30 116.54M2411.30 82.18L2411.30 116.54M2356.40 185.26L2399.00 185.26M2356.40 219.62L2399.00 219.62M2399.00 185.26L2399.00 219.62M2356.40 150.90L2405.50 150.90M2399.00 202.44L2405.50 202.44M2405.50 150.90L2405.50 202.44M2411.30 99.36L2423.00 99.36M2405.50 176.67L2423.00 176.67M2423.00 99.36L2423.00 176.67M2356.40 253.98L2390.30 253.98M2356.40 288.34L2390.30 288.34M2390.30 253.98L2390.30 288.34M2356.40 322.70L2397.30 322.70M2390.30 271.16L2397.30 271.16M2397.30 322.70L2397.30 271.16M2356.40 357.06L2421.60 357.06M2397.30 296.93L2421.60 296.93M2421.60 357.06L2421.60 296.93M2356.40 391.42L2405.50 391.42M2356.40 425.78L2405.50 425.78M2405.50 391.42L2405.50 425.78M2421.60 327.00L2423.60 327.00M2405.50 408.60L2423.60 408.60M2423.60 327.00L2423.60 408.60M2423.00 138.02L2439.00 138.02M2423.60 367.80L2439.00 367.80M2439.00 138.02L2439.00 367.80M2356.40 494.50L2402.00 494.50M2356.40 528.86L2402.00 528.86M2402.00 494.50L2402.00 528.86M2356.40 460.14L2418.00 460.14M2402.00 511.68L2418.00 511.68M2418.00 460.14L2418.00 511.68M2356.40 563.22L2422.50 563.22M2356.40 597.58L2422.50 597.58M2422.50 563.22L2422.50 597.58M2418.00 485.91L2434.70 485.91M2422.50 580.40L2434.70 580.40M2434.70 485.91L2434.70 580.40M2356.40 700.66L2404.00 700.66M2356.40 735.02L2404.00 735.02M2404.00 700.66L2404.00 735.02M2356.40 666.30L2412.20 666.30M2404.00 717.84L2412.20 717.84M2412.20 666.30L2412.20 717.84M2356.40 631.94L2427.40 631.94M2412.20 692.07L2427.40 692.07M2427.40 631.94L2427.40 692.07M2434.70 533.15L2439.00 533.15M2427.40 662.00L2439.00 662.00M2439.00 533.15L2439.00 662.00M2356.40 769.38L2414.90 769.38M2356.40 803.74L2414.90 803.74M2414.90 769.38L2414.90 803.74M2414.90 786.56L2420.70 786.56M2356.40 838.10L2420.70 838.10M2420.70 786.56L2420.70 838.10M2356.40 906.82L2391.00 906.82M2356.40 941.18L2391.00 941.18M2391.00 906.82L2391.00 941.18M2356.40 872.46L2413.70 872.46M2391.00 924.00L2413.70 924.00M2413.70 872.46L2413.70 924.00M2420.70 812.33L2434.70 812.33M2413.70 898.23L2434.70 898.23M2434.70 812.33L2434.70 898.23M2439.00 597.58L2447.00 597.58M2434.70 855.28L2447.00 855.28M2447.00 597.58L2447.00 855.28M2439.00 252.91L2448.70 252.91M2447.00 726.43L2448.70 726.43M2448.70 252.91L2448.70 726.43M2356.40 1009.90L2399.00 1009.90M2356.40 1044.26L2399.00 1044.26M2399.00 1009.90L2399.00 1044.26M2356.40 1078.62L2423.00 1078.62M2399.00 1027.08L2423.00 1027.08M2423.00 1078.62L2423.00 1027.08M2356.40 975.54L2428.30 975.54M2423.00 1052.85L2428.30 1052.85M2428.30 975.54L2428.30 1052.85M2356.40 1147.34L2412.00 1147.34M2356.40 1181.70L2412.00 1181.70M2412.00 1147.34L2412.00 1181.70M2356.40 1112.98L2417.20 1112.98M2412.00 1164.52L2417.20 1164.52M2417.20 1112.98L2417.20 1164.52M2428.30 1014.19L2442.90 1014.19M2417.20 1138.75L2442.90 1138.75M2442.90 1014.19L2442.90 1138.75M2356.40 1216.06L2420.70 1216.06M2356.40 1250.42L2420.70 1250.42M2420.70 1216.06L2420.70 1250.42M2356.40 1319.14L2391.00 1319.14M2356.40 1353.50L2391.00 1353.50M2391.00 1319.14L2391.00 1353.50M2356.40 1284.78L2412.80 1284.78M2391.00 1336.32L2412.80 1336.32M2412.80 1284.78L2412.80 1336.32M2420.70 1233.24L2426.00 1233.24M2412.80 1310.55L2426.00 1310.55M2426.00 1233.24L2426.00 1310.55M2356.40 1387.86L2412.00 1387.86M2356.40 1422.22L2412.00 1422.22M2412.00 1387.86L2412.00 1422.22M2356.40 1456.58L2400.20 1456.58M2356.40 1490.94L2400.20 1490.94M2400.20 1456.58L2400.20 1490.94M2412.00 1405.04L2434.00 1405.04M2400.20 1473.76L2434.00 1473.76M2434.00 1405.04L2434.00 1473.76M2426.00 1271.89L2439.00 1271.89M2434.00 1439.40L2439.00 1439.40M2439.00 1271.89L2439.00 1439.40M2442.90 1076.47L2448.70 1076.47M2439.00 1355.65L2448.70 1355.65M2448.70 1076.47L2448.70 1355.65M2356.40 1559.66L2409.00 1559.66M2356.40 1594.02L2409.00 1594.02M2409.00 1559.66L2409.00 1594.02M2356.40 1525.30L2420.10 1525.30M2409.00 1576.84L2420.10 1576.84M2420.10 1525.30L2420.10 1576.84M2356.40 1662.74L2393.40 1662.74M2356.40 1697.10L2393.40 1697.10M2393.40 1662.74L2393.40 1697.10M2356.40 1628.38L2396.70 1628.38M2393.40 1679.92L2396.70 1679.92M2396.70 1628.38L2396.70 1679.92M2396.70 1654.15L2417.90 1654.15M2356.40 1731.46L2417.90 1731.46M2417.90 1654.15L2417.90 1731.46M2417.90 1692.81L2424.10 1692.81M2356.40 1765.82L2424.10 1765.82M2424.10 1692.81L2424.10 1765.82M2420.10 1551.07L2441.30 1551.07M2424.10 1729.31L2441.30 1729.31M2441.30 1551.07L2441.30 1729.31M2448.70 1216.06L2449.70 1216.06M2441.30 1640.19L2449.70 1640.19M2449.70 1216.06L2449.70 1640.19M2448.70 489.67L2459.60 489.67M2449.70 1428.13L2459.60 1428.13M2459.60 489.67L2459.60 1428.13" stroke="#000" stroke-width="2.6" fill="none" stroke-linecap="round"/>
<rect x="2646.45" y="71.93" width="58.60" height="20.5" fill="#3D5BA9" stroke="#000" stroke-width="2.5" stroke-linejoin="round"/>
<rect x="2646.45" y="106.29" width="58.60" height="20.5" fill="#3D5BA9" stroke="#000" stroke-width="2.5" stroke-linejoin="round"/>
<rect x="2646.45" y="140.65" width="55.60" height="20.5" fill="#3D5BA9" stroke="#000" stroke-width="2.5" stroke-linejoin="round"/>
<rect x="2646.45" y="175.01" width="57.40" height="20.5" fill="#3D5BA9" stroke="#000" stroke-width="2.5" stroke-linejoin="round"/>
<rect x="2646.45" y="209.37" width="62.20" height="20.5" fill="#3D5BA9" stroke="#000" stroke-width="2.5" stroke-linejoin="round"/>
<rect x="2646.45" y="243.73" width="72.40" height="20.5" fill="#3D5BA9" stroke="#000" stroke-width="2.5" stroke-linejoin="round"/>
<rect x="2646.45" y="278.09" width="71.20" height="20.5" fill="#3D5BA9" stroke="#000" stroke-width="2.5" stroke-linejoin="round"/>
<rect x="2646.45" y="312.45" width="56.80" height="20.5" fill="#3D5BA9" stroke="#000" stroke-width="2.5" stroke-linejoin="round"/>
<rect x="2646.45" y="346.81" width="58.60" height="20.5" fill="#3D5BA9" stroke="#000" stroke-width="2.5" stroke-linejoin="round"/>
<rect x="2646.45" y="381.17" width="53.20" height="20.5" fill="#3D5BA9" stroke="#000" stroke-width="2.5" stroke-linejoin="round"/>
<rect x="2646.45" y="415.53" width="54.40" height="20.5" fill="#3D5BA9" stroke="#000" stroke-width="2.5" stroke-linejoin="round"/>
<rect x="2646.45" y="449.89" width="77.20" height="20.5" fill="#3D5BA9" stroke="#000" stroke-width="2.5" stroke-linejoin="round"/>
<rect x="2646.45" y="484.25" width="53.80" height="20.5" fill="#3D5BA9" stroke="#000" stroke-width="2.5" stroke-linejoin="round"/>
<rect x="2646.45" y="518.61" width="53.80" height="20.5" fill="#3D5BA9" stroke="#000" stroke-width="2.5" stroke-linejoin="round"/>
<rect x="2646.45" y="552.97" width="59.20" height="20.5" fill="#3D5BA9" stroke="#000" stroke-width="2.5" stroke-linejoin="round"/>
<rect x="2646.45" y="587.33" width="67.60" height="20.5" fill="#3D5BA9" stroke="#000" stroke-width="2.5" stroke-linejoin="round"/>
<rect x="2646.45" y="621.69" width="61.00" height="20.5" fill="#3D5BA9" stroke="#000" stroke-width="2.5" stroke-linejoin="round"/>
<rect x="2646.45" y="656.05" width="56.20" height="20.5" fill="#3D5BA9" stroke="#000" stroke-width="2.5" stroke-linejoin="round"/>
<rect x="2646.45" y="690.41" width="63.40" height="20.5" fill="#3D5BA9" stroke="#000" stroke-width="2.5" stroke-linejoin="round"/>
<rect x="2646.45" y="724.77" width="69.40" height="20.5" fill="#3D5BA9" stroke="#000" stroke-width="2.5" stroke-linejoin="round"/>
<rect x="2646.45" y="759.13" width="55.00" height="20.5" fill="#3D5BA9" stroke="#000" stroke-width="2.5" stroke-linejoin="round"/>
<rect x="2646.45" y="793.49" width="60.40" height="20.5" fill="#3D5BA9" stroke="#000" stroke-width="2.5" stroke-linejoin="round"/>
<rect x="2646.45" y="827.85" width="56.80" height="20.5" fill="#3D5BA9" stroke="#000" stroke-width="2.5" stroke-linejoin="round"/>
<rect x="2646.45" y="862.21" width="62.20" height="20.5" fill="#3D5BA9" stroke="#000" stroke-width="2.5" stroke-linejoin="round"/>
<rect x="2646.45" y="896.57" width="55.00" height="20.5" fill="#3D5BA9" stroke="#000" stroke-width="2.5" stroke-linejoin="round"/>
<rect x="2646.45" y="930.93" width="60.30" height="20.5" fill="#3D5BA9" stroke="#000" stroke-width="2.5" stroke-linejoin="round"/>
<rect x="2646.45" y="965.29" width="77.30" height="20.5" fill="#3D5BA9" stroke="#000" stroke-width="2.5" stroke-linejoin="round"/>
<rect x="2646.45" y="999.65" width="54.70" height="20.5" fill="#3D5BA9" stroke="#000" stroke-width="2.5" stroke-linejoin="round"/>
<rect x="2646.45" y="1034.01" width="54.70" height="20.5" fill="#3D5BA9" stroke="#000" stroke-width="2.5" stroke-linejoin="round"/>
<rect x="2646.45" y="1068.37" width="53.40" height="20.5" fill="#3D5BA9" stroke="#000" stroke-width="2.5" stroke-linejoin="round"/>
<rect x="2646.45" y="1102.73" width="55.90" height="20.5" fill="#3D5BA9" stroke="#000" stroke-width="2.5" stroke-linejoin="round"/>
<rect x="2646.45" y="1137.09" width="54.70" height="20.5" fill="#3D5BA9" stroke="#000" stroke-width="2.5" stroke-linejoin="round"/>
<rect x="2646.45" y="1171.45" width="60.30" height="20.5" fill="#3D5BA9" stroke="#000" stroke-width="2.5" stroke-linejoin="round"/>
<rect x="2646.45" y="1205.81" width="52.80" height="20.5" fill="#3D5BA9" stroke="#000" stroke-width="2.5" stroke-linejoin="round"/>
<rect x="2646.45" y="1240.17" width="62.80" height="20.5" fill="#3D5BA9" stroke="#000" stroke-width="2.5" stroke-linejoin="round"/>
<rect x="2646.45" y="1274.53" width="62.20" height="20.5" fill="#3D5BA9" stroke="#000" stroke-width="2.5" stroke-linejoin="round"/>
<rect x="2646.45" y="1308.89" width="54.70" height="20.5" fill="#3D5BA9" stroke="#000" stroke-width="2.5" stroke-linejoin="round"/>
<rect x="2646.45" y="1343.25" width="57.80" height="20.5" fill="#3D5BA9" stroke="#000" stroke-width="2.5" stroke-linejoin="round"/>
<rect x="2646.45" y="1377.61" width="57.80" height="20.5" fill="#3D5BA9" stroke="#000" stroke-width="2.5" stroke-linejoin="round"/>
<rect x="2646.45" y="1411.97" width="54.10" height="20.5" fill="#3D5BA9" stroke="#000" stroke-width="2.5" stroke-linejoin="round"/>
<rect x="2646.45" y="1446.33" width="71.00" height="20.5" fill="#3D5BA9" stroke="#000" stroke-width="2.5" stroke-linejoin="round"/>
<rect x="2646.45" y="1480.69" width="64.70" height="20.5" fill="#3D5BA9" stroke="#000" stroke-width="2.5" stroke-linejoin="round"/>
<rect x="2646.45" y="1515.05" width="55.90" height="20.5" fill="#3D5BA9" stroke="#000" stroke-width="2.5" stroke-linejoin="round"/>
<rect x="2646.45" y="1549.41" width="76.00" height="20.5" fill="#3D5BA9" stroke="#000" stroke-width="2.5" stroke-linejoin="round"/>
<rect x="2646.45" y="1583.77" width="63.50" height="20.5" fill="#3D5BA9" stroke="#000" stroke-width="2.5" stroke-linejoin="round"/>
<rect x="2646.45" y="1618.13" width="72.20" height="20.5" fill="#3D5BA9" stroke="#000" stroke-width="2.5" stroke-linejoin="round"/>
<rect x="2646.45" y="1652.49" width="97.90" height="20.5" fill="#3D5BA9" stroke="#000" stroke-width="2.5" stroke-linejoin="round"/>
<rect x="2646.45" y="1686.85" width="71.60" height="20.5" fill="#3D5BA9" stroke="#000" stroke-width="2.5" stroke-linejoin="round"/>
<rect x="2646.45" y="1721.21" width="57.20" height="20.5" fill="#3D5BA9" stroke="#000" stroke-width="2.5" stroke-linejoin="round"/>
<rect x="2646.45" y="1755.57" width="54.10" height="20.5" fill="#3D5BA9" stroke="#000" stroke-width="2.5" stroke-linejoin="round"/>
<path d="M2646.6 1783.4L2748.6 1783.4" stroke="#000" stroke-width="3.2" stroke-linecap="round"/>
<path d="M2646.6 1783.4L2646.6 1787.6" stroke="#000" stroke-width="3"/>
<path d="M2676.2 1783.4L2676.2 1787.6" stroke="#000" stroke-width="3"/>
<path d="M2705.8 1783.4L2705.8 1787.6" stroke="#000" stroke-width="3"/>
<path d="M2735.4 1783.4L2735.4 1787.6" stroke="#000" stroke-width="3"/>
<text transform="translate(2656.10,1802) rotate(-90)" x="0" y="0" text-anchor="end" font-size="25" fill="#231815" textLength="10.6" lengthAdjust="spacingAndGlyphs">0</text>
<text transform="translate(2685.70,1802) rotate(-90)" x="0" y="0" text-anchor="end" font-size="25" fill="#231815" textLength="10.6" lengthAdjust="spacingAndGlyphs">1</text>
<text transform="translate(2715.30,1802) rotate(-90)" x="0" y="0" text-anchor="end" font-size="25" fill="#231815" textLength="10.6" lengthAdjust="spacingAndGlyphs">2</text>
<text transform="translate(2744.90,1802) rotate(-90)" x="0" y="0" text-anchor="end" font-size="25" fill="#231815" textLength="10.6" lengthAdjust="spacingAndGlyphs">3</text>
<text x="2667.9" y="1854.4" font-size="34" fill="#231815" textLength="51.5" lengthAdjust="spacingAndGlyphs">VIP</text>
<text x="2837" y="92" font-size="35" font-weight="bold" fill="#231815" textLength="270" lengthAdjust="spacingAndGlyphs">Scaled intensity</text>
<defs><linearGradient id="g1" x1="0" y1="0" x2="0" y2="1"><stop offset="0.0000" stop-color="#ff0000"/><stop offset="0.0100" stop-color="#ff0000"/><stop offset="0.0200" stop-color="#ff0000"/><stop offset="0.0300" stop-color="#ff0000"/><stop offset="0.0400" stop-color="#fd0100"/><stop offset="0.0500" stop-color="#f70501"/><stop offset="0.0600" stop-color="#f10902"/><stop offset="0.0700" stop-color="#eb0c03"/><stop offset="0.0800" stop-color="#e50f04"/><stop offset="0.0900" stop-color="#df1105"/><stop offset="0.1000" stop-color="#d91306"/><stop offset="0.1100" stop-color="#d31406"/><stop offset="0.1200" stop-color="#cd1607"/><stop offset="0.1300" stop-color="#c71708"/><stop offset="0.1400" stop-color="#c21808"/><stop offset="0.1500" stop-color="#bc1909"/><stop offset="0.1600" stop-color="#b61909"/><stop offset="0.1700" stop-color="#b01a0a"/><stop offset="0.1800" stop-color="#ab1a0a"/><stop offset="0.1900" stop-color="#a51b0b"/><stop offset="0.2000" stop-color="#9f1b0b"/><stop offset="0.2100" stop-color="#9a1b0b"/><stop offset="0.2200" stop-color="#941b0b"/><stop offset="0.2300" stop-color="#8f1b0c"/><stop offset="0.2400" stop-color="#891b0c"/><stop offset="0.2500" stop-color="#841b0c"/><stop offset="0.2600" stop-color="#7e1b0c"/><stop offset="0.2700" stop-color="#791b0c"/><stop offset="0.2800" stop-color="#741a0c"/><stop offset="0.2900" stop-color="#6f1a0c"/><stop offset="0.3000" stop-color="#691a0c"/><stop offset="0.3100" stop-color="#64190c"/><stop offset="0.3200" stop-color="#5f190b"/><stop offset="0.3300" stop-color="#5a180b"/><stop offset="0.3400" stop-color="#55180b"/><stop offset="0.3500" stop-color="#50170a"/><stop offset="0.3600" stop-color="#4b160a"/><stop offset="0.3700" stop-color="#461609"/><stop offset="0.3800" stop-color="#411509"/><stop offset="0.3900" stop-color="#3c1408"/><stop offset="0.4000" stop-color="#381307"/><stop offset="0.4100" stop-color="#331207"/><stop offset="0.4200" stop-color="#2e1106"/><stop offset="0.4300" stop-color="#2a1005"/><stop offset="0.4400" stop-color="#250f04"/><stop offset="0.4500" stop-color="#210d04"/><stop offset="0.4600" stop-color="#1d0b03"/><stop offset="0.4700" stop-color="#180802"/><stop offset="0.4800" stop-color="#120501"/><stop offset="0.4900" stop-color="#090201"/><stop offset="0.5000" stop-color="#000100"/><stop offset="0.5100" stop-color="#050903"/><stop offset="0.5200" stop-color="#091005"/><stop offset="0.5300" stop-color="#0d1508"/><stop offset="0.5400" stop-color="#101a0a"/><stop offset="0.5500" stop-color="#121e0c"/><stop offset="0.5600" stop-color="#14220e"/><stop offset="0.5700" stop-color="#152710"/><stop offset="0.5800" stop-color="#162b11"/><stop offset="0.5900" stop-color="#183012"/><stop offset="0.6000" stop-color="#193513"/><stop offset="0.6100" stop-color="#1a3a13"/><stop offset="0.6200" stop-color="#1b3e14"/><stop offset="0.6300" stop-color="#1c4315"/><stop offset="0.6400" stop-color="#1d4815"/><stop offset="0.6500" stop-color="#1e4d16"/><stop offset="0.6600" stop-color="#1f5217"/><stop offset="0.6700" stop-color="#205817"/><stop offset="0.6800" stop-color="#215d18"/><stop offset="0.6900" stop-color="#226218"/><stop offset="0.7000" stop-color="#226718"/><stop offset="0.7100" stop-color="#236d19"/><stop offset="0.7200" stop-color="#237219"/><stop offset="0.7300" stop-color="#247719"/><stop offset="0.7400" stop-color="#247d19"/><stop offset="0.7500" stop-color="#258219"/><stop offset="0.7600" stop-color="#25881a"/><stop offset="0.7700" stop-color="#258d1a"/><stop offset="0.7800" stop-color="#259319"/><stop offset="0.7900" stop-color="#259919"/><stop offset="0.8000" stop-color="#259e19"/><stop offset="0.8100" stop-color="#24a419"/><stop offset="0.8200" stop-color="#24aa18"/><stop offset="0.8300" stop-color="#23b018"/><stop offset="0.8400" stop-color="#23b517"/><stop offset="0.8500" stop-color="#22bb17"/><stop offset="0.8600" stop-color="#21c116"/><stop offset="0.8700" stop-color="#20c715"/><stop offset="0.8800" stop-color="#1ecd14"/><stop offset="0.8900" stop-color="#1dd313"/><stop offset="0.9000" stop-color="#1bd911"/><stop offset="0.9100" stop-color="#19df0f"/><stop offset="0.9200" stop-color="#16e50d"/><stop offset="0.9300" stop-color="#13eb0b"/><stop offset="0.9400" stop-color="#0ef208"/><stop offset="0.9500" stop-color="#08f804"/><stop offset="0.9600" stop-color="#01fe01"/><stop offset="0.9700" stop-color="#00ff00"/><stop offset="0.9800" stop-color="#00ff00"/><stop offset="0.9900" stop-color="#00ff00"/><stop offset="1.0000" stop-color="#00ff00"/></linearGradient></defs><rect x="2839.2" y="110.4" width="43.4" height="218.20" fill="url(#g1)"/><path d="M2839.2 118.4L2849.7 118.4M2872.1 118.4L2882.6 118.4" stroke="#fff" stroke-width="3" stroke-linecap="round"/><text x="2897.7" y="131.30" font-size="36" fill="#000">2</text><path d="M2839.2 168.8L2849.7 168.8M2872.1 168.8L2882.6 168.8" stroke="#fff" stroke-width="3" stroke-linecap="round"/><text x="2897.7" y="181.70" font-size="36" fill="#000">1</text><path d="M2839.2 219.5L2849.7 219.5M2872.1 219.5L2882.6 219.5" stroke="#fff" stroke-width="3" stroke-linecap="round"/><text x="2897.7" y="232.40" font-size="36" fill="#000">0</text><path d="M2839.2 270L2849.7 270M2872.1 270L2882.6 270" stroke="#fff" stroke-width="3" stroke-linecap="round"/><text x="2897.7" y="282.90" font-size="36" fill="#000">-1</text><path d="M2839.2 320.2L2849.7 320.2M2872.1 320.2L2882.6 320.2" stroke="#fff" stroke-width="3" stroke-linecap="round"/><text x="2897.7" y="333.10" font-size="36" fill="#000">-2</text>
<defs><clipPath id="gclip"><rect x="0" y="0" width="3525.5" height="1979"/></clipPath></defs><text x="3422" y="97" font-size="36" font-weight="bold" fill="#231815" textLength="112" lengthAdjust="spacingAndGlyphs" clip-path="url(#gclip)">Group</text>
<rect x="3425.5" y="113.9" width="37.2" height="37" fill="#BC3C29"/>
<rect x="3425.5" y="154" width="37.2" height="37" fill="#0072B5"/>
<text x="3476" y="144.6" font-size="35" fill="#000" textLength="42" lengthAdjust="spacingAndGlyphs">DZ</text>
<text x="3476" y="185" font-size="36" fill="#000">S</text>
<text x="2837" y="392.5" font-size="35" font-weight="bold" fill="#231815" textLength="190" lengthAdjust="spacingAndGlyphs">KEGG class</text>
<rect x="2842" y="416.00" width="37.5" height="38" fill="#BC3C29"/>
<text x="2897.6" y="447.00" font-size="35.7" fill="#000">Alkaloids</text>
<rect x="2842" y="456.67" width="37.5" height="38" fill="#0072B5"/>
<text x="2897.6" y="487.67" font-size="35.7" fill="#000">FA Fatty acyls</text>
<rect x="2842" y="497.34" width="37.5" height="38" fill="#E18727"/>
<text x="2897.6" y="528.34" font-size="35.7" fill="#000">Nucleic acids</text>
<rect x="2842" y="538.01" width="37.5" height="38" fill="#20854E"/>
<text x="2897.6" y="569.01" font-size="35.7" fill="#000">Organic acids</text>
<rect x="2842" y="578.68" width="37.5" height="38" fill="#7876B1"/>
<text x="2897.6" y="609.68" font-size="35.7" fill="#000">Peptides</text>
<rect x="2842" y="619.35" width="37.5" height="38" fill="#6F99AD"/>
<text x="2897.6" y="650.35" font-size="35.7" fill="#000">PK Polyketides</text>
<rect x="2842" y="660.02" width="37.5" height="38" fill="#FFDC91"/>
<text x="2897.6" y="691.02" font-size="35.7" fill="#000">Polyketides</text>
<rect x="2842" y="700.69" width="37.5" height="38" fill="#EE4C97"/>
<text x="2897.6" y="731.69" font-size="35.7" fill="#000">Steroids</text>
<rect x="2842" y="741.36" width="37.5" height="38" fill="#374E55"/>
<text x="2897.6" y="772.36" font-size="35.7" fill="#000">Terpenoids</text>
<rect x="2842" y="782.03" width="37.5" height="38" fill="#DF8F44"/>
<text x="2897.6" y="813.03" font-size="35.7" fill="#000">Unknown</text>
<text x="2837" y="891" font-size="35" font-weight="bold" fill="#231815" textLength="198" lengthAdjust="spacingAndGlyphs">HMDB class</text>
<rect x="2842" y="911.50" width="37.5" height="38.2" fill="#BC3C29"/>
<text x="2897.6" y="942.50" font-size="35.7" fill="#000">Alkaloids and derivatives</text>
<rect x="2842" y="952.40" width="37.5" height="38.2" fill="#0072B5"/>
<text x="2897.6" y="983.40" font-size="35.7" fill="#000">Benzenoids</text>
<rect x="2842" y="993.30" width="37.5" height="38.2" fill="#E18727"/>
<text x="2897.6" y="1024.30" font-size="35.7" fill="#000">Lipids and lipid-like molecules</text>
<rect x="2842" y="1034.20" width="37.5" height="38.2" fill="#20854E"/>
<text x="2897.6" y="1065.20" font-size="35.7" fill="#000">Nucleosides, nucleotides, and analogues</text>
<rect x="2842" y="1075.10" width="37.5" height="38.2" fill="#7876B1"/>
<text x="2897.6" y="1106.10" font-size="35.7" fill="#000">Organic acids and derivatives</text>
<rect x="2842" y="1116.00" width="37.5" height="38.2" fill="#6F99AD"/>
<text x="2897.6" y="1147.00" font-size="35.7" fill="#000">Organic oxygen compounds</text>
<rect x="2842" y="1156.90" width="37.5" height="38.2" fill="#FFDC91"/>
<text x="2897.6" y="1187.90" font-size="35.7" fill="#000">Organoheterocyclic compounds</text>
<rect x="2842" y="1197.80" width="37.5" height="38.2" fill="#EE4C97"/>
<text x="2897.6" y="1228.80" font-size="35.7" fill="#000">Phenylpropanoids and polyketides</text>
<rect x="2842" y="1238.70" width="37.5" height="38.2" fill="#374E55"/>
<text x="2897.6" y="1269.70" font-size="35.7" fill="#000">Unknown</text>
<text x="2837" y="1345" font-size="35" font-weight="bold" fill="#231815" textLength="165" lengthAdjust="spacingAndGlyphs">Log2 (FC)</text>
<defs><linearGradient id="g2" x1="0" y1="0" x2="0" y2="1"><stop offset="0.0000" stop-color="#ff0000"/><stop offset="0.0100" stop-color="#ff0000"/><stop offset="0.0200" stop-color="#ff0000"/><stop offset="0.0300" stop-color="#ff0000"/><stop offset="0.0400" stop-color="#ff0000"/><stop offset="0.0500" stop-color="#ff0000"/><stop offset="0.0600" stop-color="#ff0000"/><stop offset="0.0700" stop-color="#ff0000"/><stop offset="0.0800" stop-color="#ff0000"/><stop offset="0.0900" stop-color="#ff0000"/><stop offset="0.1000" stop-color="#ff0000"/><stop offset="0.1100" stop-color="#ff0000"/><stop offset="0.1200" stop-color="#ff0000"/><stop offset="0.1300" stop-color="#ff0000"/><stop offset="0.1400" stop-color="#ff0000"/><stop offset="0.1500" stop-color="#ff0000"/><stop offset="0.1600" stop-color="#ff0000"/><stop offset="0.1700" stop-color="#ff0000"/><stop offset="0.1800" stop-color="#ff1306"/><stop offset="0.1900" stop-color="#ff2711"/><stop offset="0.2000" stop-color="#ff341a"/><stop offset="0.2100" stop-color="#ff3e22"/><stop offset="0.2200" stop-color="#ff482a"/><stop offset="0.2300" stop-color="#ff5031"/><stop offset="0.2400" stop-color="#ff5838"/><stop offset="0.2500" stop-color="#ff5f3f"/><stop offset="0.2600" stop-color="#ff6646"/><stop offset="0.2700" stop-color="#ff6d4c"/><stop offset="0.2800" stop-color="#ff7453"/><stop offset="0.2900" stop-color="#ff7a5a"/><stop offset="0.3000" stop-color="#ff8061"/><stop offset="0.3100" stop-color="#ff8668"/><stop offset="0.3200" stop-color="#ff8c6e"/><stop offset="0.3300" stop-color="#ff9275"/><stop offset="0.3400" stop-color="#ff987c"/><stop offset="0.3500" stop-color="#ff9e83"/><stop offset="0.3600" stop-color="#ffa38a"/><stop offset="0.3700" stop-color="#ffa991"/><stop offset="0.3800" stop-color="#ffaf98"/><stop offset="0.3900" stop-color="#ffb49f"/><stop offset="0.4000" stop-color="#ffbaa6"/><stop offset="0.4100" stop-color="#ffbfae"/><stop offset="0.4200" stop-color="#ffc4b5"/><stop offset="0.4300" stop-color="#ffcabc"/><stop offset="0.4400" stop-color="#fdcfc3"/><stop offset="0.4500" stop-color="#fbd5cb"/><stop offset="0.4600" stop-color="#f9dad2"/><stop offset="0.4700" stop-color="#f6dfd9"/><stop offset="0.4800" stop-color="#f3e5e1"/><stop offset="0.4900" stop-color="#f0eae8"/><stop offset="0.5000" stop-color="#edecee"/><stop offset="0.5100" stop-color="#eae6ef"/><stop offset="0.5200" stop-color="#e6dff0"/><stop offset="0.5300" stop-color="#e2d8f1"/><stop offset="0.5400" stop-color="#dfd2f2"/><stop offset="0.5500" stop-color="#dbcbf3"/><stop offset="0.5600" stop-color="#d7c4f3"/><stop offset="0.5700" stop-color="#d3bef4"/><stop offset="0.5800" stop-color="#cfb7f5"/><stop offset="0.5900" stop-color="#cbb1f6"/><stop offset="0.6000" stop-color="#c6aaf6"/><stop offset="0.6100" stop-color="#c2a4f7"/><stop offset="0.6200" stop-color="#bd9df8"/><stop offset="0.6300" stop-color="#b996f8"/><stop offset="0.6400" stop-color="#b490f9"/><stop offset="0.6500" stop-color="#af89f9"/><stop offset="0.6600" stop-color="#aa83fa"/><stop offset="0.6700" stop-color="#a57cfa"/><stop offset="0.6800" stop-color="#9f76fb"/><stop offset="0.6900" stop-color="#9a6ffb"/><stop offset="0.7000" stop-color="#9469fb"/><stop offset="0.7100" stop-color="#8e62fc"/><stop offset="0.7200" stop-color="#875bfc"/><stop offset="0.7300" stop-color="#8154fd"/><stop offset="0.7400" stop-color="#794efd"/><stop offset="0.7500" stop-color="#7247fd"/><stop offset="0.7600" stop-color="#6a3ffe"/><stop offset="0.7700" stop-color="#6138fe"/><stop offset="0.7800" stop-color="#5730fe"/><stop offset="0.7900" stop-color="#4b28fe"/><stop offset="0.8000" stop-color="#3d1eff"/><stop offset="0.8100" stop-color="#2b12ff"/><stop offset="0.8200" stop-color="#0401ff"/><stop offset="0.8300" stop-color="#0000ff"/><stop offset="0.8400" stop-color="#0000ff"/><stop offset="0.8500" stop-color="#0000ff"/><stop offset="0.8600" stop-color="#0000ff"/><stop offset="0.8700" stop-color="#0000ff"/><stop offset="0.8800" stop-color="#0000ff"/><stop offset="0.8900" stop-color="#0000ff"/><stop offset="0.9000" stop-color="#0000ff"/><stop offset="0.9100" stop-color="#0000ff"/><stop offset="0.9200" stop-color="#0000ff"/><stop offset="0.9300" stop-color="#0000ff"/><stop offset="0.9400" stop-color="#0000ff"/><stop offset="0.9500" stop-color="#0000ff"/><stop offset="0.9600" stop-color="#0000ff"/><stop offset="0.9700" stop-color="#0000ff"/><stop offset="0.9800" stop-color="#0000ff"/><stop offset="0.9900" stop-color="#0000ff"/><stop offset="1.0000" stop-color="#0000ff"/></linearGradient></defs><rect x="2839.2" y="1364" width="43.4" height="219.00" fill="url(#g2)"/><path d="M2839.2 1372L2849.7 1372M2872.1 1372L2882.6 1372" stroke="#fff" stroke-width="3" stroke-linecap="round"/><text x="2897.7" y="1384.90" font-size="36" fill="#000">10</text><path d="M2839.2 1422.7L2849.7 1422.7M2872.1 1422.7L2882.6 1422.7" stroke="#fff" stroke-width="3" stroke-linecap="round"/><text x="2897.7" y="1435.60" font-size="36" fill="#000">5</text><path d="M2839.2 1473.5L2849.7 1473.5M2872.1 1473.5L2882.6 1473.5" stroke="#fff" stroke-width="3" stroke-linecap="round"/><text x="2897.7" y="1486.40" font-size="36" fill="#000">0</text><path d="M2839.2 1524L2849.7 1524M2872.1 1524L2882.6 1524" stroke="#fff" stroke-width="3" stroke-linecap="round"/><text x="2897.7" y="1536.90" font-size="36" fill="#000">-5</text><path d="M2839.2 1574L2849.7 1574M2872.1 1574L2882.6 1574" stroke="#fff" stroke-width="3" stroke-linecap="round"/><text x="2897.7" y="1586.90" font-size="36" fill="#000">-10</text>
<text x="2837" y="1652" font-size="35" font-weight="bold" fill="#231815" textLength="116" lengthAdjust="spacingAndGlyphs">-Lg (<tspan font-style="italic">P</tspan>)</text>
<defs><linearGradient id="g3" x1="0" y1="0" x2="0" y2="1"><stop offset="0.0000" stop-color="#ff0000"/><stop offset="0.0100" stop-color="#ff0000"/><stop offset="0.0200" stop-color="#ff0000"/><stop offset="0.0300" stop-color="#ff0000"/><stop offset="0.0400" stop-color="#ff0000"/><stop offset="0.0500" stop-color="#ff0000"/><stop offset="0.0600" stop-color="#ff0000"/><stop offset="0.0700" stop-color="#ff0000"/><stop offset="0.0800" stop-color="#ff0000"/><stop offset="0.0900" stop-color="#ff0000"/><stop offset="0.1000" stop-color="#ff0000"/><stop offset="0.1100" stop-color="#ff0000"/><stop offset="0.1200" stop-color="#ff0000"/><stop offset="0.1300" stop-color="#ff0000"/><stop offset="0.1400" stop-color="#ff0000"/><stop offset="0.1500" stop-color="#ff0000"/><stop offset="0.1600" stop-color="#ff0000"/><stop offset="0.1700" stop-color="#ff0000"/><stop offset="0.1800" stop-color="#ff0000"/><stop offset="0.1900" stop-color="#ff0000"/><stop offset="0.2000" stop-color="#ff0000"/><stop offset="0.2100" stop-color="#ff0000"/><stop offset="0.2200" stop-color="#ff0000"/><stop offset="0.2300" stop-color="#ff0000"/><stop offset="0.2400" stop-color="#ff0000"/><stop offset="0.2500" stop-color="#ff0000"/><stop offset="0.2600" stop-color="#ff0000"/><stop offset="0.2700" stop-color="#ff0000"/><stop offset="0.2800" stop-color="#ff0000"/><stop offset="0.2900" stop-color="#ff0000"/><stop offset="0.3000" stop-color="#ff0000"/><stop offset="0.3100" stop-color="#ff0000"/><stop offset="0.3200" stop-color="#ff0000"/><stop offset="0.3300" stop-color="#ff0000"/><stop offset="0.3400" stop-color="#ff0000"/><stop offset="0.3500" stop-color="#ff0000"/><stop offset="0.3600" stop-color="#ff0000"/><stop offset="0.3700" stop-color="#ff0000"/><stop offset="0.3800" stop-color="#ff0301"/><stop offset="0.3900" stop-color="#ff1306"/><stop offset="0.4000" stop-color="#ff1d0b"/><stop offset="0.4100" stop-color="#ff2510"/><stop offset="0.4200" stop-color="#ff2b14"/><stop offset="0.4300" stop-color="#ff3118"/><stop offset="0.4400" stop-color="#ff361c"/><stop offset="0.4500" stop-color="#ff3b20"/><stop offset="0.4600" stop-color="#ff4023"/><stop offset="0.4700" stop-color="#ff4426"/><stop offset="0.4800" stop-color="#ff482a"/><stop offset="0.4900" stop-color="#ff4c2d"/><stop offset="0.5000" stop-color="#ff4f30"/><stop offset="0.5100" stop-color="#ff5333"/><stop offset="0.5200" stop-color="#ff5636"/><stop offset="0.5300" stop-color="#ff5a39"/><stop offset="0.5400" stop-color="#ff5d3c"/><stop offset="0.5500" stop-color="#ff6040"/><stop offset="0.5600" stop-color="#ff6343"/><stop offset="0.5700" stop-color="#ff6646"/><stop offset="0.5800" stop-color="#ff6a49"/><stop offset="0.5900" stop-color="#ff6c4c"/><stop offset="0.6000" stop-color="#ff6f4f"/><stop offset="0.6100" stop-color="#ff7252"/><stop offset="0.6200" stop-color="#ff7555"/><stop offset="0.6300" stop-color="#ff7858"/><stop offset="0.6400" stop-color="#ff7b5b"/><stop offset="0.6500" stop-color="#ff7e5e"/><stop offset="0.6600" stop-color="#ff8061"/><stop offset="0.6700" stop-color="#ff8364"/><stop offset="0.6800" stop-color="#ff8667"/><stop offset="0.6900" stop-color="#ff886a"/><stop offset="0.7000" stop-color="#ff8b6d"/><stop offset="0.7100" stop-color="#ff8e70"/><stop offset="0.7200" stop-color="#ff9073"/><stop offset="0.7300" stop-color="#ff9376"/><stop offset="0.7400" stop-color="#ff9579"/><stop offset="0.7500" stop-color="#ff987c"/><stop offset="0.7600" stop-color="#ff9b7f"/><stop offset="0.7700" stop-color="#ff9d82"/><stop offset="0.7800" stop-color="#ffa086"/><stop offset="0.7900" stop-color="#ffa289"/><stop offset="0.8000" stop-color="#ffa58c"/><stop offset="0.8100" stop-color="#ffa78f"/><stop offset="0.8200" stop-color="#ffaa92"/><stop offset="0.8300" stop-color="#ffac95"/><stop offset="0.8400" stop-color="#ffaf98"/><stop offset="0.8500" stop-color="#ffb19b"/><stop offset="0.8600" stop-color="#ffb39f"/><stop offset="0.8700" stop-color="#ffb6a2"/><stop offset="0.8800" stop-color="#ffb8a5"/><stop offset="0.8900" stop-color="#ffbba8"/><stop offset="0.9000" stop-color="#ffbdab"/><stop offset="0.9100" stop-color="#ffc0ae"/><stop offset="0.9200" stop-color="#ffc2b2"/><stop offset="0.9300" stop-color="#ffc4b5"/><stop offset="0.9400" stop-color="#ffc7b8"/><stop offset="0.9500" stop-color="#fec9bb"/><stop offset="0.9600" stop-color="#fdccbe"/><stop offset="0.9700" stop-color="#fccec2"/><stop offset="0.9800" stop-color="#fbd0c5"/><stop offset="0.9900" stop-color="#fbd3c8"/><stop offset="1.0000" stop-color="#fad4ca"/></linearGradient></defs><rect x="2839.2" y="1667.3" width="43.4" height="120.20" fill="url(#g3)"/><path d="M2839.2 1675.7L2849.7 1675.7M2872.1 1675.7L2882.6 1675.7" stroke="#fff" stroke-width="3" stroke-linecap="round"/><text x="2897.7" y="1688.60" font-size="36" fill="#000">10</text><path d="M2839.2 1725.8L2849.7 1725.8M2872.1 1725.8L2882.6 1725.8" stroke="#fff" stroke-width="3" stroke-linecap="round"/><text x="2897.7" y="1738.70" font-size="36" fill="#000">8</text><path d="M2839.2 1774.6L2849.7 1774.6M2872.1 1774.6L2882.6 1774.6" stroke="#fff" stroke-width="3" stroke-linecap="round"/><text x="2897.7" y="1787.50" font-size="36" fill="#000">6</text>
</svg>
</div></body></html>
